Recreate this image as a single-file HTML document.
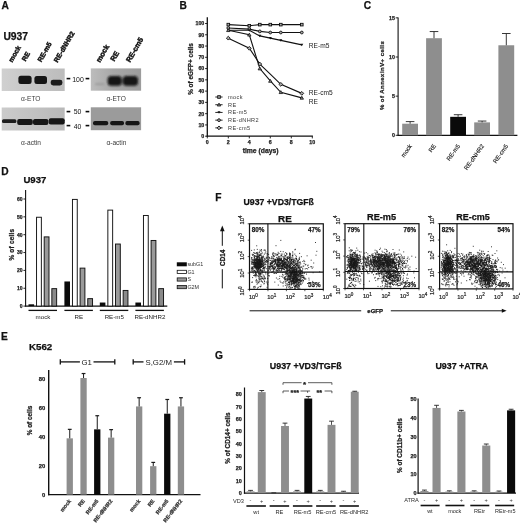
<!DOCTYPE html>
<html lang="en"><head><meta charset="utf-8"><title>Figure</title>
<style>
html,body{margin:0;padding:0;background:#fff;}
body{width:520px;height:528px;overflow:hidden;}
svg{display:block;font-family:"Liberation Sans",sans-serif;}
</style></head><body>
<svg width="520" height="528" viewBox="0 0 520 528">
<rect width="520" height="528" fill="#fff"/>
<g id="panelA">
<text x="1.60" y="9.30" font-size="10.2" font-weight="bold" fill="#111" stroke="#111" stroke-width="0.25">A</text>
<text x="3.40" y="40.00" font-size="10.3" font-weight="bold" fill="#111" stroke="#111" stroke-width="0.25">U937</text>
<defs><linearGradient id="gb1" x1="0" x2="1" y1="0" y2="0"><stop offset="0" stop-color="#d0d0d0"/><stop offset="1" stop-color="#bcbcbc"/></linearGradient><linearGradient id="gb3" x1="0" x2="1" y1="0" y2="0"><stop offset="0" stop-color="#bcbcbc"/><stop offset="0.45" stop-color="#a8a8a8"/><stop offset="1" stop-color="#9c9c9c"/></linearGradient><linearGradient id="gb2" x1="0" x2="1" y1="0" y2="0"><stop offset="0" stop-color="#cbcbcb"/><stop offset="1" stop-color="#b8b8b8"/></linearGradient><filter id="bl" x="-20%" y="-40%" width="140%" height="180%"><feGaussianBlur stdDeviation="0.6"/></filter><filter id="bl3" x="-20%" y="-40%" width="140%" height="180%"><feGaussianBlur stdDeviation="0.85"/></filter><filter id="bl2" x="-20%" y="-40%" width="140%" height="180%"><feGaussianBlur stdDeviation="0.5"/></filter></defs>
<rect x="1.70" y="68.50" width="63.00" height="22.50" fill="url(#gb1)"/>
<rect x="1.70" y="107.50" width="63.00" height="23.00" fill="url(#gb2)"/>
<rect x="90.80" y="68.40" width="50.30" height="22.30" fill="url(#gb3)"/>
<rect x="90.80" y="107.30" width="50.30" height="22.90" fill="#9b9b9b"/>
<g filter="url(#bl)">
<rect x="18.40" y="75.80" width="13.20" height="8.20" fill="#151515" rx="2.5"/>
<rect x="34.40" y="76.00" width="12.60" height="8.00" fill="#151515" rx="2.5"/>
<rect x="50.70" y="79.70" width="11.70" height="5.80" fill="#1c1c1c" rx="2.4"/>
</g>
<g filter="url(#bl3)">
<rect x="107.60" y="76.00" width="14.20" height="9.80" fill="#121212" rx="3.6"/>
<rect x="122.80" y="76.00" width="15.20" height="9.80" fill="#121212" rx="3.6"/>
<rect x="95.00" y="83.30" width="9.50" height="1.80" fill="#999" rx="0.9"/>
</g>
<g filter="url(#bl2)">
<rect x="2.00" y="119.30" width="14.40" height="3.80" fill="#1a1a1a" rx="1.5"/>
<rect x="17.20" y="118.90" width="15.60" height="6.00" fill="#141414" rx="2"/>
<rect x="33.00" y="119.10" width="15.40" height="6.00" fill="#141414" rx="2"/>
<rect x="48.70" y="118.20" width="16.00" height="6.20" fill="#141414" rx="2"/>
<rect x="93.00" y="121.00" width="15.20" height="4.20" fill="#151515" rx="1.8"/>
<rect x="110.20" y="121.00" width="13.80" height="4.20" fill="#151515" rx="1.8"/>
<rect x="125.40" y="121.00" width="14.20" height="4.20" fill="#151515" rx="1.8"/>
</g>
<text x="21.00" y="100.80" font-size="6.6" fill="#3a3a3a">α-ETO</text>
<text x="21.00" y="145.20" font-size="6.6" fill="#3a3a3a">α-actin</text>
<text x="106.40" y="101.00" font-size="6.6" fill="#3a3a3a">α-ETO</text>
<text x="106.40" y="145.20" font-size="6.6" fill="#3a3a3a">α-actin</text>
<text x="78.00" y="82.40" font-size="6.9" text-anchor="middle" fill="#111">100</text>
<text x="77.50" y="114.30" font-size="6.9" text-anchor="middle" fill="#111">50</text>
<text x="77.50" y="128.60" font-size="6.9" text-anchor="middle" fill="#111">40</text>
<line x1="66.60" y1="78.60" x2="70.30" y2="78.60" stroke="#0a0a0a" stroke-width="1.6"/>
<line x1="85.60" y1="78.60" x2="89.30" y2="78.60" stroke="#0a0a0a" stroke-width="1.6"/>
<line x1="66.60" y1="111.60" x2="70.30" y2="111.60" stroke="#0a0a0a" stroke-width="1.6"/>
<line x1="85.60" y1="111.60" x2="89.30" y2="111.60" stroke="#0a0a0a" stroke-width="1.6"/>
<line x1="66.60" y1="125.60" x2="70.30" y2="125.60" stroke="#0a0a0a" stroke-width="1.6"/>
<line x1="85.60" y1="125.60" x2="89.30" y2="125.60" stroke="#0a0a0a" stroke-width="1.6"/>
<text x="12.20" y="62.80" font-size="6.8" font-weight="bold" fill="#111" transform="rotate(-60 12.20 62.80)" stroke="#111" stroke-width="0.45">mock</text>
<text x="25.60" y="61.80" font-size="6.8" font-weight="bold" fill="#111" transform="rotate(-60 25.60 61.80)" stroke="#111" stroke-width="0.45">RE</text>
<text x="41.20" y="62.40" font-size="6.8" font-weight="bold" fill="#111" transform="rotate(-60 41.20 62.40)" stroke="#111" stroke-width="0.45">RE-m5</text>
<text x="57.60" y="62.90" font-size="6.8" font-weight="bold" fill="#111" transform="rotate(-60 57.60 62.90)" stroke="#111" stroke-width="0.45">RE-dNHR2</text>
<text x="99.90" y="63.00" font-size="7.3" font-weight="bold" fill="#111" transform="rotate(-60 99.90 63.00)" stroke="#111" stroke-width="0.45">mock</text>
<text x="114.30" y="61.80" font-size="7.3" font-weight="bold" fill="#111" transform="rotate(-60 114.30 61.80)" stroke="#111" stroke-width="0.45">RE</text>
<text x="130.00" y="62.80" font-size="7.3" font-weight="bold" fill="#111" transform="rotate(-60 130.00 62.80)" stroke="#111" stroke-width="0.45">RE-cm5</text>
</g>
<g id="panelB">
<text x="179.40" y="9.10" font-size="10.2" font-weight="bold" fill="#111" stroke="#111" stroke-width="0.25">B</text>
<line x1="207.30" y1="17.30" x2="207.30" y2="136.80" stroke="#111" stroke-width="1.3"/>
<line x1="206.70" y1="136.20" x2="312.90" y2="136.20" stroke="#111" stroke-width="1.3"/>
<line x1="205.10" y1="136.20" x2="207.30" y2="136.20" stroke="#111" stroke-width="0.9"/>
<text x="204.30" y="138.10" font-size="5.3" font-weight="bold" text-anchor="end" fill="#222" stroke="#222" stroke-width="0.25">0</text>
<line x1="205.10" y1="124.93" x2="207.30" y2="124.93" stroke="#111" stroke-width="0.9"/>
<text x="204.30" y="126.83" font-size="5.3" font-weight="bold" text-anchor="end" fill="#222" stroke="#222" stroke-width="0.25">10</text>
<line x1="205.10" y1="113.66" x2="207.30" y2="113.66" stroke="#111" stroke-width="0.9"/>
<text x="204.30" y="115.56" font-size="5.3" font-weight="bold" text-anchor="end" fill="#222" stroke="#222" stroke-width="0.25">20</text>
<line x1="205.10" y1="102.39" x2="207.30" y2="102.39" stroke="#111" stroke-width="0.9"/>
<text x="204.30" y="104.29" font-size="5.3" font-weight="bold" text-anchor="end" fill="#222" stroke="#222" stroke-width="0.25">30</text>
<line x1="205.10" y1="91.12" x2="207.30" y2="91.12" stroke="#111" stroke-width="0.9"/>
<text x="204.30" y="93.02" font-size="5.3" font-weight="bold" text-anchor="end" fill="#222" stroke="#222" stroke-width="0.25">40</text>
<line x1="205.10" y1="79.85" x2="207.30" y2="79.85" stroke="#111" stroke-width="0.9"/>
<text x="204.30" y="81.75" font-size="5.3" font-weight="bold" text-anchor="end" fill="#222" stroke="#222" stroke-width="0.25">50</text>
<line x1="205.10" y1="68.58" x2="207.30" y2="68.58" stroke="#111" stroke-width="0.9"/>
<text x="204.30" y="70.48" font-size="5.3" font-weight="bold" text-anchor="end" fill="#222" stroke="#222" stroke-width="0.25">60</text>
<line x1="205.10" y1="57.31" x2="207.30" y2="57.31" stroke="#111" stroke-width="0.9"/>
<text x="204.30" y="59.21" font-size="5.3" font-weight="bold" text-anchor="end" fill="#222" stroke="#222" stroke-width="0.25">70</text>
<line x1="205.10" y1="46.04" x2="207.30" y2="46.04" stroke="#111" stroke-width="0.9"/>
<text x="204.30" y="47.94" font-size="5.3" font-weight="bold" text-anchor="end" fill="#222" stroke="#222" stroke-width="0.25">80</text>
<line x1="205.10" y1="34.77" x2="207.30" y2="34.77" stroke="#111" stroke-width="0.9"/>
<text x="204.30" y="36.67" font-size="5.3" font-weight="bold" text-anchor="end" fill="#222" stroke="#222" stroke-width="0.25">90</text>
<line x1="205.10" y1="23.50" x2="207.30" y2="23.50" stroke="#111" stroke-width="0.9"/>
<text x="204.30" y="25.40" font-size="5.3" font-weight="bold" text-anchor="end" fill="#222" stroke="#222" stroke-width="0.25">100</text>
<line x1="207.30" y1="136.20" x2="207.30" y2="138.40" stroke="#111" stroke-width="0.9"/>
<text x="207.30" y="144.20" font-size="5.3" font-weight="bold" text-anchor="middle" fill="#222" stroke="#222" stroke-width="0.25">0</text>
<line x1="228.30" y1="136.20" x2="228.30" y2="138.40" stroke="#111" stroke-width="0.9"/>
<text x="228.30" y="144.20" font-size="5.3" font-weight="bold" text-anchor="middle" fill="#222" stroke="#222" stroke-width="0.25">2</text>
<line x1="249.30" y1="136.20" x2="249.30" y2="138.40" stroke="#111" stroke-width="0.9"/>
<text x="249.30" y="144.20" font-size="5.3" font-weight="bold" text-anchor="middle" fill="#222" stroke="#222" stroke-width="0.25">4</text>
<line x1="270.30" y1="136.20" x2="270.30" y2="138.40" stroke="#111" stroke-width="0.9"/>
<text x="270.30" y="144.20" font-size="5.3" font-weight="bold" text-anchor="middle" fill="#222" stroke="#222" stroke-width="0.25">6</text>
<line x1="291.30" y1="136.20" x2="291.30" y2="138.40" stroke="#111" stroke-width="0.9"/>
<text x="291.30" y="144.20" font-size="5.3" font-weight="bold" text-anchor="middle" fill="#222" stroke="#222" stroke-width="0.25">8</text>
<line x1="312.30" y1="136.20" x2="312.30" y2="138.40" stroke="#111" stroke-width="0.9"/>
<text x="312.30" y="144.20" font-size="5.3" font-weight="bold" text-anchor="middle" fill="#222" stroke="#222" stroke-width="0.25">10</text>
<text x="192.60" y="69.00" font-size="6.4" font-weight="bold" text-anchor="middle" fill="#222" transform="rotate(-90 192.60 69.00)" stroke="#222" stroke-width="0.25">% of eGFP+ cells</text>
<text x="260.60" y="153.40" font-size="6.8" font-weight="bold" text-anchor="middle" fill="#222" stroke="#222" stroke-width="0.25">time (days)</text>
<polyline points="228.30,24.63 249.30,25.75 259.80,24.63 270.30,24.63 280.80,24.63 301.80,24.63" fill="none" stroke="#111" stroke-width="1.1"/>
<polyline points="228.30,28.01 249.30,29.13 259.80,31.39 270.30,32.52 280.80,32.52 301.80,32.52" fill="none" stroke="#111" stroke-width="1.1"/>
<polyline points="228.30,30.26 249.30,30.26 259.80,35.90 270.30,38.15 280.80,40.40 301.80,44.91" fill="none" stroke="#111" stroke-width="1.1"/>
<polyline points="228.30,30.26 249.30,34.77 259.80,68.58 270.30,80.98 280.80,92.25 301.80,97.88" fill="none" stroke="#111" stroke-width="1.1"/>
<polyline points="228.30,38.15 249.30,48.29 259.80,64.07 270.30,74.21 280.80,84.36 301.80,93.37" fill="none" stroke="#111" stroke-width="1.1"/>
<rect x="227.00" y="23.33" width="2.60" height="2.60" fill="#aaa" stroke="#111" stroke-width="0.9"/>
<rect x="248.00" y="24.45" width="2.60" height="2.60" fill="#aaa" stroke="#111" stroke-width="0.9"/>
<rect x="258.50" y="23.33" width="2.60" height="2.60" fill="#aaa" stroke="#111" stroke-width="0.9"/>
<rect x="269.00" y="23.33" width="2.60" height="2.60" fill="#aaa" stroke="#111" stroke-width="0.9"/>
<rect x="279.50" y="23.33" width="2.60" height="2.60" fill="#aaa" stroke="#111" stroke-width="0.9"/>
<rect x="300.50" y="23.33" width="2.60" height="2.60" fill="#aaa" stroke="#111" stroke-width="0.9"/>
<circle cx="228.30" cy="28.01" r="1.4" fill="#aaa" stroke="#111" stroke-width="0.9"/>
<circle cx="249.30" cy="29.13" r="1.4" fill="#aaa" stroke="#111" stroke-width="0.9"/>
<circle cx="259.80" cy="31.39" r="1.4" fill="#aaa" stroke="#111" stroke-width="0.9"/>
<circle cx="270.30" cy="32.52" r="1.4" fill="#aaa" stroke="#111" stroke-width="0.9"/>
<circle cx="280.80" cy="32.52" r="1.4" fill="#aaa" stroke="#111" stroke-width="0.9"/>
<circle cx="301.80" cy="32.52" r="1.4" fill="#aaa" stroke="#111" stroke-width="0.9"/>
<path d="M226.80 29.16 h3.0 l-1.5 2.5 z" fill="#111"/>
<path d="M247.80 29.16 h3.0 l-1.5 2.5 z" fill="#111"/>
<path d="M258.30 34.80 h3.0 l-1.5 2.5 z" fill="#111"/>
<path d="M268.80 37.05 h3.0 l-1.5 2.5 z" fill="#111"/>
<path d="M279.30 39.30 h3.0 l-1.5 2.5 z" fill="#111"/>
<path d="M300.30 43.81 h3.0 l-1.5 2.5 z" fill="#111"/>
<path d="M226.60 31.56 h3.4 l-1.7 -2.9 z" fill="#888" stroke="#111" stroke-width="0.8"/>
<path d="M247.60 36.07 h3.4 l-1.7 -2.9 z" fill="#888" stroke="#111" stroke-width="0.8"/>
<path d="M258.10 69.88 h3.4 l-1.7 -2.9 z" fill="#888" stroke="#111" stroke-width="0.8"/>
<path d="M268.60 82.28 h3.4 l-1.7 -2.9 z" fill="#888" stroke="#111" stroke-width="0.8"/>
<path d="M279.10 93.55 h3.4 l-1.7 -2.9 z" fill="#888" stroke="#111" stroke-width="0.8"/>
<path d="M300.10 99.18 h3.4 l-1.7 -2.9 z" fill="#888" stroke="#111" stroke-width="0.8"/>
<path d="M226.40 38.15 l1.9 -1.9 l1.9 1.9 l-1.9 1.9 z" fill="#aaa" stroke="#111" stroke-width="0.9"/>
<path d="M247.40 48.29 l1.9 -1.9 l1.9 1.9 l-1.9 1.9 z" fill="#aaa" stroke="#111" stroke-width="0.9"/>
<path d="M257.90 64.07 l1.9 -1.9 l1.9 1.9 l-1.9 1.9 z" fill="#aaa" stroke="#111" stroke-width="0.9"/>
<path d="M278.90 84.36 l1.9 -1.9 l1.9 1.9 l-1.9 1.9 z" fill="#aaa" stroke="#111" stroke-width="0.9"/>
<path d="M299.90 93.37 l1.9 -1.9 l1.9 1.9 l-1.9 1.9 z" fill="#aaa" stroke="#111" stroke-width="0.9"/>
<text x="308.80" y="47.60" font-size="6.6" fill="#222">RE-m5</text>
<text x="308.80" y="95.00" font-size="6.6" fill="#222">RE-cm5</text>
<text x="308.80" y="103.50" font-size="6.6" fill="#222">RE</text>
<line x1="215.30" y1="97.00" x2="222.60" y2="97.00" stroke="#111" stroke-width="0.9"/>
<rect x="217.70" y="95.70" width="2.60" height="2.60" fill="#aaa" stroke="#111" stroke-width="0.9"/>
<text x="228.10" y="99.00" font-size="5.6" letter-spacing="0.35" fill="#3a3a3a">mock</text>
<line x1="215.30" y1="104.72" x2="222.60" y2="104.72" stroke="#111" stroke-width="0.9"/>
<path d="M217.30 106.02 h3.4 l-1.7 -2.9 z" fill="#888" stroke="#111" stroke-width="0.8"/>
<text x="228.10" y="106.72" font-size="5.6" letter-spacing="0.35" fill="#3a3a3a">RE</text>
<line x1="215.30" y1="112.44" x2="222.60" y2="112.44" stroke="#111" stroke-width="0.9"/>
<path d="M217.50 111.34 h3.0 l-1.5 2.5 z" fill="#111"/>
<text x="228.10" y="114.44" font-size="5.6" letter-spacing="0.35" fill="#3a3a3a">RE-m5</text>
<line x1="215.30" y1="120.16" x2="222.60" y2="120.16" stroke="#111" stroke-width="0.9"/>
<circle cx="219.00" cy="120.16" r="1.4" fill="#aaa" stroke="#111" stroke-width="0.9"/>
<text x="228.10" y="122.16" font-size="5.6" letter-spacing="0.35" fill="#3a3a3a">RE-dNHR2</text>
<line x1="215.30" y1="127.88" x2="222.60" y2="127.88" stroke="#111" stroke-width="0.9"/>
<path d="M217.10 127.88 l1.9 -1.9 l1.9 1.9 l-1.9 1.9 z" fill="#aaa" stroke="#111" stroke-width="0.9"/>
<text x="228.10" y="129.88" font-size="5.6" letter-spacing="0.35" fill="#3a3a3a">RE-cm5</text>
</g>
<g id="panelC">
<text x="363.80" y="9.10" font-size="10.2" font-weight="bold" fill="#111" stroke="#111" stroke-width="0.25">C</text>
<line x1="398.10" y1="17.40" x2="398.10" y2="135.80" stroke="#111" stroke-width="1.1"/>
<line x1="397.60" y1="135.30" x2="517.40" y2="135.30" stroke="#111" stroke-width="1.2"/>
<line x1="395.70" y1="135.30" x2="398.10" y2="135.30" stroke="#111" stroke-width="0.9"/>
<text x="394.90" y="137.20" font-size="5.3" font-weight="bold" text-anchor="end" fill="#222" stroke="#222" stroke-width="0.25">0</text>
<line x1="395.70" y1="96.15" x2="398.10" y2="96.15" stroke="#111" stroke-width="0.9"/>
<text x="394.90" y="98.05" font-size="5.3" font-weight="bold" text-anchor="end" fill="#222" stroke="#222" stroke-width="0.25">5</text>
<line x1="395.70" y1="57.00" x2="398.10" y2="57.00" stroke="#111" stroke-width="0.9"/>
<text x="394.90" y="58.90" font-size="5.3" font-weight="bold" text-anchor="end" fill="#222" stroke="#222" stroke-width="0.25">10</text>
<line x1="395.70" y1="17.85" x2="398.10" y2="17.85" stroke="#111" stroke-width="0.9"/>
<text x="394.90" y="19.75" font-size="5.3" font-weight="bold" text-anchor="end" fill="#222" stroke="#222" stroke-width="0.25">15</text>
<text x="384.20" y="75.40" font-size="6.0" font-weight="bold" text-anchor="middle" letter-spacing="0.45" fill="#222" transform="rotate(-90 384.20 75.40)" stroke="#222" stroke-width="0.25">% of AnnexinV+ cells</text>
<rect x="402.20" y="123.71" width="15.80" height="11.59" fill="#8e8e8e"/>
<line x1="410.10" y1="123.71" x2="410.10" y2="121.60" stroke="#222" stroke-width="0.9"/>
<line x1="405.80" y1="121.60" x2="414.40" y2="121.60" stroke="#222" stroke-width="0.9"/>
<text x="412.30" y="146.00" font-size="6.0" text-anchor="end" fill="#222" transform="rotate(-55 412.30 146.00)" stroke="#222" stroke-width="0.15">mock</text>
<rect x="426.10" y="38.21" width="15.80" height="97.09" fill="#8e8e8e"/>
<line x1="434.00" y1="38.21" x2="434.00" y2="31.55" stroke="#222" stroke-width="0.9"/>
<line x1="429.70" y1="31.55" x2="438.30" y2="31.55" stroke="#222" stroke-width="0.9"/>
<text x="436.20" y="146.00" font-size="6.0" text-anchor="end" fill="#222" transform="rotate(-55 436.20 146.00)" stroke="#222" stroke-width="0.15">RE</text>
<rect x="450.20" y="116.82" width="15.80" height="18.48" fill="#0a0a0a"/>
<line x1="458.10" y1="116.82" x2="458.10" y2="114.71" stroke="#222" stroke-width="0.9"/>
<line x1="453.80" y1="114.71" x2="462.40" y2="114.71" stroke="#222" stroke-width="0.9"/>
<text x="460.30" y="146.00" font-size="6.0" text-anchor="end" fill="#222" transform="rotate(-55 460.30 146.00)" stroke="#222" stroke-width="0.15">RE-m5</text>
<rect x="474.20" y="122.38" width="15.80" height="12.92" fill="#8e8e8e"/>
<line x1="482.10" y1="122.38" x2="482.10" y2="121.05" stroke="#222" stroke-width="0.9"/>
<line x1="477.80" y1="121.05" x2="486.40" y2="121.05" stroke="#222" stroke-width="0.9"/>
<text x="484.30" y="146.00" font-size="6.0" text-anchor="end" fill="#222" transform="rotate(-55 484.30 146.00)" stroke="#222" stroke-width="0.15">RE-dNHR2</text>
<rect x="498.40" y="45.26" width="15.80" height="90.05" fill="#8e8e8e"/>
<line x1="506.30" y1="45.26" x2="506.30" y2="33.51" stroke="#222" stroke-width="0.9"/>
<line x1="502.00" y1="33.51" x2="510.60" y2="33.51" stroke="#222" stroke-width="0.9"/>
<text x="508.50" y="146.00" font-size="6.0" text-anchor="end" fill="#222" transform="rotate(-55 508.50 146.00)" stroke="#222" stroke-width="0.15">RE-cm5</text>
</g>
<g id="panelD">
<text x="1.20" y="174.70" font-size="10.2" font-weight="bold" fill="#111" stroke="#111" stroke-width="0.25">D</text>
<text x="23.40" y="183.00" font-size="9.6" font-weight="bold" fill="#111" stroke="#111" stroke-width="0.25">U937</text>
<line x1="25.60" y1="189.90" x2="25.60" y2="306.60" stroke="#111" stroke-width="1.1"/>
<line x1="25.10" y1="306.10" x2="167.30" y2="306.10" stroke="#111" stroke-width="1.1"/>
<line x1="23.40" y1="306.10" x2="25.60" y2="306.10" stroke="#111" stroke-width="0.9"/>
<text x="22.60" y="307.90" font-size="5.0" font-weight="bold" text-anchor="end" fill="#222" stroke="#222" stroke-width="0.25">0</text>
<line x1="23.40" y1="288.25" x2="25.60" y2="288.25" stroke="#111" stroke-width="0.9"/>
<text x="22.60" y="290.05" font-size="5.0" font-weight="bold" text-anchor="end" fill="#222" stroke="#222" stroke-width="0.25">10</text>
<line x1="23.40" y1="270.40" x2="25.60" y2="270.40" stroke="#111" stroke-width="0.9"/>
<text x="22.60" y="272.20" font-size="5.0" font-weight="bold" text-anchor="end" fill="#222" stroke="#222" stroke-width="0.25">20</text>
<line x1="23.40" y1="252.55" x2="25.60" y2="252.55" stroke="#111" stroke-width="0.9"/>
<text x="22.60" y="254.35" font-size="5.0" font-weight="bold" text-anchor="end" fill="#222" stroke="#222" stroke-width="0.25">30</text>
<line x1="23.40" y1="234.70" x2="25.60" y2="234.70" stroke="#111" stroke-width="0.9"/>
<text x="22.60" y="236.50" font-size="5.0" font-weight="bold" text-anchor="end" fill="#222" stroke="#222" stroke-width="0.25">40</text>
<line x1="23.40" y1="216.85" x2="25.60" y2="216.85" stroke="#111" stroke-width="0.9"/>
<text x="22.60" y="218.65" font-size="5.0" font-weight="bold" text-anchor="end" fill="#222" stroke="#222" stroke-width="0.25">50</text>
<line x1="23.40" y1="199.00" x2="25.60" y2="199.00" stroke="#111" stroke-width="0.9"/>
<text x="22.60" y="200.80" font-size="5.0" font-weight="bold" text-anchor="end" fill="#222" stroke="#222" stroke-width="0.25">60</text>
<text x="13.60" y="244.60" font-size="6.4" font-weight="bold" text-anchor="middle" letter-spacing="0.25" fill="#222" transform="rotate(-90 13.60 244.60)" stroke="#222" stroke-width="0.25">% of cells</text>
<rect x="28.50" y="304.31" width="5.60" height="1.79" fill="#0a0a0a"/>
<rect x="36.55" y="217.25" width="4.80" height="88.85" fill="#ffffff" stroke="#111" stroke-width="0.95"/>
<rect x="44.20" y="236.89" width="4.80" height="69.22" fill="#9a9a9a" stroke="#111" stroke-width="0.95"/>
<rect x="51.85" y="288.65" width="4.80" height="17.45" fill="#8a8a8a" stroke="#111" stroke-width="0.95"/>
<line x1="28.50" y1="310.40" x2="57.00" y2="310.40" stroke="#111" stroke-width="1.3"/>
<text x="43.00" y="319.20" font-size="6.2" text-anchor="middle" fill="#222">mock</text>
<rect x="64.40" y="281.47" width="5.60" height="24.63" fill="#0a0a0a"/>
<rect x="72.45" y="199.40" width="4.80" height="106.70" fill="#ffffff" stroke="#111" stroke-width="0.95"/>
<rect x="80.10" y="268.12" width="4.80" height="37.98" fill="#9a9a9a" stroke="#111" stroke-width="0.95"/>
<rect x="87.75" y="298.65" width="4.80" height="7.45" fill="#8a8a8a" stroke="#111" stroke-width="0.95"/>
<line x1="64.40" y1="310.40" x2="92.90" y2="310.40" stroke="#111" stroke-width="1.3"/>
<text x="78.90" y="319.20" font-size="6.2" text-anchor="middle" fill="#222">RE</text>
<rect x="99.80" y="302.53" width="5.60" height="3.57" fill="#0a0a0a"/>
<rect x="107.85" y="210.11" width="4.80" height="95.99" fill="#ffffff" stroke="#111" stroke-width="0.95"/>
<rect x="115.50" y="244.03" width="4.80" height="62.07" fill="#9a9a9a" stroke="#111" stroke-width="0.95"/>
<rect x="123.15" y="290.44" width="4.80" height="15.66" fill="#8a8a8a" stroke="#111" stroke-width="0.95"/>
<line x1="99.80" y1="310.40" x2="128.30" y2="310.40" stroke="#111" stroke-width="1.3"/>
<text x="114.30" y="319.20" font-size="6.2" text-anchor="middle" fill="#222">RE-m5</text>
<rect x="135.40" y="302.53" width="5.60" height="3.57" fill="#0a0a0a"/>
<rect x="143.45" y="215.47" width="4.80" height="90.63" fill="#ffffff" stroke="#111" stroke-width="0.95"/>
<rect x="151.10" y="240.46" width="4.80" height="65.65" fill="#9a9a9a" stroke="#111" stroke-width="0.95"/>
<rect x="158.75" y="288.65" width="4.80" height="17.45" fill="#8a8a8a" stroke="#111" stroke-width="0.95"/>
<line x1="135.40" y1="310.40" x2="163.90" y2="310.40" stroke="#111" stroke-width="1.3"/>
<text x="149.90" y="319.20" font-size="6.2" text-anchor="middle" fill="#222">RE-dNHR2</text>
<rect x="176.80" y="262.30" width="10.00" height="4.00" fill="#0a0a0a"/>
<text x="187.40" y="266.20" font-size="5.4" fill="#333">subG1</text>
<rect x="177.20" y="270.30" width="9.20" height="3.20" fill="#fff" stroke="#111" stroke-width="0.8"/>
<text x="187.40" y="273.80" font-size="5.4" fill="#333">G1</text>
<rect x="177.20" y="277.90" width="9.20" height="3.20" fill="#9a9a9a" stroke="#111" stroke-width="0.8"/>
<text x="187.40" y="281.40" font-size="5.4" fill="#333">S</text>
<rect x="177.20" y="285.50" width="9.20" height="3.20" fill="#8a8a8a" stroke="#111" stroke-width="0.8"/>
<text x="187.40" y="289.00" font-size="5.4" fill="#333">G2M</text>
</g>
<g id="panelF">
<text x="215.20" y="200.80" font-size="10.2" font-weight="bold" fill="#111" stroke="#111" stroke-width="0.25">F</text>
<text x="243.60" y="204.50" font-size="8.7" font-weight="bold" fill="#111" stroke="#111" stroke-width="0.25">U937 +VD3/TGFß</text>
<line x1="222.30" y1="230.50" x2="222.30" y2="245.80" stroke="#111" stroke-width="1.0"/>
<line x1="222.30" y1="269.20" x2="222.30" y2="288.40" stroke="#111" stroke-width="1.0"/>
<path d="M222.3 225.6 l-2.3 5.6 h4.6 z" fill="#111"/>
<text x="224.60" y="257.80" font-size="6.4" font-weight="bold" text-anchor="middle" fill="#111" transform="rotate(-90 224.60 257.80)" stroke="#111" stroke-width="0.25">CD14</text>
<text x="284.90" y="222.10" font-size="9.9" font-weight="bold" text-anchor="middle" fill="#111" stroke="#111" stroke-width="0.25">RE</text>
<path d="M256.6 265.6h1M256.7 261.4h1M254.3 261.9h1M261.1 265.1h1M260.8 264.2h1M258.7 263.9h1M251.9 267.3h1M259.1 265.5h1M251.8 254.3h1M254.5 260.7h1M258.4 262.8h1M259.1 259.8h1M258.4 265.0h1M255.2 271.6h1M259.2 269.0h1M255.4 259.3h1M256.3 262.5h1M259.5 264.2h1M255.9 258.2h1M255.7 269.1h1M254.7 264.2h1M258.8 255.6h1M257.6 269.5h1M250.8 261.4h1M257.0 258.9h1M259.0 262.7h1M252.6 267.1h1M259.6 267.7h1M262.2 264.8h1M257.8 256.5h1M259.4 259.9h1M255.9 256.7h1M254.2 260.3h1M261.7 252.8h1M252.6 264.2h1M262.2 265.9h1M251.1 250.4h1M258.6 259.3h1M253.7 267.9h1M261.0 263.8h1M258.2 265.2h1M262.7 266.1h1M259.1 265.7h1M252.2 269.4h1M260.6 265.6h1M250.9 259.8h1M260.2 253.9h1M256.8 268.1h1M253.1 271.1h1M259.2 262.2h1M258.5 266.2h1M257.8 268.7h1M255.2 260.9h1M260.8 263.1h1M254.5 267.7h1M262.2 260.8h1M252.8 262.3h1M256.9 261.5h1M262.0 257.9h1M261.6 256.7h1M254.8 266.2h1M261.1 267.3h1M258.5 263.7h1M257.9 265.9h1M256.8 264.4h1M259.3 263.0h1M259.9 265.8h1M264.0 264.6h1M256.0 261.1h1M257.4 267.6h1M256.3 264.9h1M263.5 250.2h1M253.7 264.2h1M258.7 264.2h1M256.0 266.3h1M258.3 260.4h1M265.4 264.8h1M255.6 262.5h1M256.7 262.7h1M260.7 257.2h1M257.2 267.8h1M260.2 270.5h1M251.8 261.2h1M256.3 266.1h1M261.0 249.6h1M261.0 255.8h1M259.7 255.5h1M258.0 269.0h1M256.9 264.0h1M260.0 263.7h1M257.1 270.7h1M260.9 261.5h1M266.5 257.3h1M260.4 261.7h1M257.8 266.5h1M258.1 266.2h1M252.4 255.5h1M259.4 258.2h1M254.0 255.6h1M261.6 266.7h1M262.3 258.3h1M257.4 257.3h1M259.9 270.9h1M254.5 270.8h1M260.7 262.1h1M250.9 270.0h1M257.1 260.0h1M258.7 265.0h1M262.3 257.9h1M261.1 270.4h1M262.2 262.1h1M254.9 268.1h1M257.8 263.6h1M262.1 261.7h1M251.3 267.1h1M258.4 259.9h1M257.4 267.2h1M257.7 269.6h1M257.2 268.2h1M262.3 271.0h1M255.2 267.4h1M251.2 257.6h1M250.9 268.3h1M253.3 262.9h1M256.8 262.9h1M255.4 264.2h1M263.3 263.2h1M259.2 268.0h1M256.7 256.7h1M255.6 268.4h1M252.0 260.0h1M260.7 267.0h1M257.4 267.0h1M257.9 257.1h1M252.2 259.8h1M260.4 260.2h1M254.4 259.1h1M252.3 262.4h1M253.5 264.8h1M255.3 253.3h1M259.8 261.6h1M258.4 260.7h1M260.0 266.7h1M259.6 264.6h1M261.8 266.3h1M258.9 252.6h1M260.4 269.5h1M256.4 260.7h1M263.8 254.2h1M258.9 275.1h1M254.3 266.4h1M263.6 262.4h1M259.3 267.5h1M254.4 262.6h1M258.4 267.1h1M257.3 262.0h1M254.0 261.2h1M260.3 263.5h1M254.6 258.8h1M266.2 268.7h1M259.5 250.0h1M259.5 265.4h1M263.0 265.1h1M257.2 265.6h1M251.0 268.2h1M258.5 259.5h1M261.8 272.0h1M252.8 259.7h1M258.4 263.9h1M256.1 258.1h1M264.4 268.2h1M253.5 256.3h1M263.0 267.9h1M263.4 267.1h1M254.5 264.3h1M257.2 265.6h1M255.0 262.4h1M258.9 264.9h1M259.5 264.0h1M256.3 266.9h1M257.6 258.9h1M255.3 263.0h1M257.0 263.8h1M257.4 263.9h1M257.0 256.7h1M258.8 268.3h1M258.8 262.1h1M258.9 258.2h1M251.1 263.3h1M254.3 266.7h1M253.8 249.9h1M254.0 270.9h1M256.1 256.2h1M254.9 265.6h1M259.0 263.9h1M262.3 266.5h1M257.3 266.0h1M262.9 267.9h1M260.8 257.6h1M256.9 266.6h1M256.4 268.3h1M259.4 267.5h1M256.7 275.7h1M261.5 261.9h1M257.7 276.0h1M256.3 267.4h1M260.6 263.0h1M253.5 263.9h1M258.6 268.6h1M260.0 263.1h1M260.2 265.7h1M258.1 263.3h1M256.6 266.4h1M253.9 259.9h1M257.4 255.7h1M256.0 253.0h1M255.1 265.8h1M259.3 262.7h1M256.6 255.9h1M263.4 265.6h1M261.0 258.6h1M256.8 253.9h1M260.0 267.7h1M251.1 262.7h1M259.5 254.2h1M251.4 257.7h1M255.3 256.0h1M257.5 264.2h1M259.5 266.5h1M262.4 268.8h1M253.1 260.5h1M253.9 257.6h1M257.1 263.0h1M259.0 255.1h1M253.3 262.9h1M256.7 261.4h1M257.2 259.2h1M259.7 264.8h1M257.1 259.6h1M256.8 249.4h1M254.2 263.2h1M252.4 264.0h1M257.9 256.1h1M256.6 261.4h1M258.9 266.1h1M257.3 258.7h1M256.9 262.7h1M259.8 264.5h1M255.0 256.2h1M256.2 259.3h1M253.7 262.4h1M255.8 263.5h1M259.1 260.9h1M265.1 261.4h1M261.0 263.6h1M261.1 251.1h1M254.9 264.2h1M259.4 274.7h1M258.5 269.4h1M259.9 267.7h1M259.1 262.2h1M259.1 257.6h1M261.3 257.9h1M258.2 273.6h1M256.7 263.1h1M261.2 263.1h1M254.7 264.3h1M259.3 266.6h1M254.9 271.8h1M262.9 263.1h1M258.3 260.9h1M262.1 259.5h1M259.6 260.6h1M255.1 266.6h1M261.8 262.9h1M255.2 267.1h1M257.2 264.6h1M262.4 268.7h1M255.7 274.4h1M257.4 266.9h1M255.3 262.8h1M251.6 271.9h1M261.9 256.9h1M252.4 254.9h1M261.3 260.7h1M257.2 261.4h1M257.0 257.6h1M257.5 255.8h1M257.2 264.5h1M258.9 261.8h1M254.4 263.8h1M255.8 270.8h1M259.9 262.4h1M255.8 259.5h1M254.3 261.2h1M258.4 265.6h1M259.3 273.5h1M255.1 263.1h1M266.6 253.7h1M255.7 263.8h1M257.9 265.0h1M256.6 264.8h1M257.6 266.9h1M251.2 258.6h1M257.4 257.8h1M254.0 266.1h1M255.3 266.2h1M259.9 264.5h1M259.1 262.5h1M252.7 262.8h1M258.9 260.4h1M257.1 266.7h1M254.5 266.2h1M263.5 260.2h1M257.9 262.2h1M262.5 264.6h1M260.4 259.5h1M257.3 263.0h1M251.5 270.2h1M260.4 254.3h1M259.9 262.3h1M258.9 264.8h1M252.5 261.9h1M262.3 260.1h1M254.0 256.2h1M253.4 264.7h1M263.0 265.1h1M258.2 274.2h1M255.7 259.6h1M259.1 265.7h1M254.1 257.2h1M258.4 264.2h1M253.1 262.0h1M255.6 265.3h1M257.0 262.6h1M256.2 268.3h1M262.0 261.2h1M260.2 259.2h1M257.6 266.7h1M262.4 261.1h1M257.2 264.0h1M252.5 263.1h1M255.2 264.9h1M253.7 253.1h1M257.5 264.3h1M255.6 267.4h1M256.5 260.0h1M259.0 255.2h1M255.2 262.9h1M260.2 262.2h1M258.4 259.7h1M258.4 271.3h1M255.1 274.8h1M255.3 263.1h1M258.0 268.1h1M253.3 252.5h1M259.4 267.0h1M259.5 276.2h1M258.1 264.3h1M260.5 264.8h1M262.9 256.8h1M256.2 245.8h1M260.1 261.1h1M260.4 273.8h1M257.4 261.7h1M255.8 258.8h1M255.3 266.2h1M257.5 263.3h1M256.8 267.6h1M259.0 262.3h1M259.6 262.2h1M253.6 270.3h1M258.9 258.2h1M261.0 264.7h1M252.2 271.0h1M258.5 267.5h1M258.1 262.3h1M252.3 267.9h1M257.5 261.6h1M258.6 263.4h1M259.6 261.1h1M257.3 252.3h1M256.0 266.4h1M261.8 261.2h1M257.0 270.9h1M256.3 266.7h1M262.9 263.2h1M261.4 259.4h1M258.1 262.6h1M257.8 268.6h1M265.3 259.7h1M255.5 265.5h1M253.9 265.5h1M259.3 261.6h1M259.2 255.3h1M259.9 255.3h1M255.1 260.2h1M256.1 267.3h1M257.7 261.0h1M259.2 270.9h1M257.4 264.8h1M261.5 264.3h1M253.2 275.5h1M264.7 253.1h1M257.3 265.1h1M260.6 266.3h1M256.5 257.7h1M257.7 268.2h1M253.8 257.9h1M257.3 253.3h1M256.5 260.8h1M258.9 259.5h1M254.5 261.0h1M257.2 259.7h1M257.4 266.8h1M261.3 271.5h1M254.8 260.9h1M255.0 262.8h1M259.1 256.2h1M258.9 262.9h1M251.4 264.5h1M261.3 253.7h1M260.1 264.0h1M259.0 265.2h1M261.7 261.9h1M260.3 261.0h1M259.8 258.9h1M257.0 271.7h1M258.9 262.2h1M253.6 259.0h1M258.0 267.7h1M258.8 265.6h1M257.3 269.8h1M256.1 260.3h1M260.3 263.3h1M256.5 260.1h1M256.6 266.1h1M258.6 257.0h1M258.8 263.9h1M254.1 266.9h1M256.5 261.3h1M260.0 269.6h1M255.1 265.2h1M254.5 274.6h1M255.8 269.0h1M255.3 267.1h1M264.7 250.3h1M256.0 265.5h1M257.1 259.7h1M264.5 263.4h1M252.0 267.3h1M251.7 268.8h1M255.5 263.7h1M261.6 263.6h1M252.8 254.5h1M261.3 266.7h1M254.7 267.3h1M259.0 266.2h1M260.4 266.7h1M260.3 250.7h1M258.0 265.5h1M265.8 258.2h1M256.3 263.2h1M260.3 260.8h1M261.2 259.1h1M258.3 260.4h1M257.9 259.5h1M252.1 268.5h1M258.4 260.2h1M258.1 268.0h1M254.2 262.4h1M259.2 265.6h1M256.3 252.5h1M261.5 264.6h1M257.4 261.6h1M258.3 260.9h1M254.0 259.3h1M255.4 259.9h1M253.6 266.2h1M253.1 266.3h1M254.1 264.8h1M261.9 264.0h1M255.0 263.2h1M257.9 254.3h1M255.4 263.8h1M255.9 263.4h1M259.8 266.8h1M260.4 265.9h1M256.4 262.9h1M256.5 261.4h1M256.8 254.4h1M256.3 262.9h1M254.2 262.9h1M259.1 262.2h1M264.3 250.0h1M256.7 253.9h1M260.6 276.3h1M259.1 261.5h1M259.2 251.8h1M260.2 264.9h1M257.5 260.1h1M259.5 260.6h1M258.1 260.4h1M258.1 266.8h1M254.5 262.8h1M259.4 263.7h1M261.5 273.0h1M254.4 253.4h1M260.2 270.6h1M260.4 267.1h1M255.4 259.4h1M262.5 272.1h1M255.4 273.3h1M259.5 273.1h1M264.4 277.5h1M253.6 286.5h1M255.9 279.4h1M258.4 276.0h1M260.0 273.5h1M252.8 273.1h1M258.4 278.4h1M261.0 278.8h1M254.9 273.4h1M260.7 281.4h1M258.0 276.9h1M262.7 278.1h1M261.8 281.8h1M259.5 286.5h1M255.9 275.7h1M254.9 272.8h1M258.6 281.7h1M263.8 283.2h1M263.9 269.8h1M255.6 280.9h1M265.0 278.7h1M254.6 275.7h1M255.5 272.4h1M265.3 273.9h1M263.8 280.2h1M255.7 280.7h1M265.8 282.0h1M264.2 278.6h1M260.8 276.7h1M260.4 286.5h1M252.1 277.6h1M259.6 274.3h1M257.1 283.1h1M267.5 282.1h1M260.0 267.9h1M267.2 278.5h1M258.3 270.7h1M258.2 270.9h1M258.8 281.0h1M258.6 279.8h1M254.7 287.3h1M255.6 266.2h1M257.7 273.0h1M254.0 275.7h1M259.8 270.3h1M257.9 287.3h1M261.6 277.0h1M259.1 277.2h1M258.3 282.8h1M258.1 262.4h1M258.4 272.2h1M261.4 274.0h1M253.8 270.7h1M252.1 262.4h1M255.6 265.9h1M251.8 282.0h1M255.0 275.6h1M260.0 286.8h1M267.2 284.7h1M259.1 279.2h1M266.6 287.3h1M257.1 281.0h1M259.8 278.3h1M256.2 269.4h1M256.1 268.0h1M264.0 281.5h1M253.1 287.1h1M262.5 265.6h1M266.8 283.3h1M267.8 270.0h1M260.9 280.8h1M259.4 279.1h1M263.2 268.3h1M252.9 268.9h1M256.0 274.1h1M260.2 279.7h1M258.6 273.6h1M256.5 284.2h1M261.9 278.7h1M257.0 288.1h1M255.8 282.2h1M263.7 276.3h1M262.2 270.7h1M263.1 279.3h1M251.4 282.4h1M254.5 286.3h1M255.4 276.9h1M259.8 275.8h1M259.7 274.4h1M261.5 278.0h1M259.4 260.1h1M263.7 278.2h1M260.6 285.0h1M253.6 288.1h1M257.8 282.4h1M256.9 270.7h1M263.4 283.9h1M296.6 267.8h1M276.6 255.2h1M275.8 260.1h1M274.3 266.4h1M285.1 262.2h1M283.6 262.8h1M284.0 267.3h1M291.1 260.1h1M267.7 270.6h1M283.1 269.0h1M266.4 261.9h1M282.3 256.3h1M277.1 267.1h1M292.2 271.5h1M273.8 256.5h1M286.9 268.2h1M283.8 257.0h1M289.4 267.5h1M287.3 261.1h1M284.9 267.5h1M276.7 254.3h1M285.1 265.9h1M282.1 267.9h1M276.4 263.1h1M279.1 266.4h1M297.2 262.2h1M301.5 271.1h1M289.5 266.4h1M298.8 262.6h1M280.9 258.2h1M286.5 270.2h1M287.1 265.6h1M280.1 264.3h1M268.5 268.7h1M278.1 258.0h1M274.9 259.4h1M290.1 268.8h1M269.1 268.1h1M290.4 260.6h1M267.9 259.8h1M276.0 265.2h1M278.6 253.4h1M284.2 255.8h1M290.6 257.5h1M275.4 259.2h1M276.8 270.0h1M290.1 266.5h1M285.0 255.8h1M277.1 260.7h1M272.7 266.0h1M275.0 260.0h1M272.1 253.2h1M287.7 270.2h1M283.7 258.6h1M256.3 264.4h1M293.6 265.0h1M290.8 270.9h1M292.7 261.3h1M292.0 267.4h1M267.4 261.5h1M268.5 263.0h1M287.5 258.2h1M262.5 270.0h1M285.6 270.9h1M269.4 268.8h1M301.7 273.5h1M280.0 264.8h1M280.5 268.5h1M291.9 263.9h1M269.1 267.2h1M277.5 266.6h1M284.5 271.6h1M292.8 261.2h1M285.3 272.3h1M276.9 265.7h1M293.3 269.8h1M286.9 256.9h1M270.0 264.7h1M285.7 276.2h1M273.8 269.2h1M289.3 255.1h1M274.2 264.3h1M277.3 262.7h1M286.5 259.5h1M286.4 260.3h1M276.8 266.2h1M276.6 264.9h1M297.2 263.6h1M280.6 267.2h1M278.5 268.9h1M269.8 266.6h1M277.1 259.5h1M298.8 259.2h1M298.7 266.8h1M295.8 258.6h1M293.4 270.8h1M280.9 262.9h1M305.3 264.4h1M278.0 260.4h1M286.2 265.2h1M283.7 272.1h1M278.9 265.9h1M295.9 258.5h1M291.9 272.7h1M269.1 258.0h1M272.1 254.3h1M286.3 254.2h1M286.7 270.8h1M266.7 261.9h1M263.8 267.4h1M275.0 262.2h1M282.5 266.2h1M278.7 263.6h1M276.8 264.1h1M270.9 263.8h1M263.6 261.0h1M300.2 263.9h1M270.0 264.8h1M272.8 255.2h1M275.0 267.2h1M285.6 263.0h1M273.2 258.1h1M294.8 264.7h1M273.0 252.9h1M269.0 275.9h1M271.1 263.1h1M284.0 262.7h1M279.4 256.6h1M272.0 271.9h1M274.8 267.7h1M265.9 262.1h1M284.5 268.7h1M271.3 266.5h1M285.7 259.8h1M286.5 259.0h1M274.4 263.4h1M256.2 263.0h1M272.5 256.2h1M278.0 267.3h1M278.2 269.8h1M271.0 256.9h1M296.7 265.5h1M291.0 259.4h1M289.6 264.8h1M288.2 263.6h1M293.5 260.3h1M272.8 256.1h1M293.0 259.8h1M272.1 258.8h1M277.8 257.1h1M279.2 260.4h1M276.8 258.7h1M282.3 261.2h1M283.1 264.7h1M285.2 252.6h1M276.9 259.5h1M289.4 255.6h1M275.2 262.0h1M278.8 268.5h1M277.8 268.3h1M268.1 254.4h1M293.6 265.7h1M286.6 264.1h1M286.6 257.4h1M291.0 260.8h1M291.4 263.9h1M263.2 257.1h1M292.7 262.8h1M278.2 264.7h1M278.0 260.8h1M283.0 264.2h1M296.4 263.7h1M299.9 272.5h1M298.3 268.8h1M283.2 264.2h1M280.6 259.8h1M281.4 260.3h1M297.6 266.2h1M277.8 253.9h1M281.5 261.4h1M271.7 257.8h1M260.6 266.3h1M281.4 276.4h1M281.7 262.8h1M295.7 264.2h1M283.6 261.6h1M276.2 271.0h1M291.5 272.1h1M278.7 263.7h1M273.6 268.3h1M268.8 266.3h1M292.4 270.6h1M273.1 268.9h1M275.2 259.7h1M269.4 269.3h1M297.7 260.5h1M274.8 261.8h1M305.8 268.5h1M276.8 254.5h1M275.6 269.4h1M299.7 262.2h1M275.4 261.0h1M264.1 268.0h1M271.7 268.8h1M265.8 257.1h1M284.7 259.7h1M289.4 263.5h1M270.8 266.6h1M290.0 253.9h1M299.3 266.0h1M289.2 254.2h1M275.2 261.8h1M292.2 256.2h1M273.6 253.4h1M279.7 265.2h1M266.0 260.5h1M286.8 271.4h1M288.3 262.0h1M270.8 258.8h1M275.7 264.2h1M281.5 271.8h1M284.7 258.1h1M296.7 268.2h1M283.0 259.9h1M264.2 258.4h1M290.7 259.5h1M269.5 264.5h1M284.3 266.5h1M288.2 270.5h1M274.0 268.4h1M272.6 267.0h1M283.7 264.7h1M291.2 263.4h1M292.6 267.9h1M283.3 260.7h1M274.8 260.9h1M280.1 263.4h1M310.3 266.7h1M289.3 259.2h1M275.3 261.9h1M283.8 258.3h1M297.3 260.7h1M292.2 251.8h1M281.9 264.9h1M283.8 266.5h1M284.7 264.3h1M264.0 259.9h1M259.7 266.6h1M284.9 262.5h1M274.2 260.6h1M299.5 272.2h1M281.4 269.9h1M266.9 253.8h1M277.4 259.1h1M276.7 264.4h1M310.7 260.2h1M282.5 264.9h1M281.7 268.2h1M298.9 257.3h1M283.5 262.2h1M285.4 255.8h1M265.3 251.9h1M287.0 264.5h1M282.7 251.7h1M278.5 259.7h1M268.6 258.9h1M288.6 266.2h1M281.8 266.1h1M276.3 263.9h1M282.4 266.3h1M281.3 262.8h1M280.7 260.3h1M303.2 266.1h1M286.1 275.0h1M295.3 255.7h1M288.6 267.7h1M299.9 270.1h1M289.3 257.6h1M273.7 264.8h1M286.8 258.4h1M278.3 261.5h1M282.6 265.2h1M279.3 257.3h1M293.8 271.5h1M281.0 268.6h1M286.2 266.8h1M286.6 259.7h1M287.5 268.6h1M273.5 273.3h1M301.9 272.6h1M300.9 267.2h1M278.8 260.5h1M274.3 264.1h1M281.7 266.9h1M262.8 275.1h1M303.6 263.4h1M288.4 265.9h1M284.6 262.5h1M280.8 259.4h1M283.7 263.4h1M285.0 259.2h1M282.4 263.7h1M287.7 258.2h1M286.0 268.4h1M287.7 261.7h1M277.3 262.3h1M288.9 271.3h1M280.5 260.3h1M285.6 264.5h1M273.4 259.8h1M281.0 266.9h1M270.7 258.4h1M286.7 257.4h1M283.0 265.3h1M280.9 258.4h1M281.4 261.8h1M285.2 259.3h1M292.4 255.1h1M280.3 263.5h1M291.1 260.5h1M287.2 260.7h1M289.0 272.2h1M278.2 265.7h1M273.2 268.4h1M293.5 263.7h1M271.2 265.5h1M292.9 268.9h1M289.7 254.3h1M275.5 270.6h1M270.4 269.2h1M299.9 267.3h1M292.6 261.8h1M270.4 263.0h1M280.1 263.3h1M288.6 262.8h1M283.8 265.6h1M281.9 272.7h1M286.2 263.9h1M280.0 260.4h1M294.8 264.3h1M271.8 260.7h1M280.7 261.3h1M292.3 257.7h1M286.7 264.2h1M270.8 263.7h1M281.1 266.0h1M277.7 265.0h1M266.2 258.1h1M289.5 268.7h1M281.9 260.5h1M292.3 253.0h1M274.4 266.9h1M288.2 258.3h1M264.1 270.8h1M283.5 259.0h1M282.5 268.0h1M257.4 269.1h1M289.0 253.1h1M289.3 254.6h1M292.8 265.5h1M303.4 260.4h1M282.0 268.7h1M275.9 260.0h1M278.5 263.1h1M271.7 265.9h1M287.2 263.9h1M298.2 261.9h1M294.4 260.8h1M289.2 253.8h1M283.9 262.6h1M277.3 260.4h1M278.7 259.9h1M261.2 260.5h1M276.8 260.9h1M272.0 262.8h1M289.5 262.2h1M277.3 270.3h1M291.3 268.1h1M293.0 261.9h1M280.8 269.1h1M276.7 262.9h1M285.6 265.4h1M279.4 268.4h1M280.3 267.1h1M292.2 266.8h1M289.0 257.7h1M269.5 260.4h1M286.5 271.0h1M270.4 265.0h1M273.9 259.8h1M279.4 267.0h1M284.0 269.4h1M272.6 267.9h1M290.8 263.8h1M286.5 260.7h1M271.6 261.5h1M275.9 278.0h1M277.4 271.8h1M283.9 265.1h1M289.1 259.6h1M290.7 265.4h1M267.6 266.5h1M287.2 265.8h1M297.1 261.4h1M286.9 267.2h1M273.4 269.5h1M268.2 257.0h1M287.0 258.1h1M280.9 255.3h1M282.7 257.8h1M285.2 255.8h1M286.3 262.2h1M282.6 263.2h1M283.2 256.9h1M257.6 263.7h1M273.1 261.2h1M286.1 253.6h1M274.7 260.4h1M272.0 265.1h1M280.7 259.4h1M272.6 267.5h1M275.7 266.4h1M286.3 254.0h1M271.7 263.5h1M285.2 267.4h1M289.6 268.7h1M278.4 262.4h1M289.4 261.4h1M292.0 255.6h1M288.2 262.6h1M263.3 268.4h1M285.0 263.6h1M271.8 261.2h1M296.4 259.4h1M270.6 262.8h1M278.3 258.9h1M274.0 268.7h1M268.3 273.3h1M276.8 258.0h1M289.5 266.3h1M272.1 267.2h1M264.5 258.9h1M292.7 262.2h1M269.6 266.1h1M290.7 263.4h1M264.8 261.8h1M286.0 267.3h1M299.6 262.2h1M277.4 263.3h1M293.5 258.8h1M294.4 249.8h1M289.6 260.1h1M286.4 266.9h1M270.8 263.1h1M284.3 266.4h1M273.2 258.5h1M263.7 276.2h1M280.2 262.4h1M267.8 268.1h1M276.9 270.7h1M290.1 263.6h1M288.9 257.9h1M278.9 260.6h1M269.9 263.6h1M280.6 270.7h1M273.3 261.2h1M286.0 265.5h1M282.3 261.1h1M286.7 265.3h1M264.5 262.2h1M268.9 257.6h1M283.4 263.8h1M283.1 259.1h1M280.1 258.9h1M285.6 266.9h1M298.7 269.8h1M274.3 261.2h1M273.1 265.0h1M300.8 267.0h1M261.1 257.2h1M269.7 266.1h1M282.0 265.0h1M298.9 259.4h1M273.9 273.3h1M285.3 259.6h1M262.7 255.9h1M258.8 263.8h1M282.4 268.5h1M280.7 260.0h1M275.0 273.0h1M265.2 264.4h1M282.2 266.6h1M278.2 266.0h1M289.7 262.8h1M277.7 262.6h1M272.8 262.5h1M279.1 264.6h1M294.7 270.0h1M277.8 266.5h1M284.8 267.3h1M282.2 264.8h1M277.5 259.6h1M290.3 270.0h1M288.3 265.7h1M284.5 261.2h1M265.1 266.8h1M283.9 260.7h1M272.8 269.9h1M264.9 272.3h1M288.1 275.4h1M275.2 263.4h1M277.2 264.3h1M280.0 259.8h1M292.2 259.6h1M277.2 266.3h1M276.9 261.3h1M285.4 261.7h1M270.2 263.0h1M279.9 272.0h1M271.6 268.3h1M274.5 261.7h1M278.9 264.9h1M290.2 272.2h1M276.0 270.1h1M291.5 267.6h1M274.8 268.0h1M281.0 265.3h1M279.4 266.8h1M292.6 269.2h1M280.1 268.5h1M295.8 258.8h1M296.0 256.8h1M287.2 266.5h1M296.1 264.9h1M277.4 259.5h1M270.1 267.3h1M279.7 259.9h1M287.1 259.7h1M277.8 261.2h1M297.7 270.8h1M280.5 255.6h1M284.6 263.9h1M285.3 266.3h1M279.0 268.1h1M290.0 264.6h1M278.1 261.1h1M288.6 258.0h1M280.5 259.8h1M268.8 266.5h1M281.8 263.7h1M290.3 256.0h1M281.4 264.9h1M289.9 258.1h1M288.8 264.6h1M294.9 269.2h1M287.2 274.2h1M282.0 261.4h1M278.8 258.8h1M281.7 254.1h1M281.2 265.6h1M291.4 261.8h1M295.2 260.2h1M280.7 254.1h1M274.8 259.5h1M295.9 266.1h1M271.8 266.1h1M286.5 262.4h1M282.2 262.0h1M277.0 254.8h1M281.2 269.8h1M295.3 262.1h1M275.1 262.5h1M290.3 265.2h1M276.6 265.3h1M280.1 266.0h1M278.2 256.3h1M282.5 267.2h1M271.7 263.0h1M290.1 261.7h1M276.0 273.4h1M289.7 268.5h1M273.2 271.5h1M266.7 261.0h1M288.8 270.0h1M273.4 260.3h1M283.8 254.1h1M287.9 266.2h1M277.9 266.1h1M289.2 265.0h1M286.8 270.9h1M277.6 264.3h1M277.2 268.5h1M278.2 265.8h1M283.3 263.8h1M297.8 263.1h1M295.0 267.5h1M294.1 262.7h1M290.5 267.2h1M276.4 264.8h1M280.8 263.3h1M294.0 260.0h1M266.6 255.1h1M277.8 260.4h1M282.1 266.2h1M298.1 265.0h1M286.2 260.0h1M287.3 270.1h1M294.3 254.1h1M290.2 271.1h1M289.6 256.3h1M279.2 266.3h1M285.8 259.6h1M273.9 268.2h1M269.8 270.4h1M282.2 264.9h1M269.8 260.6h1M288.3 256.4h1M300.9 256.7h1M270.8 263.7h1M286.4 267.0h1M278.6 262.5h1M279.8 260.7h1M258.4 268.1h1M284.3 264.3h1M276.3 264.7h1M281.9 263.1h1M292.1 255.2h1M284.3 258.4h1M279.1 270.7h1M272.1 263.0h1M276.6 268.1h1M273.1 255.4h1M286.7 261.8h1M279.1 268.7h1M273.9 261.7h1M283.3 265.5h1M277.3 268.5h1M302.4 261.5h1M299.1 253.4h1M294.8 261.8h1M283.3 261.9h1M276.2 257.4h1M278.4 269.7h1M292.4 261.8h1M277.2 260.1h1M271.1 272.2h1M288.1 264.1h1M277.5 258.6h1M294.0 267.2h1M273.3 268.2h1M271.9 266.6h1M273.2 261.5h1M286.5 265.6h1M291.2 259.5h1M296.4 270.0h1M281.9 265.7h1M274.9 262.8h1M270.0 263.9h1M283.8 269.9h1M290.6 267.4h1M278.7 262.4h1M278.9 264.6h1M264.4 267.2h1M267.7 261.0h1M282.2 261.0h1M297.2 263.0h1M296.3 269.1h1M277.5 265.4h1M293.8 261.9h1M282.8 260.8h1M282.5 261.8h1M282.8 268.3h1M294.7 264.1h1M283.8 267.6h1M279.4 258.4h1M292.1 259.0h1M290.5 258.9h1M298.7 258.5h1M289.7 270.7h1M273.2 270.6h1M274.5 255.0h1M288.6 266.9h1M280.2 251.4h1M281.5 262.0h1M278.5 262.1h1M265.7 260.8h1M298.4 270.9h1M278.7 260.1h1M285.6 268.6h1M288.6 257.9h1M283.5 264.2h1M295.1 269.2h1M286.8 269.3h1M278.4 270.9h1M278.1 265.4h1M290.4 259.1h1M275.6 255.1h1M283.5 263.2h1M292.5 280.6h1M284.2 277.4h1M294.4 275.8h1M291.9 271.6h1M291.2 278.1h1M296.7 272.1h1M298.6 271.1h1M297.8 280.2h1M292.8 276.5h1M296.2 282.9h1M287.8 279.2h1M290.6 281.4h1M300.3 277.8h1M293.5 278.6h1M280.4 282.3h1M296.6 278.5h1M292.2 272.9h1M293.2 285.1h1M293.5 285.9h1M282.1 274.6h1M295.3 277.4h1M286.4 273.4h1M299.8 269.4h1M289.4 270.7h1M291.5 281.5h1M296.7 264.8h1M300.7 273.8h1M291.3 287.9h1M293.6 269.8h1M291.1 273.0h1M289.3 275.4h1M298.0 279.7h1M289.4 278.2h1M294.1 282.3h1M292.5 280.3h1M303.7 278.1h1M289.0 279.5h1M290.3 275.2h1M294.9 279.6h1M292.7 282.8h1M293.1 269.4h1M298.0 275.2h1M299.6 273.4h1M296.6 279.5h1M281.6 268.2h1M288.8 286.3h1M285.3 283.2h1M299.0 280.6h1M297.1 274.4h1M294.0 278.9h1M295.9 281.9h1M293.0 273.1h1M291.4 280.1h1M286.3 269.7h1M292.1 274.0h1M292.8 260.9h1M292.4 275.9h1M297.6 265.1h1M292.6 280.5h1M296.3 285.0h1M298.9 270.9h1M296.9 275.4h1M290.3 287.1h1M291.1 272.2h1M292.1 272.2h1M298.6 279.9h1M300.5 280.1h1M291.2 284.0h1M291.0 274.6h1M293.2 277.7h1M299.5 273.7h1M295.6 277.3h1M288.2 270.7h1M293.0 280.0h1M295.5 280.5h1M294.2 274.7h1M296.0 271.2h1M287.8 275.4h1M287.4 274.3h1M290.5 274.0h1M293.8 272.5h1M292.0 266.8h1M294.7 272.0h1M295.9 259.8h1M290.3 279.0h1M282.7 275.2h1M294.4 278.1h1M287.1 278.9h1M294.7 271.4h1M297.4 277.2h1M294.1 274.7h1M296.5 278.1h1M299.3 280.3h1M291.1 276.1h1M298.3 275.2h1M295.8 280.8h1M293.2 262.9h1M294.6 278.8h1M294.6 272.7h1M299.6 276.7h1M291.1 273.0h1M295.7 270.6h1M300.1 284.1h1M300.3 281.2h1M286.2 285.0h1M299.8 280.6h1M284.9 285.3h1M300.3 274.4h1M294.6 282.4h1M293.6 284.4h1M294.4 281.9h1M294.4 268.2h1M295.3 285.8h1M299.3 288.3h1M296.6 273.7h1M294.1 265.4h1M293.1 283.2h1M283.9 278.7h1M297.8 285.9h1M289.7 273.4h1M285.3 271.1h1M288.7 286.2h1M296.0 274.4h1M304.2 261.6h1M293.7 278.9h1M304.6 278.3h1M298.6 286.1h1M296.4 279.8h1M293.1 274.9h1M291.9 264.4h1M295.2 277.3h1M293.5 275.8h1M290.5 277.4h1M292.0 278.8h1M308.6 280.0h1M298.0 282.7h1M297.3 282.7h1M297.2 286.4h1M298.7 286.0h1M291.7 277.5h1M290.6 283.6h1M297.9 274.6h1M299.8 270.4h1M293.6 281.5h1M293.8 279.9h1M299.5 279.6h1M288.9 282.0h1M293.5 278.2h1M291.4 268.7h1M288.2 275.3h1M289.0 260.3h1M299.4 270.1h1M290.6 280.9h1M282.7 286.0h1M290.4 281.7h1M291.7 279.4h1M294.5 277.5h1M285.5 268.2h1M293.8 286.4h1M291.4 280.9h1M294.8 280.6h1M298.6 268.0h1M295.3 276.4h1M292.5 272.1h1M290.3 271.0h1M301.9 277.6h1M297.5 271.3h1M281.0 266.0h1M294.7 286.6h1M293.8 271.2h1M292.9 271.2h1M287.5 276.0h1M292.1 272.4h1M289.9 271.6h1M295.1 286.3h1M286.4 279.2h1M288.6 276.5h1M294.5 281.0h1M299.3 274.0h1M288.2 276.3h1M295.4 273.1h1M298.2 288.2h1M287.3 279.8h1M298.8 265.3h1M295.0 276.1h1M287.3 285.8h1M295.0 274.5h1M296.1 281.6h1M297.6 281.2h1M295.9 270.0h1M292.0 278.3h1M292.2 270.8h1M285.5 279.1h1M294.2 273.8h1M292.1 271.9h1M290.5 276.9h1M291.0 281.8h1M293.3 278.3h1M295.9 285.6h1M296.8 278.9h1M293.2 272.4h1M292.4 281.8h1M295.1 275.0h1M287.8 267.8h1M295.5 284.0h1M295.7 268.8h1M293.0 278.9h1M289.7 279.7h1M293.1 272.2h1M288.2 282.6h1M295.7 271.9h1M289.3 283.1h1M296.8 275.6h1M301.5 275.7h1M289.1 284.4h1M293.1 279.7h1M294.2 271.2h1M288.4 276.3h1M300.6 271.1h1M300.4 278.9h1M288.8 279.2h1M296.7 271.8h1M284.0 279.8h1M288.8 280.3h1M285.1 276.6h1M290.2 268.1h1M292.9 278.6h1M291.4 270.0h1M295.0 266.4h1M296.5 280.6h1M301.8 283.1h1M295.7 279.2h1M294.1 269.1h1M300.8 280.8h1M292.7 270.3h1M300.9 280.9h1M288.5 281.7h1M302.8 277.4h1M295.9 274.9h1M291.1 284.3h1M308.4 278.2h1M293.4 282.5h1M292.6 282.1h1M297.9 271.1h1M289.0 277.0h1M297.9 279.2h1M299.8 268.8h1M296.3 273.6h1M294.5 279.5h1M289.5 276.1h1M288.6 279.2h1M290.0 274.4h1M295.0 273.4h1M299.3 273.5h1M298.0 279.3h1M289.2 276.1h1M290.1 275.2h1M292.0 287.4h1M296.1 269.3h1M283.2 281.8h1M284.7 282.0h1M298.8 280.0h1M293.0 275.9h1M295.2 275.6h1M291.5 275.2h1M299.4 273.6h1M295.8 270.3h1M290.7 268.8h1M293.1 281.8h1M295.4 274.4h1M296.8 275.3h1M295.7 279.2h1M296.5 261.9h1M287.9 282.4h1M292.9 274.0h1M300.9 281.0h1M302.8 280.7h1M293.1 282.1h1M290.3 274.7h1M291.4 276.1h1M297.6 274.5h1M295.5 274.4h1M298.1 260.2h1M293.0 278.6h1M289.0 283.9h1M295.0 285.6h1M298.5 281.5h1M293.3 270.7h1M293.0 274.6h1M295.2 274.6h1M308.2 267.5h1M299.4 274.5h1M292.9 283.3h1M294.0 269.9h1M295.9 276.3h1M284.5 278.7h1M289.1 272.8h1M296.2 279.4h1M295.9 273.6h1M295.1 276.7h1M283.8 267.6h1M293.1 275.8h1M291.4 283.7h1M294.1 288.2h1M297.7 287.8h1M293.5 279.9h1M292.0 276.4h1M286.0 273.9h1M289.6 273.4h1M299.6 279.1h1M299.7 282.9h1M298.3 283.8h1M291.2 282.5h1M292.5 274.2h1M289.5 288.4h1M297.8 272.2h1M295.3 279.8h1M295.7 275.3h1M288.1 277.7h1M298.0 282.4h1M297.1 284.4h1M289.4 277.2h1M295.6 283.8h1M294.7 280.7h1M283.9 277.3h1M305.4 279.0h1M285.5 278.3h1M287.4 273.2h1M295.0 288.2h1M296.1 281.7h1M298.7 278.8h1M290.0 276.9h1M295.6 275.8h1M290.9 275.3h1M287.1 271.1h1M293.6 275.2h1M294.2 286.3h1M295.4 277.3h1M288.6 270.8h1M295.7 272.0h1M296.0 270.8h1M294.6 277.0h1M298.6 275.0h1M292.3 279.0h1M294.3 288.1h1M292.8 274.1h1M292.5 280.5h1M295.1 281.8h1M302.5 277.3h1M288.4 278.5h1M295.9 263.5h1M294.1 268.3h1M296.1 286.1h1M298.8 268.1h1M300.4 283.2h1M292.3 280.6h1M301.0 275.4h1M293.9 274.0h1M299.3 264.0h1M300.6 271.4h1M298.3 267.3h1M289.7 273.8h1M297.8 267.4h1M296.8 273.5h1M299.7 275.6h1M296.2 276.4h1M302.3 275.2h1M294.4 281.8h1M290.6 278.7h1M283.5 278.2h1M291.0 268.1h1M287.5 284.6h1M296.0 268.0h1M302.4 273.1h1M292.3 279.0h1M288.7 267.4h1M290.6 284.9h1M298.4 267.6h1M299.6 277.7h1M296.3 277.8h1M295.9 271.2h1M289.8 273.1h1M292.3 281.4h1M288.4 287.5h1M291.1 273.8h1M297.2 280.2h1M292.4 270.8h1M289.4 267.5h1M299.3 284.3h1M302.6 280.6h1M295.5 282.2h1M298.4 275.9h1M286.2 268.7h1M289.6 282.2h1M299.5 275.4h1M297.1 277.2h1M295.4 274.1h1M293.9 277.5h1M285.6 280.8h1M294.0 283.6h1M298.9 282.4h1M297.7 271.6h1M286.1 287.9h1M299.6 271.5h1M300.0 281.7h1M282.7 283.1h1M289.4 284.8h1M290.9 272.8h1M286.9 276.1h1M298.7 273.3h1M302.5 281.8h1M291.5 269.9h1M286.4 281.0h1M300.0 270.9h1M294.0 275.8h1M292.8 280.6h1M303.7 273.5h1M297.9 284.3h1M292.7 276.6h1M287.8 284.3h1M291.5 273.4h1M294.3 272.1h1M289.2 275.6h1M300.9 276.2h1M296.4 268.3h1M292.2 267.9h1M293.5 281.3h1M286.0 272.0h1M295.2 271.7h1M297.7 283.5h1M296.0 274.8h1M293.8 273.5h1M293.4 279.5h1M292.6 283.6h1M306.0 274.1h1M295.6 282.7h1M297.0 276.0h1M291.8 283.8h1M296.9 280.7h1M290.3 281.5h1M297.7 276.3h1M285.3 281.3h1M288.6 268.9h1M292.9 280.9h1M294.2 270.2h1M287.3 274.0h1M294.1 272.3h1M290.1 276.5h1M291.5 273.8h1M294.2 275.6h1M296.9 270.1h1M293.7 282.3h1M299.5 281.0h1M294.2 267.7h1M286.6 283.7h1M297.1 281.1h1M286.3 264.1h1M289.1 270.1h1M294.7 271.1h1M301.4 273.6h1M291.4 282.9h1M295.5 271.8h1M288.3 275.9h1M289.0 265.3h1M296.9 281.9h1M298.5 280.2h1M284.6 277.3h1M290.9 270.1h1M288.8 282.3h1M296.2 265.5h1M298.2 285.4h1M294.1 269.8h1M302.2 269.2h1M293.6 265.5h1M288.1 266.8h1M299.1 285.0h1M292.1 268.9h1M293.7 279.9h1M286.9 270.2h1M293.5 282.0h1M294.3 280.3h1M288.2 261.7h1M295.5 271.7h1M293.4 275.1h1M296.2 272.6h1M300.8 277.7h1M296.5 281.5h1M298.9 280.1h1M285.8 273.5h1M302.7 280.5h1M296.6 280.5h1M291.0 273.2h1M291.0 284.9h1M296.1 270.0h1M302.2 279.6h1M299.6 278.9h1M292.5 278.6h1M288.7 269.9h1M289.8 274.2h1M287.6 276.8h1M302.7 277.2h1M298.2 276.1h1M295.8 277.3h1M291.5 278.0h1M287.0 280.3h1M292.6 270.6h1M292.3 281.0h1M290.8 280.5h1M296.7 287.5h1M288.9 276.8h1M296.4 287.1h1M295.2 282.3h1M287.1 273.8h1M301.9 275.7h1M304.2 272.8h1M292.7 267.3h1M297.0 279.2h1M303.5 278.6h1M292.8 268.5h1M293.6 283.6h1M297.5 285.4h1M298.1 277.2h1M296.9 278.6h1M295.8 270.8h1M295.8 279.3h1M298.7 286.8h1M279.6 281.1h1M301.3 271.4h1M285.2 279.3h1M295.6 279.8h1M288.7 274.5h1M294.9 282.3h1M304.4 279.4h1M291.1 262.3h1M299.1 276.7h1M293.5 271.1h1M297.5 266.0h1M294.5 278.3h1M295.4 285.9h1M293.5 278.1h1M298.1 267.5h1M292.6 277.9h1M298.5 272.3h1M297.8 280.0h1M286.9 268.0h1M287.2 278.4h1M295.0 282.2h1M297.9 273.9h1M299.1 282.8h1M296.2 280.6h1M287.9 279.8h1M289.1 269.8h1M292.3 278.4h1M293.7 275.4h1M289.2 278.7h1M290.5 268.4h1M294.4 286.9h1M292.1 270.6h1M292.6 276.1h1M294.6 283.9h1M296.1 265.7h1M288.7 269.5h1M296.1 278.2h1M302.6 275.8h1M295.5 278.0h1M295.4 287.0h1M300.2 273.6h1M297.3 275.0h1M294.5 278.5h1M294.1 274.5h1M301.4 275.8h1M297.4 288.4h1M297.0 284.1h1M300.6 284.6h1M302.2 268.2h1M303.4 277.7h1M285.6 273.3h1M287.3 277.4h1M286.9 271.0h1M295.4 278.5h1M290.2 276.0h1M293.5 278.0h1M294.0 276.1h1M298.2 267.1h1M291.6 278.4h1M292.1 273.9h1M291.9 278.9h1M300.0 276.3h1M292.7 279.8h1M292.8 264.9h1M295.3 275.0h1M291.3 281.6h1M294.2 273.8h1M283.6 266.3h1M294.1 276.7h1M296.1 278.9h1M291.7 269.3h1M288.7 276.6h1M288.5 282.4h1M287.6 265.9h1M293.1 266.0h1M301.8 271.1h1M289.2 267.6h1M277.7 252.3h1M262.1 278.6h1M268.1 275.6h1M289.8 278.5h1M282.3 277.2h1M303.4 276.1h1M311.7 268.3h1M313.2 263.0h1M315.0 242.5h1M290.2 262.0h1M290.0 280.3h1M300.8 270.9h1M315.5 255.2h1M277.8 285.1h1M294.9 249.3h1M295.1 258.2h1M312.2 281.4h1M281.8 282.9h1M277.5 279.2h1M298.7 268.7h1M268.7 267.2h1M255.7 264.4h1M262.2 282.2h1M275.5 245.7h1M298.8 273.7h1M301.6 270.7h1M280.3 240.4h1M297.2 279.6h1M281.1 255.9h1M289.4 253.3h1M290.1 277.7h1M312.6 272.7h1M292.9 277.5h1M311.0 266.8h1M271.6 262.1h1M271.1 261.1h1M288.2 273.4h1M292.3 270.7h1M284.6 274.2h1M303.3 277.6h1M312.5 267.1h1M286.2 286.9h1M293.0 274.1h1M285.0 279.7h1M284.0 259.9h1M289.1 265.6h1M302.5 266.2h1M291.9 267.8h1M295.1 263.7h1M306.6 255.8h1M284.2 262.9h1M299.7 270.4h1M297.3 266.7h1M279.2 258.8h1M285.0 264.6h1M294.2 273.5h1M304.7 268.9h1M278.8 259.4h1M290.9 273.6h1M319.2 271.8h1M274.3 282.1h1M307.0 283.5h1M289.9 279.6h1M282.8 269.3h1M290.3 287.8h1M286.8 279.6h1M291.0 262.9h1M293.6 276.6h1M279.3 276.3h1M279.3 261.2h1M293.3 267.6h1M275.3 253.7h1M290.3 272.4h1M283.1 271.9h1M267.1 273.9h1M296.2 272.8h1M280.8 270.8h1M292.0 280.7h1M294.1 272.5h1M279.1 278.6h1M307.6 265.1h1M299.6 273.1h1M289.3 257.1h1M316.3 251.3h1M294.5 266.2h1M307.2 265.8h1M290.6 276.1h1M296.8 264.8h1M300.2 273.9h1M304.8 264.9h1M289.3 266.1h1M277.4 272.5h1M296.1 284.2h1M285.1 273.9h1M307.1 268.9h1M290.9 271.3h1" stroke="#1a1a1a" stroke-width="1" fill="none" opacity="0.85"/>
<rect x="249.50" y="223.80" width="73.80" height="65.60" fill="none" stroke="#111" stroke-width="1.2"/>
<line x1="267.90" y1="223.80" x2="267.90" y2="289.40" stroke="#111" stroke-width="1.1"/>
<line x1="249.50" y1="272.10" x2="323.30" y2="272.10" stroke="#111" stroke-width="1.1"/>
<text x="251.70" y="232.40" font-size="6.3" font-weight="bold" fill="#1a1a1a" stroke="#1a1a1a" stroke-width="0.25">80%</text>
<text x="320.50" y="232.40" font-size="6.3" font-weight="bold" text-anchor="end" fill="#1a1a1a" stroke="#1a1a1a" stroke-width="0.25">47%</text>
<text x="320.50" y="287.40" font-size="6.3" font-weight="bold" text-anchor="end" fill="#1a1a1a" stroke="#1a1a1a" stroke-width="0.25">53%</text>
<line x1="249.50" y1="289.40" x2="249.50" y2="291.20" stroke="#111" stroke-width="0.7"/>
<line x1="247.70" y1="289.40" x2="249.50" y2="289.40" stroke="#111" stroke-width="0.7"/>
<text x="248.90" y="299.00" font-size="5.8" fill="#222" stroke="#222" stroke-width="0.2">10<tspan dy="-2.4" font-size="4.6">0</tspan></text>
<text x="244.30" y="295.40" font-size="5.8" fill="#222" stroke="#222" stroke-width="0.2" transform="rotate(-90 244.30 295.40)">10<tspan dy="-2.4" font-size="4.6">0</tspan></text>
<line x1="267.95" y1="289.40" x2="267.95" y2="291.20" stroke="#111" stroke-width="0.7"/>
<line x1="247.70" y1="273.00" x2="249.50" y2="273.00" stroke="#111" stroke-width="0.7"/>
<text x="267.35" y="299.00" font-size="5.8" fill="#222" stroke="#222" stroke-width="0.2">10<tspan dy="-2.4" font-size="4.6">1</tspan></text>
<text x="244.30" y="277.66" font-size="5.8" fill="#222" stroke="#222" stroke-width="0.2" transform="rotate(-90 244.30 277.66)">10<tspan dy="-2.4" font-size="4.6">1</tspan></text>
<line x1="286.40" y1="289.40" x2="286.40" y2="291.20" stroke="#111" stroke-width="0.7"/>
<line x1="247.70" y1="256.60" x2="249.50" y2="256.60" stroke="#111" stroke-width="0.7"/>
<text x="285.80" y="299.00" font-size="5.8" fill="#222" stroke="#222" stroke-width="0.2">10<tspan dy="-2.4" font-size="4.6">2</tspan></text>
<text x="244.30" y="259.91" font-size="5.8" fill="#222" stroke="#222" stroke-width="0.2" transform="rotate(-90 244.30 259.91)">10<tspan dy="-2.4" font-size="4.6">2</tspan></text>
<line x1="304.85" y1="289.40" x2="304.85" y2="291.20" stroke="#111" stroke-width="0.7"/>
<line x1="247.70" y1="240.20" x2="249.50" y2="240.20" stroke="#111" stroke-width="0.7"/>
<text x="304.25" y="299.00" font-size="5.8" fill="#222" stroke="#222" stroke-width="0.2">10<tspan dy="-2.4" font-size="4.6">3</tspan></text>
<text x="244.30" y="242.17" font-size="5.8" fill="#222" stroke="#222" stroke-width="0.2" transform="rotate(-90 244.30 242.17)">10<tspan dy="-2.4" font-size="4.6">3</tspan></text>
<line x1="323.30" y1="289.40" x2="323.30" y2="291.20" stroke="#111" stroke-width="0.7"/>
<line x1="247.70" y1="223.80" x2="249.50" y2="223.80" stroke="#111" stroke-width="0.7"/>
<text x="322.70" y="299.00" font-size="5.8" fill="#222" stroke="#222" stroke-width="0.2">10<tspan dy="-2.4" font-size="4.6">4</tspan></text>
<text x="244.30" y="224.42" font-size="5.8" fill="#222" stroke="#222" stroke-width="0.2" transform="rotate(-90 244.30 224.42)">10<tspan dy="-2.4" font-size="4.6">4</tspan></text>
<text x="381.60" y="219.60" font-size="9.2" font-weight="bold" text-anchor="middle" fill="#111" stroke="#111" stroke-width="0.25">RE-m5</text>
<path d="M350.5 257.6h1M356.5 263.4h1M352.6 256.3h1M353.2 268.3h1M349.0 258.1h1M356.4 269.6h1M357.9 259.7h1M354.8 258.8h1M354.5 260.7h1M353.4 269.2h1M353.9 261.3h1M353.0 263.8h1M351.1 263.5h1M354.8 270.3h1M346.0 256.6h1M348.7 266.9h1M360.8 263.5h1M353.2 268.2h1M351.1 260.1h1M353.9 259.6h1M356.4 262.5h1M354.0 275.1h1M351.3 267.1h1M350.1 268.7h1M356.0 263.2h1M356.0 270.5h1M357.3 262.5h1M352.6 268.0h1M348.0 259.5h1M354.4 265.3h1M358.9 271.2h1M353.9 264.7h1M348.5 261.6h1M353.7 261.4h1M353.0 265.5h1M349.7 259.7h1M347.0 268.2h1M349.4 254.1h1M355.3 261.4h1M356.0 260.7h1M359.7 266.0h1M353.3 263.1h1M352.1 266.5h1M359.3 260.4h1M349.2 265.5h1M356.3 255.1h1M350.5 257.6h1M354.6 265.0h1M350.4 256.9h1M355.0 252.3h1M354.9 261.7h1M359.1 267.4h1M350.9 261.1h1M351.9 258.9h1M353.1 267.3h1M347.9 261.4h1M357.7 266.2h1M350.2 258.5h1M350.0 254.6h1M356.5 262.8h1M350.5 255.4h1M351.6 260.0h1M358.4 260.2h1M353.2 267.8h1M355.0 261.6h1M354.7 260.4h1M352.5 257.8h1M349.9 255.2h1M354.4 265.0h1M353.4 266.3h1M354.5 263.1h1M349.9 265.4h1M356.7 265.6h1M356.8 260.2h1M349.6 268.6h1M350.9 263.7h1M352.2 262.6h1M351.9 259.9h1M347.0 271.9h1M353.5 253.1h1M349.9 257.0h1M350.4 250.0h1M354.7 270.5h1M352.0 266.1h1M354.7 256.4h1M356.7 254.2h1M350.9 260.7h1M356.9 263.1h1M352.4 258.6h1M353.1 262.7h1M355.2 269.3h1M355.2 262.6h1M352.3 270.3h1M353.4 262.4h1M358.6 270.2h1M354.6 262.0h1M350.8 267.7h1M351.3 267.2h1M350.3 263.0h1M354.1 263.2h1M353.6 264.4h1M349.2 257.1h1M352.3 271.3h1M352.4 258.0h1M350.7 262.7h1M356.6 259.7h1M354.6 263.4h1M351.7 257.9h1M352.3 259.0h1M354.5 253.9h1M356.4 266.2h1M354.7 269.8h1M354.7 254.2h1M353.0 264.7h1M350.6 257.0h1M354.2 265.0h1M351.4 261.3h1M351.2 259.7h1M352.6 267.7h1M347.6 260.8h1M358.0 264.0h1M353.3 266.6h1M349.6 256.6h1M347.5 255.4h1M353.6 266.6h1M351.5 259.2h1M354.1 265.5h1M353.6 253.2h1M351.0 250.2h1M353.6 258.4h1M350.7 269.8h1M357.0 264.8h1M353.7 263.3h1M350.9 262.3h1M358.9 258.2h1M350.7 263.3h1M355.7 266.6h1M349.7 261.9h1M351.9 256.5h1M353.0 260.2h1M355.8 264.6h1M350.3 262.9h1M351.7 259.4h1M351.2 267.7h1M351.5 254.2h1M350.3 266.4h1M359.7 257.4h1M351.7 260.9h1M348.3 264.5h1M352.6 263.9h1M360.0 261.2h1M355.3 266.6h1M350.8 259.6h1M357.8 266.0h1M353.3 257.2h1M355.6 265.1h1M359.9 269.7h1M355.4 263.8h1M353.0 259.8h1M353.8 263.7h1M354.9 267.8h1M353.8 259.9h1M355.4 270.0h1M350.1 264.5h1M354.6 265.1h1M354.4 262.1h1M352.5 270.7h1M358.4 255.7h1M350.6 260.0h1M347.7 264.2h1M352.6 259.9h1M355.7 274.3h1M357.5 268.2h1M351.5 265.7h1M352.7 268.1h1M354.7 262.3h1M354.6 259.0h1M355.3 269.8h1M351.6 265.2h1M347.5 267.1h1M355.6 257.5h1M358.4 263.1h1M347.3 255.9h1M355.6 261.2h1M356.3 255.0h1M352.5 267.2h1M350.6 265.8h1M351.6 264.2h1M353.8 273.3h1M348.8 266.3h1M357.0 257.0h1M353.1 273.7h1M356.2 248.1h1M352.0 254.2h1M353.8 259.0h1M351.0 258.4h1M353.7 260.2h1M349.9 261.4h1M354.1 258.3h1M356.4 254.4h1M354.1 260.6h1M357.8 259.4h1M350.7 256.0h1M359.2 265.5h1M349.3 260.9h1M349.7 269.9h1M354.1 252.6h1M353.5 266.9h1M352.8 264.8h1M352.4 263.5h1M353.5 259.1h1M353.9 263.3h1M352.7 259.2h1M349.5 263.7h1M355.4 250.8h1M351.1 269.1h1M355.7 259.0h1M357.1 257.7h1M350.3 271.9h1M351.4 261.4h1M347.5 257.6h1M349.0 261.8h1M346.9 267.7h1M351.7 259.6h1M350.8 266.1h1M357.7 260.5h1M358.0 270.3h1M357.1 264.0h1M348.0 265.8h1M351.5 263.4h1M346.8 261.1h1M353.5 257.9h1M353.7 270.6h1M353.5 259.2h1M360.5 252.0h1M349.8 264.5h1M350.9 251.3h1M353.6 266.5h1M350.2 269.6h1M354.4 268.3h1M347.9 262.5h1M357.9 272.3h1M357.0 262.5h1M353.4 259.4h1M356.3 259.1h1M353.2 252.4h1M348.0 271.2h1M353.0 263.5h1M359.5 255.2h1M351.1 261.5h1M348.8 255.9h1M348.8 265.6h1M352.6 266.5h1M349.3 265.4h1M351.4 262.9h1M355.8 262.7h1M351.7 254.4h1M353.0 266.3h1M350.8 262.2h1M347.1 256.0h1M354.1 268.8h1M351.8 254.3h1M351.6 254.8h1M351.9 271.9h1M353.8 261.8h1M356.2 260.6h1M353.9 263.5h1M354.2 255.3h1M355.1 266.8h1M349.9 269.8h1M352.9 265.8h1M354.6 266.9h1M350.7 259.6h1M354.0 265.5h1M354.7 264.2h1M351.2 267.9h1M354.3 267.7h1M350.6 263.1h1M351.3 261.0h1M353.4 264.2h1M350.2 250.0h1M350.3 265.2h1M350.1 264.6h1M351.6 257.9h1M356.6 270.7h1M352.5 262.3h1M355.9 256.0h1M350.0 268.1h1M355.7 260.1h1M350.3 264.2h1M348.2 260.0h1M352.0 250.3h1M354.7 266.3h1M356.3 255.4h1M348.6 258.5h1M348.5 272.7h1M349.6 261.0h1M353.5 264.8h1M357.5 257.1h1M355.7 263.2h1M349.0 263.2h1M348.2 270.5h1M350.4 267.5h1M357.1 259.4h1M349.9 263.1h1M349.4 267.0h1M353.4 258.7h1M350.6 266.1h1M348.1 270.9h1M350.2 261.5h1M349.8 270.6h1M355.5 269.0h1M354.9 262.9h1M358.4 265.8h1M354.2 265.4h1M355.2 263.9h1M352.3 254.6h1M359.6 256.0h1M359.2 268.6h1M350.8 263.8h1M352.7 252.6h1M351.7 264.0h1M356.7 256.5h1M353.9 262.9h1M353.3 263.2h1M351.6 255.7h1M354.3 264.4h1M354.7 268.7h1M348.7 250.8h1M346.9 273.2h1M349.8 264.5h1M352.8 266.1h1M363.4 259.9h1M352.2 259.5h1M353.6 265.1h1M349.6 269.1h1M356.6 264.7h1M352.4 261.3h1M347.4 265.8h1M349.6 260.0h1M356.1 257.9h1M351.1 266.8h1M358.9 259.0h1M356.4 259.2h1M354.1 264.9h1M349.0 267.6h1M358.7 262.8h1M353.7 256.6h1M358.7 262.8h1M348.6 266.3h1M348.0 259.1h1M360.1 259.3h1M350.6 259.6h1M350.9 265.3h1M357.6 257.5h1M354.3 253.5h1M357.8 262.1h1M350.5 270.2h1M352.5 269.3h1M356.3 270.8h1M350.2 262.8h1M354.0 261.5h1M357.8 258.9h1M356.1 269.3h1M346.4 257.7h1M349.8 259.8h1M354.1 261.6h1M353.1 260.2h1M352.5 264.9h1M355.3 258.6h1M352.4 258.7h1M352.2 255.3h1M355.9 265.9h1M352.4 259.1h1M351.3 259.2h1M347.7 270.7h1M363.7 256.4h1M348.9 265.4h1M354.8 254.6h1M346.5 265.2h1M346.2 269.6h1M351.2 262.9h1M352.8 259.7h1M352.3 261.0h1M356.9 262.0h1M352.7 259.9h1M350.7 258.8h1M352.8 271.7h1M356.5 263.7h1M358.3 267.6h1M353.5 261.7h1M349.2 263.7h1M351.8 254.6h1M348.6 272.2h1M353.5 265.0h1M353.5 260.2h1M354.3 267.9h1M351.8 265.1h1M356.2 260.1h1M353.4 258.8h1M354.8 260.7h1M356.6 258.7h1M358.4 260.9h1M350.0 258.0h1M355.0 258.2h1M358.8 268.9h1M354.5 255.4h1M352.7 258.9h1M346.8 264.6h1M360.1 259.8h1M355.5 268.9h1M349.6 260.8h1M353.7 264.9h1M349.0 263.6h1M352.4 267.3h1M347.5 259.7h1M351.1 260.9h1M355.2 259.4h1M361.8 259.0h1M355.6 267.6h1M356.0 261.5h1M350.1 261.2h1M355.0 263.1h1M354.7 265.4h1M349.9 257.8h1M357.6 260.1h1M347.6 271.8h1M350.0 257.8h1M356.0 256.8h1M349.9 267.7h1M350.1 275.0h1M353.1 275.9h1M353.2 262.8h1M350.7 261.4h1M351.1 262.4h1M355.3 256.1h1M349.8 252.0h1M357.8 262.1h1M352.8 262.2h1M356.1 264.1h1M355.6 261.7h1M352.4 262.2h1M346.7 267.9h1M347.6 257.5h1M355.0 262.8h1M355.5 271.0h1M358.9 269.4h1M352.1 272.7h1M349.9 262.1h1M356.1 261.4h1M352.4 260.7h1M357.3 250.2h1M357.0 267.8h1M352.6 265.3h1M349.6 268.0h1M362.9 257.9h1M357.4 262.2h1M351.7 260.1h1M352.2 256.2h1M348.3 270.8h1M352.7 265.3h1M353.8 264.9h1M347.8 257.8h1M354.9 267.5h1M349.0 259.6h1M349.3 265.8h1M353.9 262.7h1M350.7 264.2h1M352.9 258.8h1M353.9 259.2h1M355.9 265.6h1M350.5 265.4h1M353.0 259.0h1M349.8 254.2h1M349.1 264.2h1M356.8 259.4h1M353.3 264.2h1M355.4 264.7h1M356.8 266.3h1M350.3 264.5h1M352.9 265.4h1M351.8 266.7h1M357.2 258.3h1M351.0 263.8h1M354.4 263.2h1M355.5 256.6h1M355.4 268.3h1M356.5 264.6h1M352.0 264.5h1M352.6 254.6h1M350.8 262.3h1M351.1 257.8h1M352.0 260.6h1M353.0 262.3h1M353.4 267.5h1M353.3 264.5h1M348.8 247.8h1M351.5 265.9h1M351.7 259.4h1M348.7 267.0h1M351.1 263.7h1M356.5 265.2h1M360.2 261.8h1M356.0 266.0h1M350.6 262.7h1M350.9 257.4h1M353.8 258.6h1M361.1 273.2h1M351.1 278.6h1M351.2 278.3h1M350.8 268.8h1M360.3 280.9h1M354.2 275.0h1M352.8 279.9h1M347.2 272.8h1M349.5 286.2h1M348.7 285.6h1M353.1 278.2h1M359.6 283.7h1M357.7 271.1h1M353.0 274.9h1M348.6 284.6h1M354.8 278.0h1M357.4 277.9h1M360.1 271.8h1M357.5 271.5h1M359.8 276.2h1M359.0 275.3h1M355.3 285.4h1M349.4 278.6h1M349.7 283.5h1M350.8 275.6h1M352.6 285.6h1M348.8 277.8h1M352.0 274.4h1M350.0 277.0h1M354.4 267.9h1M354.6 270.3h1M349.1 277.6h1M352.4 284.4h1M351.4 266.4h1M346.3 279.2h1M354.6 284.9h1M351.1 282.3h1M348.7 286.4h1M353.2 273.6h1M349.7 269.9h1M348.9 270.5h1M353.3 280.3h1M352.8 279.3h1M358.8 276.1h1M347.9 263.1h1M354.6 273.6h1M352.4 280.7h1M355.6 267.8h1M349.2 278.5h1M352.9 285.5h1M351.2 264.6h1M358.8 267.4h1M349.1 280.5h1M354.6 281.5h1M355.9 273.3h1M359.1 267.0h1M350.9 279.9h1M354.1 271.8h1M349.3 280.4h1M350.6 275.2h1M357.9 278.8h1M353.0 278.7h1M348.2 285.9h1M350.1 286.5h1M351.4 275.0h1M360.2 279.2h1M350.6 274.5h1M356.3 275.4h1M348.5 273.6h1M353.0 279.6h1M350.6 286.3h1M349.2 273.4h1M355.7 281.1h1M351.7 284.3h1M353.7 286.6h1M352.6 279.3h1M355.9 266.6h1M357.6 280.1h1M354.4 287.0h1M355.0 265.7h1M349.3 276.1h1M354.1 275.1h1M357.7 281.9h1M353.6 278.4h1M355.1 279.6h1M350.2 283.1h1M349.8 277.7h1M351.9 270.5h1M356.2 277.5h1M348.3 277.5h1M347.3 287.3h1M351.0 282.6h1M373.3 258.2h1M382.1 264.6h1M392.2 261.2h1M394.0 267.3h1M374.3 261.6h1M373.9 271.0h1M377.5 266.9h1M392.1 261.2h1M378.1 264.2h1M375.3 256.2h1M373.4 264.2h1M384.9 271.3h1M364.8 265.0h1M371.5 268.3h1M389.9 263.1h1M397.7 260.6h1M377.7 257.3h1M376.5 263.1h1M389.7 268.9h1M380.3 258.9h1M379.7 260.4h1M378.3 260.5h1M374.3 262.2h1M377.9 261.7h1M369.2 263.2h1M388.7 265.7h1M377.5 256.8h1M370.1 256.7h1M376.6 261.0h1M365.4 265.8h1M367.7 259.1h1M375.8 266.6h1M401.3 260.7h1M380.3 260.6h1M381.0 261.7h1M407.5 257.1h1M381.9 258.6h1M386.5 259.9h1M388.7 257.1h1M403.9 263.5h1M365.5 266.0h1M378.3 256.8h1M387.4 259.9h1M390.3 259.8h1M391.9 263.2h1M386.5 263.3h1M379.4 260.7h1M387.5 266.0h1M379.0 273.6h1M399.7 256.8h1M393.7 262.2h1M385.3 258.6h1M399.3 258.4h1M382.2 258.9h1M402.1 268.7h1M370.0 260.3h1M386.6 260.4h1M379.5 257.2h1M385.5 257.1h1M391.2 274.3h1M379.8 270.6h1M386.7 259.2h1M379.6 257.8h1M384.1 266.0h1M392.2 261.1h1M371.2 262.1h1M399.5 263.9h1M382.4 252.3h1M378.7 265.2h1M373.7 269.1h1M377.4 258.2h1M377.3 262.1h1M392.9 259.7h1M365.4 262.1h1M388.2 270.1h1M371.9 269.8h1M389.7 264.7h1M375.4 258.2h1M373.6 267.1h1M385.2 267.8h1M400.9 262.6h1M382.5 271.9h1M370.2 260.3h1M379.4 260.7h1M384.4 258.4h1M394.4 255.8h1M375.0 254.2h1M369.2 265.4h1M389.2 261.6h1M391.3 265.5h1M377.3 262.3h1M386.6 272.4h1M378.7 264.3h1M388.4 268.5h1M387.2 267.8h1M372.5 261.2h1M364.0 262.3h1M405.9 263.7h1M383.9 263.8h1M384.4 256.0h1M376.2 261.7h1M384.7 258.3h1M382.0 258.9h1M370.0 259.3h1M375.1 266.6h1M396.2 265.4h1M380.9 259.8h1M367.6 260.0h1M398.4 268.2h1M385.2 261.3h1M383.0 264.6h1M382.9 264.6h1M375.4 262.8h1M379.6 267.8h1M370.8 268.9h1M382.2 260.1h1M383.2 263.1h1M380.7 264.6h1M377.3 254.3h1M389.8 262.4h1M399.4 264.4h1M363.3 268.6h1M376.2 265.2h1M404.8 267.9h1M372.3 262.1h1M367.2 265.8h1M388.5 257.5h1M387.5 267.1h1M390.9 259.3h1M376.2 257.1h1M370.3 264.1h1M383.4 268.9h1M385.7 261.0h1M369.0 270.1h1M384.6 262.4h1M373.1 257.4h1M389.2 257.8h1M388.7 265.6h1M379.3 254.6h1M387.0 269.4h1M374.9 256.4h1M393.7 263.2h1M376.9 268.5h1M380.3 264.7h1M379.1 258.9h1M385.2 258.4h1M365.6 259.9h1M395.1 267.9h1M404.3 267.4h1M398.8 263.8h1M378.7 264.8h1M373.7 266.1h1M378.6 263.8h1M374.6 261.9h1M392.6 261.5h1M376.4 263.9h1M391.6 261.6h1M371.5 255.0h1M369.9 267.7h1M382.1 264.9h1M393.5 263.9h1M387.7 260.1h1M367.2 265.6h1M382.1 265.3h1M372.6 261.9h1M402.8 258.5h1M384.0 268.9h1M380.7 263.2h1M362.1 266.3h1M378.7 268.8h1M382.1 260.8h1M387.3 261.4h1M378.0 270.0h1M392.6 263.1h1M390.9 266.5h1M388.7 262.8h1M383.7 264.5h1M388.5 264.3h1M377.6 262.2h1M387.5 257.8h1M382.9 266.2h1M384.7 261.2h1M382.8 260.2h1M392.6 260.8h1M366.7 256.8h1M385.9 263.6h1M378.4 256.3h1M381.5 258.5h1M376.6 262.6h1M375.5 264.1h1M375.8 260.3h1M380.8 269.6h1M398.4 267.1h1M375.8 262.6h1M391.9 266.4h1M367.1 262.3h1M375.8 266.2h1M389.2 260.0h1M404.0 261.2h1M406.9 261.8h1M382.2 271.7h1M377.8 260.3h1M397.4 262.4h1M387.7 256.6h1M400.5 267.3h1M386.5 266.0h1M378.1 260.3h1M367.6 264.3h1M395.1 266.7h1M392.0 266.0h1M374.0 256.3h1M389.3 263.4h1M392.6 261.3h1M374.4 264.7h1M377.6 254.8h1M377.0 258.4h1M372.1 260.0h1M392.3 273.8h1M399.9 260.6h1M394.2 262.2h1M386.9 259.4h1M382.3 254.6h1M400.5 258.9h1M388.7 259.8h1M385.6 257.0h1M379.3 266.9h1M388.8 253.3h1M391.3 256.3h1M385.8 265.1h1M376.7 261.1h1M380.6 264.5h1M391.9 269.1h1M386.2 272.1h1M373.7 271.0h1M380.4 266.2h1M381.8 263.0h1M374.0 264.4h1M402.8 263.3h1M382.8 262.6h1M390.0 261.6h1M383.0 263.6h1M395.8 267.1h1M372.7 259.6h1M383.2 266.6h1M392.5 261.6h1M403.8 261.8h1M396.8 269.3h1M398.6 263.5h1M388.6 255.3h1M365.6 259.7h1M390.0 267.6h1M382.0 267.5h1M388.7 269.8h1M367.4 258.6h1M373.6 257.6h1M399.1 258.2h1M374.9 260.7h1M391.7 260.4h1M390.2 265.2h1M376.7 251.4h1M374.0 256.7h1M399.0 259.2h1M372.5 264.4h1M383.5 258.1h1M393.7 266.9h1M385.7 259.0h1M374.5 252.8h1M386.8 264.4h1M374.0 262.7h1M415.1 257.2h1M366.3 265.5h1M378.8 260.2h1M389.1 262.0h1M392.7 265.0h1M394.4 263.1h1M361.9 269.0h1M366.3 267.5h1M385.5 256.0h1M383.7 266.8h1M373.0 262.8h1M375.8 257.8h1M376.9 268.6h1M389.7 262.4h1M382.2 263.2h1M385.8 263.4h1M366.2 266.9h1M374.6 250.2h1M389.9 256.8h1M381.6 262.1h1M377.2 265.1h1M380.3 261.2h1M373.6 261.2h1M372.8 262.8h1M396.0 267.4h1M387.2 256.1h1M393.1 267.0h1M403.2 251.9h1M383.2 261.0h1M393.7 257.4h1M379.3 273.6h1M392.8 253.1h1M383.2 269.1h1M376.9 265.4h1M384.0 255.6h1M376.8 267.9h1M394.6 259.7h1M394.1 259.2h1M385.4 262.4h1M370.7 264.1h1M379.2 249.5h1M374.9 258.5h1M374.8 257.9h1M376.2 250.9h1M391.8 262.9h1M385.5 261.3h1M383.6 261.3h1M372.3 255.3h1M383.7 267.4h1M385.3 270.2h1M369.6 261.3h1M376.9 268.4h1M399.7 260.0h1M390.2 261.4h1M373.2 262.0h1M372.8 269.9h1M388.8 268.2h1M386.5 250.9h1M390.9 263.0h1M359.6 263.0h1M392.9 270.7h1M372.9 266.3h1M386.3 261.7h1M380.2 265.1h1M388.7 265.7h1M379.0 256.2h1M396.0 268.7h1M377.4 262.4h1M390.9 254.1h1M387.9 274.1h1M385.7 259.1h1M403.1 262.6h1M385.1 260.5h1M384.8 253.9h1M370.4 255.5h1M391.9 262.1h1M394.3 252.8h1M377.1 269.5h1M375.2 253.6h1M375.7 260.9h1M382.9 268.8h1M396.1 269.9h1M388.7 260.1h1M378.1 255.4h1M395.5 268.5h1M383.9 258.2h1M389.6 264.9h1M384.5 256.9h1M385.4 259.8h1M390.3 265.4h1M387.3 260.5h1M398.0 266.2h1M395.5 266.5h1M389.5 264.4h1M372.5 253.8h1M373.8 265.5h1M392.0 263.4h1M383.9 271.3h1M379.1 254.0h1M367.8 261.0h1M389.9 266.0h1M380.8 266.4h1M382.5 259.0h1M379.3 266.1h1M392.4 257.1h1M373.3 263.1h1M403.9 256.9h1M370.7 264.5h1M388.0 259.6h1M382.7 264.8h1M365.9 262.4h1M388.9 266.9h1M394.4 262.2h1M368.9 268.9h1M390.6 259.5h1M393.2 267.5h1M381.6 251.2h1M378.4 258.9h1M374.8 262.1h1M372.4 264.4h1M401.5 256.8h1M393.2 260.0h1M388.3 261.9h1M395.6 259.1h1M390.2 258.8h1M385.2 262.4h1M393.7 254.9h1M369.8 269.2h1M386.8 270.6h1M372.9 263.5h1M388.9 271.0h1M382.5 260.4h1M390.0 262.0h1M375.7 266.2h1M364.4 257.6h1M396.3 260.1h1M379.8 264.3h1M394.0 265.0h1M373.6 259.8h1M393.3 261.9h1M376.8 266.7h1M394.2 272.9h1M372.5 259.1h1M376.2 264.2h1M378.3 267.8h1M356.7 267.1h1M376.7 261.2h1M388.6 263.5h1M373.1 269.7h1M388.6 260.1h1M385.0 257.2h1M371.0 261.1h1M386.6 263.0h1M375.4 255.9h1M366.6 270.2h1M386.6 258.7h1M394.6 265.1h1M379.0 259.6h1M394.1 264.1h1M399.0 264.2h1M377.3 259.6h1M376.1 263.7h1M385.5 265.4h1M387.4 257.5h1M381.0 258.0h1M387.7 256.2h1M377.3 258.4h1M377.0 261.3h1M397.7 261.3h1M369.0 261.1h1M390.3 265.2h1M385.3 272.1h1M393.8 262.9h1M394.8 256.1h1M381.4 258.3h1M384.7 270.3h1M378.2 270.1h1M373.1 269.3h1M366.5 258.4h1M392.7 262.1h1M384.4 262.4h1M384.8 261.6h1M373.5 261.1h1M384.1 258.2h1M387.5 271.0h1M367.0 259.9h1M380.3 262.6h1M383.9 259.0h1M382.7 262.5h1M382.2 269.9h1M384.3 255.4h1M367.8 265.3h1M379.7 259.5h1M369.8 261.0h1M382.1 259.2h1M379.6 266.8h1M390.6 265.1h1M381.3 256.0h1M390.5 269.7h1M395.4 268.1h1M385.7 264.3h1M382.9 268.5h1M380.4 272.8h1M390.6 261.0h1M383.0 254.8h1M375.9 261.1h1M406.8 258.6h1M391.9 262.9h1M380.1 265.5h1M363.6 267.0h1M401.8 263.9h1M382.4 263.3h1M389.4 260.2h1M384.2 264.9h1M379.6 264.4h1M386.2 265.9h1M373.4 259.9h1M378.9 268.2h1M385.4 254.6h1M370.6 271.8h1M386.3 256.3h1M374.2 263.2h1M396.9 270.3h1M379.5 261.1h1M401.6 257.8h1M398.2 264.1h1M383.9 268.7h1M387.7 258.5h1M368.2 262.6h1M388.0 269.1h1M357.6 268.9h1M389.0 269.8h1M390.7 263.5h1M387.2 264.4h1M376.9 262.0h1M384.2 260.3h1M368.8 255.6h1M387.9 265.0h1M384.1 256.9h1M391.3 260.6h1M362.9 270.0h1M368.5 273.3h1M388.2 260.4h1M360.2 259.1h1M397.4 269.0h1M385.5 254.3h1M379.3 261.1h1M387.5 261.9h1M386.4 254.7h1M376.8 269.4h1M368.9 266.9h1M405.4 265.6h1M369.5 268.5h1M365.0 264.1h1M379.0 268.5h1M394.4 263.4h1M400.4 267.2h1M378.4 257.8h1M406.9 260.6h1M387.0 261.9h1M378.4 254.8h1M381.6 261.9h1M392.5 260.0h1M367.8 257.3h1M382.6 263.7h1M390.0 260.7h1M388.2 263.2h1M399.4 262.2h1M384.4 265.2h1M394.8 258.1h1M378.4 261.2h1M362.3 268.8h1M393.4 262.6h1M415.7 268.6h1M402.6 270.1h1M391.8 255.7h1M397.9 264.5h1M371.4 262.8h1M390.3 267.2h1M384.7 260.0h1M390.4 258.8h1M382.3 266.2h1M369.0 264.3h1M364.0 258.0h1M371.0 262.1h1M389.9 262.3h1M391.9 263.0h1M381.0 264.9h1M380.7 263.2h1M393.1 259.8h1M394.2 257.2h1M380.9 254.1h1M377.8 270.2h1M386.5 268.6h1M368.7 257.6h1M387.5 266.5h1M391.1 254.4h1M388.0 262.2h1M384.2 264.8h1M380.3 254.3h1M372.6 255.5h1M370.2 261.9h1M395.7 259.1h1M375.6 257.0h1M366.2 262.8h1M378.3 261.3h1M373.7 264.8h1M371.3 265.1h1M376.6 266.3h1M374.4 264.6h1M387.3 262.1h1M398.9 263.3h1M374.4 265.8h1M375.0 259.9h1M383.1 263.4h1M399.6 254.1h1M380.5 268.0h1M381.4 264.1h1M397.9 256.6h1M383.4 266.3h1M377.3 254.0h1M373.3 263.4h1M384.8 271.4h1M395.9 255.0h1M393.1 266.9h1M398.8 261.8h1M377.6 263.2h1M398.1 265.5h1M399.5 266.3h1M377.3 257.6h1M401.0 255.2h1M379.6 261.0h1M374.1 259.7h1M383.1 274.0h1M382.4 260.0h1M384.2 267.0h1M375.1 260.5h1M366.0 265.9h1M389.6 269.8h1M371.3 273.0h1M391.5 261.2h1M379.2 261.0h1M371.2 266.2h1M377.1 259.0h1M388.0 263.0h1M377.3 261.4h1M378.2 269.0h1M392.8 259.0h1M382.6 269.1h1M380.2 271.1h1M387.3 265.7h1M362.8 266.6h1M386.3 265.3h1M387.7 265.1h1M378.0 266.9h1M383.6 257.4h1M373.1 263.3h1M386.3 251.8h1M362.9 267.6h1M382.9 276.3h1M368.1 261.3h1M377.2 265.2h1M396.7 270.3h1M373.2 268.5h1M371.1 264.0h1M384.7 265.5h1M375.2 269.0h1M382.3 262.4h1M380.4 257.3h1M390.0 264.1h1M387.4 271.5h1M374.5 261.1h1M383.1 266.6h1M381.3 267.0h1M387.5 254.0h1M376.3 252.7h1M380.2 260.5h1M388.8 263.3h1M382.4 268.6h1M388.8 256.5h1M376.3 264.1h1M399.6 261.5h1M381.3 263.8h1M390.6 262.1h1M385.9 260.5h1M377.6 258.6h1M389.4 259.8h1M388.4 264.5h1M392.5 249.5h1M373.6 256.6h1M381.4 266.4h1M407.7 270.0h1M396.3 264.4h1M379.2 265.1h1M361.7 267.0h1M383.1 265.5h1M372.9 257.2h1M376.7 262.3h1M386.4 260.8h1M386.4 265.8h1M371.7 262.0h1M367.8 259.8h1M391.8 259.0h1M401.2 265.0h1M391.7 263.0h1M391.5 267.8h1M384.0 259.9h1M377.6 271.9h1M381.2 260.3h1M376.1 254.3h1M378.1 264.1h1M378.3 258.8h1M387.0 264.7h1M378.7 264.0h1M373.5 266.7h1M373.4 260.9h1M384.3 260.5h1M371.8 272.7h1M397.8 254.0h1M384.2 256.3h1M386.0 256.2h1M388.7 265.1h1M399.7 268.4h1M378.5 267.1h1M378.5 262.0h1M378.1 253.9h1M388.9 252.6h1M380.7 265.1h1M384.1 254.8h1M376.7 265.8h1M393.7 270.3h1M365.3 264.7h1M378.3 266.2h1M366.5 261.8h1M389.9 259.4h1M379.5 257.7h1M393.9 256.0h1M374.1 260.9h1M379.9 272.8h1M385.7 258.4h1M388.7 264.2h1M385.8 262.2h1M387.5 256.8h1M371.3 260.4h1M372.2 265.9h1M402.0 268.5h1M387.4 264.1h1M376.3 256.2h1M388.4 255.3h1M386.0 261.8h1M390.3 262.7h1M384.0 259.7h1M366.2 260.8h1M389.8 267.6h1M396.5 257.7h1M373.8 265.9h1M378.6 275.0h1M386.1 255.1h1M377.6 270.1h1M365.2 263.2h1M369.5 270.3h1M378.6 257.5h1M366.3 259.0h1M358.0 260.2h1M404.3 263.0h1M380.4 256.8h1M386.3 260.2h1M374.7 269.2h1M387.3 258.2h1M397.5 262.2h1M387.9 263.2h1M394.5 265.5h1M379.6 266.0h1M379.2 263.2h1M399.0 257.3h1M372.9 260.5h1M378.1 268.8h1M367.4 273.7h1M398.5 260.3h1M384.8 260.7h1M389.6 265.7h1M390.4 266.2h1M401.9 261.7h1M389.8 261.6h1M383.4 263.6h1M382.5 264.2h1M374.7 261.8h1M377.1 256.8h1M376.1 260.1h1M381.5 254.9h1M380.5 257.0h1M375.0 263.4h1M393.8 263.9h1M378.2 260.4h1M396.1 254.6h1M394.1 255.2h1M376.8 262.7h1M380.8 270.6h1M387.8 262.3h1M392.3 262.7h1M375.1 268.0h1M397.7 268.7h1M371.5 271.8h1M378.9 266.2h1M394.7 274.1h1M367.2 257.5h1M394.5 264.9h1M379.9 248.2h1M387.3 261.6h1M357.4 275.6h1M358.5 259.8h1M383.0 263.6h1M390.4 261.2h1M374.2 260.7h1M362.4 257.0h1M402.3 259.1h1M382.2 271.8h1M393.3 263.1h1M390.2 261.2h1M374.1 267.4h1M384.3 270.3h1M380.4 260.7h1M386.4 261.6h1M379.9 258.1h1M385.5 264.1h1M400.9 262.4h1M365.8 264.8h1M405.4 260.3h1M375.1 261.7h1M355.0 260.9h1M381.2 255.1h1M388.7 258.2h1M364.9 259.0h1M389.2 271.9h1M395.3 263.5h1M378.0 261.2h1M392.5 260.0h1M387.1 267.2h1M374.1 259.6h1M387.4 262.5h1M381.8 259.9h1M382.4 271.6h1M396.3 254.6h1M383.5 263.0h1M383.4 255.7h1M381.7 263.2h1M376.3 264.0h1M359.1 255.1h1M384.0 264.4h1M381.4 260.3h1M384.8 267.8h1M391.8 262.1h1M378.4 267.7h1M388.3 266.8h1M380.3 258.3h1M384.8 259.4h1M394.3 266.7h1M361.6 265.8h1M396.1 267.6h1M378.4 258.3h1M392.5 267.5h1M383.6 256.9h1M368.0 263.8h1M374.9 259.2h1M387.4 267.6h1M362.7 259.2h1M395.8 262.3h1M379.6 265.6h1M371.8 256.5h1M383.2 270.2h1M393.0 262.5h1M392.9 260.5h1M371.4 254.3h1M385.7 266.9h1M386.7 262.3h1M379.1 267.8h1M382.5 255.4h1M396.5 259.3h1M386.8 262.5h1M393.4 263.7h1M395.0 263.5h1M378.5 260.0h1M389.4 258.4h1M392.1 261.3h1M373.9 258.2h1M381.6 271.2h1M390.6 262.6h1M374.1 271.8h1M380.3 262.5h1M378.8 269.0h1M384.7 260.3h1M384.8 257.6h1M372.7 261.7h1M354.7 268.3h1M402.5 257.1h1M381.6 254.8h1M384.7 263.5h1M390.3 256.0h1M377.1 259.3h1M380.6 273.7h1M381.0 262.3h1M378.0 266.4h1M408.2 268.2h1M398.1 257.2h1M393.4 262.6h1M395.3 267.7h1M389.4 254.3h1M384.3 260.0h1M387.4 262.7h1M393.3 254.6h1M375.7 262.1h1M386.2 260.5h1M382.7 262.8h1M393.3 261.9h1M385.4 253.6h1M357.3 255.3h1M386.5 251.2h1M387.0 262.0h1M383.0 258.9h1M378.9 266.6h1M386.5 262.4h1M378.2 263.5h1M394.7 262.4h1M379.4 256.7h1M384.0 258.0h1M368.9 266.8h1M376.9 252.5h1M375.9 271.5h1M382.0 256.0h1M372.2 266.0h1M387.0 263.5h1M381.1 264.9h1M398.1 264.9h1M381.4 255.6h1M387.4 270.2h1M389.4 256.3h1M384.8 268.9h1M376.8 264.9h1M394.9 270.5h1M367.3 253.9h1M386.7 266.0h1M379.5 262.4h1M379.0 268.4h1M361.2 263.8h1M370.4 259.2h1M367.9 258.0h1M382.8 262.6h1M400.6 261.4h1M386.4 264.2h1M385.5 269.7h1M384.4 263.2h1M381.9 262.5h1M382.5 267.4h1M383.2 262.8h1M382.5 266.2h1M378.3 267.1h1M377.4 265.9h1M401.9 263.6h1M382.1 256.7h1M390.3 262.6h1M392.0 259.3h1M388.1 271.4h1M387.0 260.9h1M370.2 262.5h1M389.5 265.4h1M372.0 257.4h1M373.4 257.5h1M380.3 263.8h1M402.0 263.5h1M397.3 254.4h1M398.2 266.4h1M387.3 266.6h1M389.1 271.9h1M390.9 253.9h1M365.8 270.4h1M382.2 269.0h1M379.6 259.3h1M379.6 264.1h1M384.8 259.4h1M388.3 265.5h1M373.9 257.0h1M363.6 261.0h1M383.1 259.1h1M377.1 261.8h1M383.3 265.3h1M391.2 264.7h1M394.0 257.7h1M389.0 264.3h1M372.7 259.2h1M387.4 262.9h1M370.6 259.8h1M398.1 266.7h1M383.8 269.2h1M374.0 261.7h1M392.5 260.8h1M372.0 265.4h1M398.8 250.0h1M384.5 256.3h1M380.1 255.5h1M408.7 259.1h1M383.4 259.0h1M373.2 260.3h1M385.1 271.2h1M385.8 270.2h1M372.5 262.9h1M378.7 254.8h1M385.4 258.8h1M377.3 257.4h1M393.1 260.5h1M381.6 263.4h1M370.9 263.6h1M381.3 264.7h1M379.2 262.7h1M388.1 267.3h1M376.2 267.3h1M373.3 261.6h1M384.3 263.2h1M358.3 257.7h1M381.2 267.1h1M376.0 270.0h1M365.2 262.9h1M388.3 262.6h1M385.6 267.1h1M375.0 265.4h1M393.5 261.3h1M360.1 256.6h1M374.6 257.3h1M387.3 258.5h1M407.5 265.3h1M370.1 261.1h1M398.1 265.9h1M372.9 267.6h1M378.3 273.4h1M377.5 265.4h1M388.6 260.3h1M381.5 268.2h1M387.9 262.2h1M387.4 271.1h1M392.2 264.9h1M386.3 254.8h1M384.3 260.1h1M390.2 259.5h1M387.4 257.3h1M391.8 258.9h1M382.7 265.4h1M379.8 262.5h1M393.5 271.2h1M365.2 258.0h1M389.7 267.1h1M378.3 263.0h1M381.1 273.7h1M381.0 256.6h1M367.7 256.2h1M395.9 260.6h1M402.3 265.7h1M386.8 265.7h1M390.8 267.0h1M373.4 259.7h1M377.6 263.0h1M380.5 256.4h1M376.1 271.3h1M404.0 258.3h1M386.8 262.3h1M374.6 266.0h1M382.3 270.7h1M387.5 261.0h1M356.8 262.0h1M391.4 259.0h1M391.7 265.9h1M365.6 261.5h1M386.2 266.2h1M384.5 262.4h1M379.6 261.1h1M383.0 257.3h1M389.3 260.9h1M388.2 260.0h1M387.1 263.1h1M391.8 264.8h1M392.2 261.7h1M382.5 261.2h1M370.6 261.9h1M393.8 266.3h1M374.6 264.0h1M390.4 255.8h1M386.4 264.1h1M390.4 263.8h1M365.8 252.6h1M402.6 260.6h1M395.6 268.7h1M383.9 256.9h1M396.5 262.3h1M388.1 264.9h1M392.4 267.5h1M369.0 255.6h1M384.4 262.5h1M390.7 261.8h1M381.2 272.5h1M396.6 268.2h1M393.2 258.6h1M382.2 262.2h1M372.2 258.2h1M384.6 256.5h1M388.4 264.8h1M380.7 260.8h1M389.0 264.9h1M386.6 256.5h1M367.0 272.6h1M376.6 260.7h1M365.0 258.6h1M375.8 266.4h1M356.9 255.6h1M378.9 260.1h1M375.3 260.3h1M367.4 263.8h1M394.8 263.3h1M377.7 268.7h1M387.8 257.4h1M377.3 259.5h1M382.6 268.5h1M376.0 261.8h1M384.1 256.6h1M378.3 265.5h1M394.2 253.3h1M390.0 261.1h1M395.7 265.6h1M402.5 264.0h1M379.1 258.4h1M368.9 265.2h1M388.1 266.5h1M386.5 255.1h1M388.4 276.3h1M392.0 281.3h1M400.1 278.9h1M377.7 272.5h1M377.3 273.7h1M383.3 278.7h1M389.6 283.0h1M397.9 275.3h1M397.1 277.6h1M393.9 284.1h1M383.6 277.2h1M400.9 273.8h1M392.4 278.2h1M388.3 271.1h1M386.6 272.7h1M397.9 278.7h1M395.5 271.7h1M394.2 278.2h1M397.7 274.0h1M396.2 284.2h1M402.6 272.9h1M383.8 270.3h1M397.2 280.4h1M393.2 273.3h1M399.1 285.4h1M390.8 276.9h1M398.6 280.0h1M399.6 275.5h1M393.2 275.8h1M387.3 276.0h1M389.2 280.0h1M389.1 277.8h1M385.8 271.5h1M400.2 272.7h1M402.7 282.1h1M376.3 274.4h1M388.3 277.6h1M389.9 274.5h1M399.1 276.9h1M397.2 274.1h1M386.6 284.0h1M389.2 272.1h1M389.9 282.7h1M390.0 274.0h1M395.1 282.3h1M389.7 275.9h1M389.8 286.0h1M390.1 279.5h1M377.9 278.4h1M391.3 276.0h1M388.4 270.8h1M381.4 278.3h1M386.9 277.1h1M389.9 275.0h1M386.3 286.6h1M383.9 275.0h1M389.1 271.9h1M384.9 281.7h1M397.0 278.1h1M411.8 281.6h1M398.9 273.5h1M398.0 285.7h1M388.6 286.3h1M385.8 272.0h1M390.7 273.6h1M395.1 272.1h1M391.6 267.9h1M390.8 282.6h1M389.3 279.0h1M398.0 272.1h1M382.9 277.9h1M392.8 276.2h1M384.8 283.4h1M383.6 276.2h1M390.7 281.0h1M388.1 273.5h1M403.9 273.4h1M396.1 276.8h1M388.0 277.3h1M389.4 279.0h1M374.7 277.4h1M391.5 272.8h1M402.9 280.6h1M392.5 276.0h1M399.9 275.3h1M385.8 280.9h1M384.8 273.6h1M400.3 269.7h1M390.6 278.1h1M392.7 270.4h1M389.6 275.9h1M403.4 282.4h1M386.2 281.8h1M395.2 277.0h1M389.5 276.2h1M381.1 274.4h1M397.0 284.6h1M402.9 275.7h1M395.0 265.8h1M389.3 271.3h1M396.3 269.4h1M384.3 272.1h1M393.6 281.6h1M385.1 286.3h1M392.1 273.4h1M393.3 277.4h1M396.4 279.2h1M405.1 283.2h1M386.9 281.3h1M395.9 272.6h1M386.2 273.6h1M375.2 280.6h1M389.6 283.5h1M387.4 277.9h1M395.7 282.2h1M393.1 272.4h1M405.2 281.7h1M399.8 285.4h1M400.0 279.5h1M394.1 280.6h1M381.4 281.5h1M384.8 279.6h1M384.6 281.0h1M392.3 280.0h1M385.2 276.1h1M390.7 276.1h1M388.2 273.2h1M395.9 275.6h1M385.8 279.3h1M385.8 276.7h1M387.8 273.0h1M389.6 273.5h1M383.0 279.2h1M389.1 270.4h1M388.5 278.4h1M393.8 279.3h1M392.7 280.4h1M387.9 273.6h1M395.0 275.5h1M391.1 280.7h1M397.1 283.5h1M386.6 275.7h1M394.6 270.5h1M383.0 280.5h1M387.1 273.0h1M396.2 280.1h1M396.9 275.9h1M389.2 275.9h1M393.0 267.6h1M386.6 281.0h1M386.1 277.2h1M391.9 280.0h1M388.0 272.0h1M407.0 274.0h1M402.0 269.0h1M391.8 276.6h1M403.2 287.4h1M397.3 272.6h1M385.9 273.8h1M387.8 278.8h1M386.0 276.3h1M400.5 284.5h1M379.2 272.9h1M388.7 283.8h1M388.9 286.8h1M393.4 284.5h1M385.6 276.0h1M397.6 280.3h1M379.1 276.2h1M392.2 280.6h1M387.0 286.0h1M392.0 284.5h1M393.6 277.9h1M389.0 271.8h1M396.6 281.2h1M397.0 275.7h1M384.6 275.7h1M389.1 277.4h1M397.3 273.1h1M388.0 280.9h1M394.4 273.4h1M384.4 273.7h1M391.5 278.7h1M390.6 274.5h1M389.9 277.1h1M394.9 277.9h1M385.9 271.8h1M400.5 277.1h1M390.0 277.4h1M398.3 276.0h1M392.2 276.4h1M394.8 272.6h1M392.4 282.5h1M398.6 280.5h1M393.0 285.1h1M395.6 284.3h1M383.4 272.2h1M396.2 276.2h1M388.3 272.9h1M400.5 271.7h1M391.8 270.8h1M406.6 275.1h1M384.6 285.4h1M385.6 268.9h1M393.3 272.3h1M381.8 283.0h1M386.4 272.4h1M392.2 276.6h1M398.2 278.0h1M401.2 283.0h1M402.4 282.9h1M391.5 280.1h1M391.2 270.0h1M383.6 281.1h1M376.0 273.5h1M382.9 277.2h1M384.5 278.7h1M389.8 275.2h1M385.7 266.8h1M391.6 271.3h1M389.2 279.3h1M397.8 280.9h1M400.5 270.6h1M395.4 285.1h1M393.6 272.1h1M393.6 275.0h1M387.0 282.7h1M390.0 272.1h1M386.8 287.0h1M385.7 280.8h1M392.2 283.2h1M389.3 272.9h1M387.0 272.5h1M407.6 278.5h1M389.1 283.6h1M395.3 276.6h1M395.1 278.8h1M398.3 285.5h1M389.1 277.3h1M389.9 283.4h1M393.5 281.3h1M396.8 274.4h1M391.9 284.2h1M397.0 281.4h1M389.3 275.8h1M385.7 276.2h1M390.7 270.6h1M398.5 273.8h1M392.7 280.4h1M387.6 268.8h1M397.2 279.5h1M389.5 283.0h1M396.8 272.9h1M390.6 269.0h1M389.4 284.3h1M385.8 281.5h1M381.5 276.1h1M397.1 285.8h1M394.0 281.2h1M402.0 265.7h1M380.3 286.7h1M406.8 280.4h1M391.5 278.8h1M391.3 274.5h1M391.0 276.9h1M395.4 280.8h1M397.3 280.4h1M385.0 284.2h1M374.2 278.1h1M393.2 275.0h1M403.0 272.2h1M383.7 275.1h1M393.8 281.4h1M391.8 280.7h1M386.7 274.6h1M391.9 271.0h1M392.3 275.6h1M395.4 272.6h1M387.8 274.8h1M388.8 272.7h1M389.5 271.0h1M394.5 280.8h1M391.0 276.6h1M385.5 272.9h1M389.7 273.1h1M383.7 278.3h1M391.0 275.6h1M386.0 277.3h1M386.7 275.4h1M392.3 281.0h1M395.9 274.6h1M398.7 271.9h1M390.0 283.8h1M406.1 278.1h1M388.8 275.7h1M383.5 276.8h1M388.4 273.9h1M398.7 273.8h1M401.8 281.6h1M395.1 274.7h1M387.9 267.9h1M392.8 276.2h1M393.5 274.3h1M394.2 270.3h1M377.3 279.8h1M397.9 262.3h1M399.2 275.8h1M390.1 270.1h1M384.8 280.9h1M386.5 277.3h1M390.1 287.1h1M396.7 271.1h1M388.1 272.0h1M382.4 274.2h1M398.0 277.7h1M395.3 276.9h1M388.4 277.9h1M390.6 286.8h1M402.4 279.3h1M394.9 267.9h1M386.1 281.4h1M398.8 275.6h1M389.7 275.3h1M396.1 277.6h1M400.5 283.2h1M389.2 274.6h1M389.6 273.3h1M388.5 277.2h1M396.7 269.9h1M382.3 273.8h1M389.2 279.7h1M386.1 284.8h1M387.8 276.5h1M391.4 283.2h1M393.0 277.6h1M387.7 278.3h1M393.6 275.8h1M390.9 268.6h1M387.8 283.2h1M400.0 277.2h1M377.5 286.4h1M388.5 282.4h1M387.2 284.2h1M398.3 272.4h1M389.7 271.6h1M392.8 275.6h1M381.7 272.4h1M392.6 270.1h1M397.9 279.7h1M390.0 284.3h1M385.3 280.8h1M382.6 275.9h1M395.1 274.9h1M390.4 280.7h1M400.6 283.8h1M393.9 276.2h1M382.0 285.8h1M402.8 267.1h1M396.5 277.3h1M395.5 279.0h1M389.9 277.5h1M390.8 283.2h1M389.4 274.9h1M395.2 280.6h1M393.8 278.9h1M400.3 282.9h1M392.4 276.5h1M395.2 268.4h1M387.8 274.1h1M392.1 275.6h1M406.5 281.1h1M385.1 266.9h1M402.9 278.1h1M398.5 281.8h1M379.9 263.6h1M374.8 271.0h1M399.6 259.8h1M377.4 257.0h1M414.0 277.8h1M388.3 258.2h1M370.3 263.7h1M385.6 257.7h1M381.9 281.9h1M385.3 271.0h1M354.9 267.4h1M383.0 263.3h1M365.2 269.3h1M370.4 264.7h1M362.1 269.1h1M398.3 261.8h1M389.8 255.2h1M393.5 275.3h1M379.5 278.6h1M372.5 270.5h1M409.4 269.8h1M368.9 281.2h1M392.9 267.3h1M358.9 251.7h1M363.2 284.5h1M389.4 261.7h1M401.7 284.3h1M373.0 274.7h1M361.4 273.6h1M411.3 256.2h1M386.0 263.8h1M383.8 270.9h1M389.2 278.7h1M392.5 280.2h1M399.8 280.7h1M375.4 274.0h1M379.8 261.8h1M413.3 272.9h1M385.8 249.5h1M381.8 277.5h1M382.2 264.7h1M406.4 267.0h1M380.3 269.0h1M381.7 280.3h1M393.3 269.3h1M379.9 267.8h1M409.5 267.0h1M394.5 254.6h1M389.8 276.7h1M403.4 273.1h1M393.5 273.2h1M388.0 262.0h1M393.7 268.9h1M394.3 277.6h1M387.3 265.7h1M389.5 257.8h1M389.1 261.4h1M391.6 271.2h1M382.0 258.3h1M385.9 263.4h1M383.1 276.8h1M398.8 257.4h1M398.6 283.3h1M401.3 272.7h1M383.9 287.0h1M380.6 255.1h1M386.4 272.8h1M370.3 258.1h1M413.6 271.1h1M396.4 264.3h1M363.4 268.3h1M404.4 263.5h1M359.5 268.3h1M381.1 270.2h1M370.2 267.0h1M377.3 278.6h1M387.3 278.5h1M384.4 249.2h1M357.1 275.2h1M397.7 278.5h1M384.1 252.6h1M378.1 273.9h1M404.9 266.7h1M377.1 262.4h1M399.8 278.5h1M359.0 281.8h1M371.9 255.6h1M362.3 262.9h1M367.3 263.4h1M387.4 274.1h1M378.3 254.5h1M379.2 263.4h1M359.4 271.4h1M364.1 253.1h1" stroke="#1a1a1a" stroke-width="1" fill="none" opacity="0.85"/>
<rect x="345.00" y="223.70" width="74.00" height="64.80" fill="none" stroke="#111" stroke-width="1.2"/>
<line x1="363.80" y1="223.70" x2="363.80" y2="288.50" stroke="#111" stroke-width="1.1"/>
<line x1="345.00" y1="271.50" x2="419.00" y2="271.50" stroke="#111" stroke-width="1.1"/>
<text x="347.20" y="232.30" font-size="6.3" font-weight="bold" fill="#1a1a1a" stroke="#1a1a1a" stroke-width="0.25">79%</text>
<text x="416.20" y="232.30" font-size="6.3" font-weight="bold" text-anchor="end" fill="#1a1a1a" stroke="#1a1a1a" stroke-width="0.25">76%</text>
<text x="416.20" y="286.50" font-size="6.3" font-weight="bold" text-anchor="end" fill="#1a1a1a" stroke="#1a1a1a" stroke-width="0.25">23%</text>
<line x1="345.00" y1="288.50" x2="345.00" y2="290.30" stroke="#111" stroke-width="0.7"/>
<line x1="343.20" y1="288.50" x2="345.00" y2="288.50" stroke="#111" stroke-width="0.7"/>
<text x="344.40" y="298.10" font-size="5.8" fill="#222" stroke="#222" stroke-width="0.2">10<tspan dy="-2.4" font-size="4.6">0</tspan></text>
<text x="339.80" y="294.50" font-size="5.8" fill="#222" stroke="#222" stroke-width="0.2" transform="rotate(-90 339.80 294.50)">10<tspan dy="-2.4" font-size="4.6">0</tspan></text>
<line x1="363.50" y1="288.50" x2="363.50" y2="290.30" stroke="#111" stroke-width="0.7"/>
<line x1="343.20" y1="272.30" x2="345.00" y2="272.30" stroke="#111" stroke-width="0.7"/>
<text x="362.90" y="298.10" font-size="5.8" fill="#222" stroke="#222" stroke-width="0.2">10<tspan dy="-2.4" font-size="4.6">1</tspan></text>
<text x="339.80" y="276.97" font-size="5.8" fill="#222" stroke="#222" stroke-width="0.2" transform="rotate(-90 339.80 276.97)">10<tspan dy="-2.4" font-size="4.6">1</tspan></text>
<line x1="382.00" y1="288.50" x2="382.00" y2="290.30" stroke="#111" stroke-width="0.7"/>
<line x1="343.20" y1="256.10" x2="345.00" y2="256.10" stroke="#111" stroke-width="0.7"/>
<text x="381.40" y="298.10" font-size="5.8" fill="#222" stroke="#222" stroke-width="0.2">10<tspan dy="-2.4" font-size="4.6">2</tspan></text>
<text x="339.80" y="259.44" font-size="5.8" fill="#222" stroke="#222" stroke-width="0.2" transform="rotate(-90 339.80 259.44)">10<tspan dy="-2.4" font-size="4.6">2</tspan></text>
<line x1="400.50" y1="288.50" x2="400.50" y2="290.30" stroke="#111" stroke-width="0.7"/>
<line x1="343.20" y1="239.90" x2="345.00" y2="239.90" stroke="#111" stroke-width="0.7"/>
<text x="399.90" y="298.10" font-size="5.8" fill="#222" stroke="#222" stroke-width="0.2">10<tspan dy="-2.4" font-size="4.6">3</tspan></text>
<text x="339.80" y="241.91" font-size="5.8" fill="#222" stroke="#222" stroke-width="0.2" transform="rotate(-90 339.80 241.91)">10<tspan dy="-2.4" font-size="4.6">3</tspan></text>
<line x1="419.00" y1="288.50" x2="419.00" y2="290.30" stroke="#111" stroke-width="0.7"/>
<line x1="343.20" y1="223.70" x2="345.00" y2="223.70" stroke="#111" stroke-width="0.7"/>
<text x="418.40" y="298.10" font-size="5.8" fill="#222" stroke="#222" stroke-width="0.2">10<tspan dy="-2.4" font-size="4.6">4</tspan></text>
<text x="339.80" y="224.39" font-size="5.8" fill="#222" stroke="#222" stroke-width="0.2" transform="rotate(-90 339.80 224.39)">10<tspan dy="-2.4" font-size="4.6">4</tspan></text>
<text x="473.10" y="219.60" font-size="9.0" font-weight="bold" text-anchor="middle" fill="#111" stroke="#111" stroke-width="0.25">RE-cm5</text>
<path d="M452.4 269.0h1M452.1 264.6h1M446.1 263.5h1M443.0 267.9h1M448.3 262.4h1M441.4 263.4h1M452.7 271.6h1M450.3 262.1h1M447.9 266.9h1M448.1 269.5h1M445.3 251.8h1M442.9 267.5h1M450.9 264.0h1M449.2 264.4h1M448.0 261.5h1M446.1 270.3h1M446.6 263.8h1M451.3 269.2h1M446.2 265.3h1M444.1 264.7h1M448.5 264.0h1M448.0 265.9h1M447.7 261.4h1M444.3 262.7h1M452.7 262.8h1M445.3 261.5h1M443.6 266.6h1M444.2 268.8h1M450.4 267.0h1M450.8 263.6h1M441.7 263.7h1M449.5 255.8h1M443.5 269.8h1M448.9 271.1h1M449.6 264.4h1M448.8 268.5h1M447.3 262.9h1M448.5 262.3h1M455.3 260.0h1M442.5 257.2h1M450.9 261.9h1M448.0 262.9h1M448.3 256.3h1M447.7 261.0h1M451.0 267.3h1M443.3 258.9h1M449.3 270.3h1M449.9 263.2h1M451.1 251.6h1M445.7 258.9h1M444.1 267.0h1M448.3 265.5h1M447.0 267.3h1M450.0 261.0h1M450.5 259.1h1M453.2 257.1h1M446.5 258.3h1M447.6 271.0h1M445.0 273.4h1M452.1 266.0h1M445.5 268.8h1M450.6 263.8h1M455.6 260.4h1M443.1 262.9h1M449.3 273.0h1M441.7 264.8h1M451.6 260.4h1M445.9 257.6h1M450.0 268.4h1M449.4 265.3h1M450.7 263.4h1M449.8 268.3h1M451.7 266.7h1M447.7 267.7h1M442.3 254.7h1M452.8 264.7h1M444.0 260.9h1M447.0 264.4h1M444.9 269.3h1M441.8 278.9h1M443.9 272.8h1M449.6 255.1h1M443.4 264.3h1M448.3 261.8h1M447.5 264.9h1M443.7 264.3h1M455.0 260.6h1M444.1 267.5h1M451.9 269.5h1M445.4 263.6h1M448.1 262.9h1M448.8 269.8h1M449.3 263.9h1M446.8 273.5h1M443.4 274.6h1M449.9 264.5h1M445.0 273.8h1M451.5 268.8h1M454.4 254.5h1M447.8 262.4h1M445.0 264.4h1M449.2 266.8h1M447.0 257.0h1M449.3 267.2h1M454.5 269.0h1M447.5 257.9h1M456.5 260.4h1M448.1 268.0h1M449.1 271.1h1M444.0 260.3h1M448.0 257.4h1M445.4 271.4h1M448.4 263.5h1M445.5 264.3h1M447.3 258.3h1M450.1 257.2h1M451.7 262.2h1M448.4 259.4h1M453.5 271.4h1M454.5 268.8h1M452.0 260.8h1M451.8 261.7h1M447.3 256.7h1M447.6 266.2h1M447.2 258.1h1M450.5 268.9h1M447.2 268.2h1M450.8 258.7h1M447.3 254.0h1M444.0 266.3h1M444.5 266.1h1M448.7 253.0h1M445.8 272.1h1M447.5 264.7h1M445.1 255.4h1M442.1 279.4h1M446.8 259.3h1M447.8 253.6h1M452.2 273.2h1M444.9 265.7h1M444.4 268.6h1M444.6 263.2h1M451.9 266.8h1M446.3 255.8h1M442.1 270.5h1M449.2 264.3h1M451.7 264.8h1M445.0 263.4h1M447.1 263.9h1M455.9 267.1h1M448.4 262.7h1M445.1 258.7h1M441.1 261.5h1M442.3 254.0h1M444.3 253.1h1M452.1 270.7h1M444.2 275.0h1M449.7 250.4h1M447.5 258.6h1M441.5 262.6h1M451.4 266.4h1M442.5 260.4h1M444.9 270.2h1M447.1 258.7h1M444.3 253.4h1M444.6 268.8h1M440.9 265.0h1M447.1 268.4h1M443.5 268.9h1M452.7 276.3h1M441.9 263.8h1M446.7 264.7h1M444.1 268.6h1M455.4 272.1h1M444.2 260.9h1M449.9 264.7h1M444.8 270.7h1M449.2 269.5h1M446.8 270.9h1M445.8 258.0h1M447.4 256.5h1M451.7 268.0h1M441.7 264.9h1M450.3 262.1h1M448.8 260.8h1M447.2 263.5h1M449.1 258.8h1M443.6 265.8h1M445.7 266.8h1M445.7 256.9h1M449.9 265.4h1M449.9 262.2h1M446.2 270.8h1M441.6 273.4h1M449.2 263.7h1M447.7 267.3h1M444.8 265.5h1M444.2 254.0h1M448.1 264.5h1M449.6 267.0h1M449.8 268.3h1M443.8 270.6h1M456.6 260.9h1M443.1 267.7h1M450.5 269.5h1M452.7 256.5h1M448.7 266.5h1M451.7 259.2h1M447.5 262.0h1M446.9 263.2h1M446.9 254.4h1M447.3 264.4h1M446.1 244.8h1M445.0 260.5h1M444.4 272.7h1M450.6 263.0h1M449.5 281.8h1M444.1 266.6h1M445.4 272.0h1M451.2 263.3h1M449.5 259.7h1M442.0 268.6h1M453.0 262.4h1M445.6 254.3h1M454.8 257.5h1M444.1 262.9h1M451.6 264.3h1M447.3 264.1h1M450.3 263.8h1M448.0 263.6h1M443.6 271.3h1M445.0 256.9h1M445.9 264.2h1M450.2 256.0h1M443.1 265.0h1M448.7 258.1h1M443.5 265.0h1M446.9 255.2h1M444.4 272.1h1M443.8 269.7h1M442.2 272.1h1M452.9 260.6h1M445.1 267.4h1M443.2 267.0h1M451.6 265.4h1M448.5 263.1h1M450.8 259.6h1M452.8 263.9h1M446.3 255.1h1M445.9 265.3h1M451.7 255.2h1M447.0 260.3h1M443.3 264.0h1M444.8 268.7h1M440.9 253.4h1M449.2 262.2h1M447.8 258.8h1M443.8 260.0h1M447.2 259.4h1M446.0 259.3h1M448.2 257.8h1M447.3 264.5h1M450.7 260.0h1M443.5 255.9h1M450.0 260.6h1M450.8 263.6h1M446.5 253.9h1M445.1 268.3h1M445.3 267.7h1M441.8 269.5h1M456.9 270.0h1M448.5 257.3h1M445.6 260.4h1M448.0 253.1h1M444.5 268.3h1M447.9 268.0h1M450.3 257.8h1M442.8 266.5h1M447.5 264.4h1M444.6 269.5h1M449.1 270.2h1M446.2 267.8h1M447.2 258.9h1M447.1 255.0h1M446.8 265.0h1M449.8 258.3h1M442.9 260.0h1M456.3 264.8h1M444.8 260.3h1M453.4 257.7h1M447.0 263.6h1M444.9 260.1h1M441.7 259.4h1M451.8 271.7h1M446.4 267.8h1M449.0 264.6h1M446.9 270.6h1M449.3 262.8h1M446.6 269.1h1M445.4 260.1h1M446.5 261.3h1M451.7 265.9h1M447.1 261.1h1M452.2 266.4h1M454.5 268.9h1M446.7 261.0h1M446.4 265.0h1M450.1 266.6h1M452.8 255.8h1M447.5 256.3h1M443.9 260.7h1M445.2 258.7h1M442.2 270.2h1M446.3 269.2h1M443.6 251.4h1M445.4 268.8h1M445.5 266.1h1M443.7 271.5h1M448.9 269.7h1M446.5 270.9h1M447.6 261.4h1M445.2 264.3h1M444.3 257.5h1M447.8 267.8h1M446.4 268.6h1M452.8 257.1h1M448.3 258.8h1M445.2 265.0h1M450.3 266.9h1M449.6 273.8h1M446.2 269.9h1M452.3 266.7h1M441.3 263.1h1M446.4 255.2h1M447.2 268.1h1M446.5 263.0h1M452.4 260.7h1M444.2 264.2h1M451.2 267.2h1M447.6 261.3h1M451.6 268.8h1M441.5 265.8h1M449.5 260.6h1M443.0 262.4h1M441.4 267.1h1M445.7 254.4h1M447.3 270.4h1M443.1 262.1h1M453.6 265.0h1M445.5 265.0h1M450.1 258.6h1M447.1 255.2h1M442.0 255.7h1M450.3 265.7h1M449.9 270.6h1M447.6 265.3h1M448.8 266.5h1M443.8 262.5h1M446.9 264.2h1M444.8 263.3h1M448.4 265.0h1M449.4 268.4h1M449.3 269.2h1M450.3 271.5h1M449.5 260.6h1M455.3 270.1h1M451.7 267.9h1M447.6 257.8h1M448.9 262.1h1M446.0 252.4h1M452.7 257.7h1M443.6 266.5h1M449.3 259.7h1M447.4 265.4h1M447.9 266.8h1M450.0 262.0h1M441.9 275.7h1M446.1 258.6h1M450.0 267.2h1M445.3 276.7h1M447.3 265.7h1M448.5 262.7h1M448.5 256.9h1M446.0 274.0h1M450.4 261.8h1M445.4 255.9h1M447.0 263.0h1M445.2 255.5h1M447.9 266.3h1M451.3 266.8h1M452.6 270.5h1M447.0 258.3h1M448.9 269.2h1M442.1 257.3h1M449.7 261.0h1M452.4 265.2h1M445.5 256.8h1M449.4 254.7h1M443.0 256.9h1M453.2 273.2h1M446.6 261.9h1M449.8 270.7h1M444.6 275.9h1M446.7 270.1h1M445.0 274.7h1M446.7 257.1h1M454.1 260.3h1M447.4 257.2h1M449.7 265.0h1M446.4 261.8h1M445.4 260.1h1M442.6 270.5h1M450.4 256.5h1M443.4 266.2h1M455.1 262.9h1M446.3 262.6h1M448.2 263.0h1M451.1 269.3h1M449.3 272.5h1M446.6 261.0h1M457.6 253.5h1M442.1 251.2h1M448.6 258.2h1M451.0 252.6h1M446.9 261.9h1M443.7 270.1h1M446.0 266.4h1M445.6 264.8h1M445.9 264.4h1M447.1 260.3h1M448.9 263.0h1M444.1 258.3h1M448.9 271.2h1M442.9 261.7h1M448.9 269.6h1M449.8 257.6h1M447.5 268.9h1M448.2 262.8h1M443.4 264.9h1M447.2 264.2h1M452.5 270.4h1M444.7 265.2h1M446.3 264.5h1M453.0 269.0h1M447.5 260.4h1M446.8 266.0h1M445.7 270.0h1M447.5 257.6h1M454.4 248.3h1M446.5 263.3h1M450.8 270.0h1M452.4 272.4h1M448.5 264.6h1M450.9 263.9h1M443.1 261.5h1M449.7 267.3h1M443.6 270.5h1M448.5 255.9h1M449.0 269.4h1M449.2 262.3h1M444.7 270.1h1M448.2 264.0h1M446.0 258.4h1M441.0 262.1h1M451.2 268.1h1M445.1 272.3h1M446.6 258.5h1M450.7 271.5h1M446.1 257.4h1M447.2 250.8h1M447.6 272.3h1M448.3 260.0h1M449.8 261.3h1M451.7 262.1h1M454.4 262.1h1M448.1 258.9h1M443.0 265.9h1M448.6 258.7h1M449.3 261.8h1M445.5 263.6h1M448.7 267.9h1M451.6 266.1h1M444.9 260.3h1M448.7 257.5h1M446.8 261.9h1M447.1 265.0h1M451.0 272.9h1M450.4 269.5h1M443.8 269.6h1M451.8 256.7h1M456.0 260.9h1M447.6 259.7h1M445.4 269.8h1M448.3 262.0h1M451.3 258.9h1M444.5 261.0h1M444.8 267.7h1M446.6 258.3h1M445.8 253.2h1M448.0 264.5h1M449.5 262.7h1M448.8 258.9h1M447.5 264.8h1M443.3 267.2h1M447.9 264.3h1M445.8 274.8h1M447.4 259.8h1M444.5 267.2h1M446.7 259.7h1M444.9 269.0h1M447.7 269.7h1M447.3 257.6h1M450.4 265.7h1M445.2 262.3h1M444.1 268.5h1M446.0 266.6h1M448.3 262.6h1M448.7 262.7h1M443.4 261.7h1M443.4 268.1h1M449.6 260.8h1M449.5 265.3h1M450.7 259.0h1M447.5 258.6h1M445.1 271.4h1M449.1 268.2h1M444.7 253.0h1M441.5 266.0h1M451.2 268.9h1M444.9 271.3h1M446.8 267.3h1M446.7 272.6h1M445.6 252.4h1M446.3 265.0h1M448.3 260.1h1M446.6 257.9h1M446.6 264.5h1M448.2 272.9h1M448.9 257.8h1M447.6 264.0h1M444.0 267.9h1M453.9 267.6h1M450.0 269.8h1M447.0 269.2h1M444.7 265.0h1M449.8 271.0h1M446.4 262.4h1M449.0 263.6h1M447.9 268.3h1M444.8 268.7h1M448.7 262.6h1M443.2 260.6h1M447.2 269.1h1M440.7 267.8h1M448.1 257.9h1M450.3 266.1h1M448.9 258.7h1M443.6 268.9h1M452.2 266.0h1M446.7 261.6h1M441.6 269.3h1M447.1 270.6h1M445.0 269.6h1M445.0 267.1h1M452.0 260.2h1M450.5 264.0h1M444.2 265.1h1M449.6 260.2h1M446.5 261.0h1M444.8 262.9h1M450.2 261.3h1M451.6 262.0h1M445.1 269.7h1M452.1 260.5h1M449.4 257.8h1M446.0 262.0h1M449.8 257.3h1M445.7 260.3h1M447.7 257.4h1M442.9 279.1h1M448.1 255.9h1M450.2 257.0h1M441.1 272.9h1M454.1 272.6h1M443.6 281.1h1M457.6 281.9h1M451.4 270.4h1M453.0 278.9h1M448.5 286.9h1M444.8 285.0h1M452.2 274.0h1M449.0 278.7h1M451.1 271.7h1M447.5 278.6h1M448.6 278.1h1M449.6 276.8h1M446.3 284.6h1M445.6 276.0h1M444.6 270.6h1M450.5 277.7h1M447.9 280.9h1M447.7 282.4h1M456.5 280.2h1M451.6 267.3h1M454.4 279.3h1M452.3 270.6h1M444.7 273.8h1M450.9 270.8h1M445.4 284.1h1M445.6 278.7h1M444.5 267.1h1M448.1 277.2h1M442.2 284.2h1M452.1 283.7h1M446.2 270.7h1M448.1 279.1h1M447.7 274.2h1M444.1 273.3h1M448.1 274.9h1M455.9 276.2h1M450.5 275.0h1M447.7 271.8h1M446.4 268.4h1M443.8 280.8h1M447.9 274.4h1M451.7 274.4h1M450.4 275.6h1M452.8 284.1h1M448.8 285.0h1M448.0 268.1h1M449.4 279.5h1M446.9 276.7h1M447.3 270.0h1M456.1 273.1h1M443.8 267.9h1M444.8 277.7h1M455.0 281.8h1M445.3 270.1h1M443.6 277.5h1M452.3 274.9h1M449.2 264.2h1M453.3 277.4h1M451.4 284.3h1M444.1 278.4h1M449.3 273.2h1M451.6 277.2h1M447.8 284.6h1M445.2 278.9h1M453.3 264.2h1M450.9 276.3h1M453.3 279.1h1M448.2 269.8h1M461.4 273.3h1M447.1 273.4h1M447.2 279.4h1M442.6 284.7h1M447.3 281.8h1M447.2 275.5h1M445.5 280.0h1M450.3 271.7h1M447.1 284.8h1M452.3 277.3h1M442.2 275.7h1M445.3 285.9h1M441.0 283.8h1M441.7 274.3h1M442.3 273.5h1M446.5 280.3h1M445.9 282.4h1M456.2 279.0h1M443.4 276.8h1M448.0 275.7h1M453.5 285.3h1M457.3 281.3h1M451.4 272.8h1M445.8 283.8h1M449.1 270.8h1M445.9 258.4h1M448.5 270.2h1M448.2 270.4h1M444.4 274.7h1M460.7 270.4h1M443.3 274.6h1M483.8 267.4h1M480.4 261.9h1M475.1 259.7h1M472.3 259.5h1M460.5 258.6h1M491.8 265.4h1M467.0 262.9h1M469.7 269.5h1M473.7 260.4h1M480.2 265.0h1M467.6 259.7h1M475.2 255.5h1M465.5 268.4h1M481.9 268.9h1M469.8 260.6h1M471.4 261.1h1M485.8 262.4h1M486.5 260.0h1M477.4 271.4h1M467.0 260.3h1M468.4 255.6h1M471.2 260.3h1M494.3 261.1h1M454.1 268.1h1M482.7 263.3h1M476.6 267.0h1M468.7 263.7h1M475.2 271.6h1M487.0 264.3h1M461.5 267.8h1M473.4 269.2h1M474.4 264.4h1M480.0 259.9h1M467.8 274.7h1M465.9 268.0h1M480.2 267.5h1M486.6 256.9h1M482.7 253.4h1M474.4 265.1h1M483.4 268.8h1M465.3 262.1h1M472.4 260.1h1M466.3 260.2h1M484.5 270.1h1M480.8 271.7h1M474.7 258.2h1M467.8 264.5h1M483.4 269.4h1M465.6 268.2h1M469.0 266.4h1M482.4 270.7h1M469.0 264.7h1M477.8 261.4h1M474.7 266.4h1M458.7 260.3h1M495.2 265.7h1M468.7 254.5h1M465.0 266.0h1M480.2 265.7h1M479.4 260.5h1M488.6 258.0h1M478.6 262.2h1M458.1 267.9h1M471.3 267.0h1M485.6 264.3h1M467.8 262.4h1M473.2 270.6h1M481.8 271.3h1M480.9 259.7h1M482.4 268.2h1M472.7 265.8h1M470.9 257.3h1M473.0 267.2h1M470.5 252.5h1M466.5 268.8h1M475.9 269.0h1M466.9 261.4h1M464.6 259.7h1M478.6 264.2h1M469.4 265.0h1M461.8 261.6h1M460.0 256.1h1M461.3 258.1h1M488.4 270.2h1M485.5 260.6h1M479.6 257.9h1M468.9 264.7h1M459.1 264.5h1M479.5 253.3h1M451.3 262.1h1M472.7 264.2h1M463.4 266.3h1M475.0 259.9h1M489.0 264.8h1M480.7 272.6h1M469.3 262.4h1M457.8 262.4h1M477.9 275.8h1M479.1 264.5h1M462.2 259.3h1M456.8 256.7h1M474.9 265.0h1M465.4 262.4h1M466.4 266.5h1M479.8 260.7h1M469.6 257.5h1M469.5 274.3h1M473.7 267.7h1M479.2 270.8h1M470.8 259.0h1M483.4 268.0h1M467.7 268.9h1M473.7 263.3h1M490.8 266.1h1M476.7 261.9h1M475.7 268.7h1M478.1 259.8h1M478.0 262.9h1M476.7 262.5h1M453.6 255.5h1M470.3 252.6h1M459.9 273.5h1M480.3 261.2h1M476.9 252.4h1M476.1 268.4h1M475.6 257.0h1M482.8 260.9h1M468.6 264.5h1M471.0 273.6h1M472.6 274.1h1M478.0 257.4h1M473.8 263.8h1M487.2 269.8h1M497.5 260.2h1M469.8 275.0h1M465.5 265.3h1M488.8 258.5h1M470.6 259.8h1M478.7 265.5h1M473.5 266.8h1M466.5 261.6h1M478.2 273.5h1M473.5 263.8h1M486.0 263.9h1M485.9 264.7h1M484.6 264.4h1M465.3 259.3h1M477.8 272.8h1M491.2 261.9h1M497.1 258.0h1M466.0 268.1h1M459.7 268.0h1M477.4 266.6h1M462.6 265.4h1M482.6 263.2h1M483.4 263.6h1M477.0 261.9h1M461.2 262.7h1M478.5 259.7h1M455.7 255.8h1M486.1 262.4h1M466.7 269.7h1M472.2 256.0h1M469.8 259.1h1M472.1 259.0h1M474.5 265.8h1M468.5 262.5h1M472.4 267.6h1M467.2 267.2h1M485.5 262.5h1M464.8 262.0h1M457.3 260.8h1M462.7 262.7h1M470.4 266.1h1M474.9 265.6h1M473.4 264.9h1M463.3 266.8h1M486.0 269.0h1M461.3 265.6h1M458.7 267.3h1M471.9 261.2h1M466.9 262.3h1M473.8 258.7h1M474.4 264.8h1M478.8 263.3h1M473.8 275.1h1M483.3 265.1h1M460.9 266.6h1M479.2 250.2h1M472.3 265.4h1M474.2 264.0h1M472.4 270.4h1M477.4 262.1h1M471.7 273.9h1M465.8 260.9h1M476.9 264.2h1M476.7 270.3h1M484.5 265.6h1M474.3 263.2h1M471.7 268.5h1M462.0 258.3h1M469.6 258.7h1M467.0 269.5h1M452.8 266.4h1M461.6 262.3h1M468.5 258.5h1M460.0 263.9h1M446.2 252.9h1M470.2 269.0h1M491.2 262.0h1M466.4 262.1h1M478.3 268.2h1M465.0 265.9h1M473.6 269.2h1M470.1 262.5h1M465.9 256.9h1M476.4 267.1h1M484.4 264.8h1M469.6 258.9h1M463.0 259.9h1M477.0 264.0h1M452.4 263.0h1M471.2 258.3h1M473.7 266.2h1M464.2 256.7h1M470.9 264.8h1M471.5 271.2h1M475.3 258.5h1M481.2 260.3h1M480.4 264.0h1M485.5 258.5h1M480.7 265.6h1M465.4 267.0h1M495.2 265.3h1M466.7 262.7h1M486.1 264.8h1M487.8 260.2h1M486.2 255.6h1M472.3 262.0h1M469.3 269.6h1M468.3 265.3h1M491.3 267.6h1M470.0 259.8h1M455.1 265.4h1M482.3 269.0h1M476.2 274.3h1M481.2 251.9h1M465.6 267.5h1M470.2 267.7h1M498.1 259.7h1M494.7 263.1h1M460.1 264.0h1M482.4 260.6h1M488.8 259.1h1M472.1 268.1h1M471.9 260.7h1M473.8 266.8h1M490.3 270.3h1M491.6 263.4h1M458.3 263.3h1M470.0 258.5h1M469.1 263.2h1M474.4 268.1h1M465.3 269.2h1M474.4 267.2h1M485.7 257.3h1M489.0 259.9h1M477.7 268.9h1M482.7 255.7h1M475.5 269.2h1M472.8 263.1h1M474.6 271.7h1M468.8 258.8h1M463.5 260.9h1M471.7 265.2h1M473.2 254.9h1M459.1 266.9h1M480.8 256.7h1M482.8 251.3h1M496.0 266.5h1M458.3 266.1h1M473.6 261.2h1M470.5 262.4h1M473.0 259.0h1M468.6 266.3h1M479.0 256.8h1M469.3 271.3h1M480.8 271.8h1M461.2 258.3h1M453.4 253.8h1M470.4 258.2h1M463.6 260.0h1M472.2 267.7h1M479.3 254.7h1M488.1 261.8h1M464.5 263.3h1M470.2 256.5h1M488.8 260.6h1M468.3 266.2h1M489.9 265.9h1M465.4 265.7h1M484.5 265.4h1M480.1 261.1h1M473.3 255.1h1M467.2 257.8h1M474.1 271.0h1M452.6 256.9h1M465.2 263.1h1M485.0 259.6h1M466.5 269.6h1M477.5 266.1h1M481.9 259.8h1M476.1 260.2h1M467.1 264.2h1M478.1 257.1h1M466.7 266.6h1M475.6 266.8h1M471.0 259.5h1M481.4 266.5h1M446.9 267.8h1M466.7 266.9h1M488.9 262.1h1M464.7 264.8h1M474.8 266.3h1M460.6 264.7h1M482.5 267.0h1M480.0 269.5h1M466.1 269.6h1M476.0 258.5h1M471.2 264.9h1M477.1 270.3h1M475.8 260.9h1M494.8 261.8h1M466.1 268.2h1M470.0 259.6h1M463.9 269.5h1M463.9 264.0h1M469.6 262.5h1M466.2 264.3h1M479.8 268.8h1M470.6 257.7h1M459.9 263.5h1M450.3 270.2h1M474.3 264.1h1M460.7 260.3h1M466.9 266.9h1M470.1 266.6h1M478.9 253.9h1M471.8 269.8h1M469.1 264.2h1M472.8 257.4h1M494.8 262.9h1M480.1 261.3h1M487.4 269.3h1M485.3 268.3h1M480.7 270.5h1M477.8 264.2h1M481.7 259.1h1M449.8 267.6h1M475.5 260.0h1M471.4 258.8h1M466.0 264.5h1M475.2 267.7h1M473.1 266.7h1M480.5 260.0h1M457.9 260.1h1M471.6 260.9h1M495.1 260.1h1M478.5 259.7h1M480.6 257.2h1M483.1 264.4h1M470.2 257.6h1M489.9 260.7h1M487.7 251.5h1M462.6 272.6h1M491.0 263.6h1M483.5 266.6h1M470.6 264.2h1M463.1 256.8h1M475.2 267.2h1M475.5 257.4h1M482.1 264.0h1M481.2 262.1h1M471.5 268.8h1M487.1 257.5h1M463.4 268.4h1M477.4 263.8h1M464.7 268.6h1M475.8 264.6h1M477.7 260.9h1M477.8 264.2h1M480.9 265.5h1M461.8 260.0h1M471.4 269.4h1M467.8 269.2h1M484.3 267.9h1M495.5 263.5h1M477.1 269.7h1M477.9 268.5h1M472.8 270.6h1M477.4 254.0h1M484.3 262.6h1M465.6 262.1h1M471.3 269.3h1M477.2 263.2h1M473.9 259.1h1M467.9 261.2h1M471.8 257.8h1M470.2 268.6h1M478.3 263.6h1M477.3 262.4h1M462.7 268.0h1M495.4 266.1h1M480.5 275.8h1M462.5 266.2h1M470.7 262.2h1M458.2 263.2h1M477.8 255.6h1M471.9 261.1h1M464.5 266.7h1M489.7 265.7h1M483.8 267.4h1M473.4 266.5h1M486.6 261.5h1M472.6 256.7h1M456.3 259.5h1M482.5 265.4h1M476.5 270.1h1M457.2 270.4h1M474.8 267.4h1M487.2 259.5h1M465.7 265.6h1M473.5 260.7h1M472.8 260.0h1M475.3 261.7h1M490.2 258.4h1M479.5 264.0h1M489.1 258.8h1M469.6 272.2h1M467.7 261.7h1M470.3 258.7h1M485.6 271.1h1M472.6 259.8h1M461.1 266.9h1M468.9 266.3h1M451.0 261.5h1M480.0 265.6h1M446.7 265.0h1M475.2 263.5h1M470.7 261.4h1M475.4 266.1h1M443.8 263.5h1M482.9 262.5h1M485.7 258.9h1M492.2 268.3h1M470.1 277.2h1M487.7 271.4h1M462.6 263.0h1M478.5 268.8h1M474.7 257.1h1M485.7 262.7h1M478.2 262.0h1M472.9 256.8h1M480.4 260.5h1M457.1 265.6h1M473.7 268.3h1M481.8 257.6h1M472.3 263.6h1M474.9 258.3h1M474.7 268.4h1M485.8 270.8h1M481.2 251.1h1M471.4 260.9h1M446.3 271.2h1M482.7 263.5h1M477.4 266.0h1M471.9 270.4h1M491.4 267.6h1M468.7 264.8h1M483.3 267.1h1M467.5 268.3h1M480.9 266.4h1M470.0 263.4h1M455.8 263.4h1M469.8 262.1h1M471.3 262.0h1M474.8 264.0h1M468.2 262.9h1M473.1 266.0h1M478.2 261.8h1M466.1 255.4h1M462.1 265.6h1M465.2 271.5h1M472.5 261.6h1M472.5 260.9h1M468.0 263.9h1M460.2 264.2h1M473.1 259.1h1M483.8 265.3h1M484.3 260.3h1M462.2 257.7h1M459.0 254.2h1M488.9 261.2h1M475.8 260.9h1M472.6 271.3h1M457.5 258.7h1M475.3 259.1h1M480.6 269.9h1M482.5 267.3h1M472.5 268.5h1M466.4 257.7h1M471.5 262.3h1M485.7 258.7h1M484.9 259.7h1M462.0 255.2h1M473.7 256.4h1M476.0 263.8h1M470.2 254.0h1M469.1 265.7h1M457.0 267.0h1M474.2 260.9h1M475.9 266.8h1M473.8 259.7h1M481.5 260.2h1M477.4 268.4h1M486.5 271.4h1M483.8 264.3h1M472.1 264.5h1M479.0 278.3h1M480.3 259.5h1M488.5 255.7h1M483.6 257.2h1M463.6 261.1h1M471.3 256.9h1M479.9 263.0h1M486.8 258.5h1M456.7 266.9h1M471.9 268.4h1M451.7 257.4h1M474.9 273.2h1M462.3 254.1h1M469.7 270.5h1M489.1 256.8h1M468.2 254.4h1M466.0 258.8h1M478.1 269.2h1M496.7 261.8h1M481.8 264.6h1M475.2 273.1h1M480.7 271.3h1M476.9 267.8h1M478.8 263.1h1M467.4 261.5h1M474.1 261.6h1M470.8 260.0h1M482.2 262.3h1M472.9 262.4h1M486.5 260.9h1M487.5 259.3h1M488.6 266.5h1M469.3 265.8h1M484.8 258.8h1M471.9 265.1h1M472.0 262.1h1M474.2 265.1h1M481.4 270.8h1M470.9 278.0h1M470.9 272.3h1M472.8 256.3h1M469.9 261.8h1M484.2 253.5h1M468.0 262.9h1M480.3 265.5h1M482.2 262.7h1M471.8 269.5h1M490.4 265.4h1M475.5 259.3h1M494.0 265.5h1M479.9 255.6h1M479.8 275.5h1M472.5 262.5h1M488.6 262.6h1M482.0 273.1h1M462.9 259.4h1M480.5 264.1h1M474.4 262.7h1M475.2 265.3h1M469.5 262.1h1M476.2 258.1h1M478.2 252.7h1M480.1 262.9h1M462.9 270.2h1M462.9 273.7h1M467.1 269.5h1M473.4 271.5h1M471.9 268.6h1M471.0 254.2h1M477.7 265.9h1M477.8 271.8h1M467.1 256.4h1M476.5 260.1h1M473.1 263.5h1M466.3 268.9h1M472.9 272.4h1M476.4 268.8h1M471.3 260.3h1M469.0 259.2h1M478.3 264.2h1M463.8 255.9h1M465.9 254.5h1M465.7 256.0h1M480.7 257.8h1M468.5 262.9h1M474.3 265.6h1M481.3 266.7h1M470.8 269.7h1M477.6 260.0h1M488.2 257.7h1M478.5 269.7h1M475.1 265.2h1M475.2 266.8h1M476.2 263.6h1M480.7 254.1h1M476.4 262.0h1M492.5 265.0h1M467.8 266.8h1M470.4 257.6h1M471.4 266.0h1M485.3 268.7h1M476.2 262.7h1M475.9 269.5h1M472.9 269.3h1M466.6 263.5h1M481.3 267.0h1M475.9 261.0h1M457.2 261.3h1M466.1 261.5h1M488.9 259.7h1M482.0 263.4h1M463.7 264.1h1M481.1 257.6h1M463.1 261.6h1M480.9 260.5h1M478.0 265.8h1M474.2 265.7h1M486.0 262.6h1M477.1 258.2h1M467.3 263.0h1M481.7 260.2h1M461.0 268.1h1M496.3 250.8h1M464.1 264.1h1M478.6 258.8h1M477.2 268.9h1M471.5 267.1h1M475.2 258.9h1M468.3 260.5h1M486.5 269.2h1M476.3 255.8h1M469.5 261.5h1M456.0 263.4h1M476.7 257.0h1M470.1 261.3h1M491.3 266.8h1M481.2 263.9h1M462.1 268.1h1M467.7 254.0h1M480.8 261.8h1M474.0 266.1h1M471.9 265.5h1M486.1 261.9h1M470.7 263.6h1M480.1 261.5h1M474.8 260.1h1M473.3 266.2h1M466.4 262.6h1M460.4 260.1h1M474.8 266.1h1M464.4 263.0h1M465.4 265.1h1M476.5 265.7h1M472.1 256.5h1M468.8 256.9h1M467.7 263.2h1M484.1 260.3h1M466.9 264.5h1M454.9 273.3h1M459.7 268.5h1M483.1 268.3h1M473.1 267.1h1M470.8 268.2h1M468.0 259.5h1M477.5 261.3h1M480.3 259.3h1M476.5 258.7h1M473.1 274.1h1M464.1 257.4h1M459.2 262.4h1M489.0 261.3h1M482.6 262.6h1M468.2 273.4h1M484.0 254.4h1M465.0 265.5h1M480.0 262.4h1M476.9 266.2h1M470.8 268.4h1M466.2 267.2h1M482.5 264.5h1M470.8 263.4h1M453.5 264.8h1M460.9 253.6h1M481.1 259.0h1M477.3 263.7h1M457.8 259.1h1M471.5 265.8h1M474.7 257.3h1M469.1 264.0h1M462.3 261.3h1M469.0 253.0h1M489.9 267.8h1M469.7 268.2h1M464.4 271.0h1M470.6 264.2h1M468.7 264.0h1M477.1 263.7h1M466.4 267.2h1M479.2 263.5h1M483.7 259.9h1M485.8 262.7h1M488.0 261.3h1M471.7 264.5h1M484.1 270.6h1M469.8 259.9h1M481.0 269.6h1M480.5 261.9h1M485.7 263.4h1M475.6 266.6h1M468.8 252.4h1M476.0 267.0h1M478.0 266.2h1M475.5 268.6h1M475.1 270.9h1M474.5 267.4h1M469.0 265.0h1M477.9 264.2h1M488.2 263.7h1M484.3 265.2h1M484.1 259.1h1M470.7 268.3h1M466.5 265.4h1M479.2 264.5h1M478.0 266.2h1M471.8 265.5h1M469.3 261.3h1M459.4 263.0h1M458.4 263.6h1M475.9 258.1h1M474.7 264.9h1M470.8 259.0h1M473.0 265.5h1M482.5 273.0h1M455.9 265.2h1M478.0 260.4h1M477.0 273.8h1M475.1 270.2h1M483.8 261.3h1M452.7 269.2h1M488.2 254.8h1M472.2 260.1h1M475.9 263.8h1M484.5 260.6h1M491.7 255.1h1M476.0 276.7h1M473.1 266.6h1M469.7 279.8h1M482.2 261.8h1M456.4 264.6h1M480.8 253.4h1M469.5 266.3h1M451.9 262.6h1M459.4 256.9h1M477.7 269.1h1M484.7 260.3h1M478.7 254.8h1M460.4 266.2h1M470.3 258.5h1M456.8 262.3h1M494.5 253.5h1M464.4 269.1h1M456.4 260.4h1M474.6 269.1h1M473.3 272.5h1M473.7 263.0h1M478.1 265.2h1M460.2 258.8h1M471.8 265.2h1M462.7 260.0h1M467.2 265.2h1M470.0 266.5h1M477.6 259.0h1M485.0 269.0h1M487.0 282.2h1M481.5 265.6h1M489.1 275.1h1M486.4 280.0h1M488.4 283.0h1M484.2 262.8h1M484.0 275.0h1M484.4 279.5h1M485.2 285.4h1M483.3 277.0h1M481.7 270.6h1M484.6 281.9h1M486.6 275.9h1M479.1 263.6h1M485.4 275.5h1M495.4 279.4h1M488.7 283.2h1M482.0 269.1h1M484.6 286.6h1M491.5 273.2h1M480.2 283.0h1M492.0 269.9h1M494.6 272.0h1M490.3 275.7h1M484.8 273.1h1M490.0 281.0h1M490.6 275.2h1M495.2 275.8h1M480.7 286.7h1M487.2 277.4h1M490.8 279.3h1M476.9 281.2h1M481.5 277.5h1M485.6 278.7h1M474.2 281.5h1M498.4 274.3h1M491.1 281.0h1M488.0 273.8h1M489.7 278.8h1M493.9 282.4h1M482.9 258.1h1M494.2 280.2h1M487.4 273.1h1M499.3 285.7h1M487.0 274.6h1M489.4 285.8h1M489.2 283.1h1M487.8 279.3h1M480.0 277.8h1M486.8 276.5h1M485.3 279.0h1M483.5 275.7h1M481.9 269.2h1M483.8 274.3h1M481.0 261.2h1M494.9 283.6h1M484.6 280.6h1M480.8 266.5h1M488.2 280.7h1M483.0 277.0h1M470.7 276.2h1M491.9 278.1h1M487.4 280.7h1M475.8 268.7h1M480.0 278.6h1M483.3 264.8h1M491.1 275.8h1M478.0 268.7h1M492.0 286.1h1M488.5 279.3h1M490.1 281.2h1M479.9 281.8h1M491.6 274.4h1M481.8 273.8h1M483.5 280.4h1M490.5 277.2h1M484.9 265.5h1M484.3 270.5h1M483.6 279.2h1M482.0 273.5h1M480.6 275.3h1M485.0 283.5h1M476.4 282.9h1M489.8 273.6h1M483.0 278.3h1M489.2 276.0h1M485.7 277.1h1M480.9 278.8h1M489.5 277.3h1M480.6 277.0h1M485.9 279.0h1M484.3 282.4h1M492.1 282.3h1M487.7 284.9h1M486.3 275.9h1M479.1 277.1h1M492.8 270.9h1M490.5 268.8h1M486.7 269.5h1M488.0 276.1h1M490.6 273.7h1M477.5 273.9h1M489.5 283.6h1M487.9 277.2h1M490.0 275.8h1M484.1 278.5h1M492.1 273.8h1M489.0 272.9h1M482.7 278.1h1M479.6 271.6h1M480.3 273.2h1M489.6 277.5h1M479.6 261.8h1M488.7 273.0h1M491.9 274.5h1M479.7 272.9h1M478.6 268.0h1M490.1 273.6h1M490.0 273.4h1M485.3 273.5h1M483.6 272.8h1M494.2 276.7h1M476.4 287.8h1M492.9 284.2h1M485.9 276.0h1M484.0 277.8h1M488.9 277.0h1M482.2 270.9h1M495.1 287.7h1M480.0 273.0h1M486.2 280.7h1M485.9 278.5h1M488.3 284.3h1M479.7 284.0h1M488.7 280.4h1M478.7 275.6h1M485.1 281.1h1M490.0 281.4h1M479.8 285.0h1M486.8 282.9h1M486.4 272.6h1M500.0 281.2h1M490.4 274.1h1M485.3 284.1h1M492.7 270.2h1M478.5 284.4h1M489.6 275.4h1M484.9 273.5h1M495.7 276.0h1M479.3 282.7h1M486.0 279.3h1M484.5 276.8h1M476.7 280.4h1M482.9 274.6h1M488.1 285.1h1M475.3 276.2h1M489.3 283.4h1M481.7 279.0h1M488.5 282.9h1M483.2 275.9h1M483.8 284.2h1M492.1 274.3h1M485.7 278.4h1M481.8 276.3h1M490.9 281.9h1M482.9 273.0h1M485.8 267.9h1M488.0 277.8h1M479.5 275.6h1M483.0 275.4h1M481.9 285.6h1M481.4 281.8h1M487.5 286.1h1M486.1 277.1h1M486.8 265.3h1M498.9 275.7h1M484.8 270.0h1M485.7 287.1h1M482.5 279.8h1M491.8 282.9h1M484.3 266.2h1M488.5 280.6h1M484.7 274.4h1M495.5 267.2h1M483.7 273.3h1M478.3 272.8h1M482.3 284.8h1M477.4 268.5h1M487.8 267.5h1M476.0 273.2h1M480.1 271.0h1M485.6 279.9h1M483.1 275.4h1M490.1 276.1h1M490.2 273.4h1M488.9 285.0h1M484.7 275.0h1M485.6 279.9h1M480.1 277.3h1M483.4 285.9h1M477.4 281.1h1M484.8 272.5h1M487.1 275.6h1M486.6 278.6h1M492.6 274.6h1M495.1 260.4h1M495.9 284.6h1M494.5 278.3h1M487.9 270.8h1M493.3 269.9h1M482.3 277.1h1M487.6 279.2h1M480.4 275.0h1M488.9 284.4h1M490.4 279.6h1M485.1 273.7h1M483.7 276.5h1M489.1 274.0h1M497.1 270.9h1M490.6 275.8h1M485.7 274.7h1M494.4 275.3h1M489.3 277.8h1M490.3 280.7h1M495.0 272.6h1M482.1 287.5h1M493.0 277.5h1M484.9 278.7h1M493.2 272.4h1M493.9 276.7h1M484.5 274.7h1M475.5 279.1h1M479.6 273.7h1M481.8 278.5h1M490.1 277.3h1M487.4 279.6h1M494.7 280.6h1M494.5 276.7h1M488.2 273.1h1M489.5 271.8h1M488.8 273.2h1M484.6 284.6h1M487.2 282.0h1M485.2 265.7h1M494.0 276.0h1M483.0 282.9h1M480.5 272.5h1M492.3 272.8h1M492.3 275.2h1M485.3 277.5h1M483.8 283.7h1M492.1 277.5h1M489.6 280.4h1M495.1 267.4h1M491.7 282.7h1M484.8 277.2h1M484.6 284.7h1M480.5 280.8h1M493.1 280.6h1M483.9 274.3h1M475.4 270.8h1M492.1 271.3h1M477.9 275.6h1M478.7 279.9h1M481.9 282.9h1M485.8 268.4h1M482.4 273.1h1M482.0 284.7h1M481.2 279.3h1M483.4 280.7h1M479.0 267.5h1M489.1 285.9h1M479.2 275.2h1M483.8 271.4h1M491.4 277.4h1M479.2 275.8h1M493.3 272.8h1M483.7 272.0h1M487.3 273.7h1M491.0 272.0h1M478.9 279.9h1M470.0 271.3h1M487.9 278.6h1M483.4 274.4h1M482.2 276.0h1M484.0 280.5h1M486.5 280.5h1M494.9 275.4h1M484.9 279.4h1M497.3 274.9h1M495.2 284.4h1M472.2 271.0h1M481.3 279.5h1M493.3 277.4h1M481.8 287.2h1M483.8 262.3h1M482.1 274.2h1M486.2 281.7h1M490.0 280.3h1M492.6 277.3h1M483.5 276.8h1M485.3 272.8h1M486.4 273.0h1M489.8 273.1h1M489.0 279.1h1M487.3 280.3h1M482.8 281.6h1M486.5 274.5h1M495.5 283.9h1M485.0 280.6h1M490.0 286.8h1M491.7 276.1h1M485.1 270.0h1M487.8 282.4h1M484.4 281.2h1M487.1 274.3h1M480.1 283.9h1M499.6 280.5h1M480.8 270.8h1M487.7 281.1h1M494.3 262.3h1M496.0 278.1h1M487.1 279.5h1M484.6 275.3h1M491.9 266.5h1M485.8 280.5h1M477.9 276.1h1M494.4 279.4h1M490.1 281.4h1M487.6 279.3h1M482.2 275.8h1M496.0 269.5h1M485.6 269.3h1M483.7 272.3h1M480.1 278.6h1M481.5 280.4h1M495.8 261.3h1M485.6 264.2h1M485.8 279.4h1M487.5 284.5h1M487.3 266.5h1M494.3 271.3h1M486.0 279.1h1M481.9 277.6h1M494.2 266.7h1M477.8 274.3h1M485.6 269.2h1M474.5 282.7h1M488.5 268.9h1M489.4 276.7h1M487.3 268.8h1M485.3 280.1h1M477.3 270.6h1M489.9 276.6h1M480.8 274.6h1M485.2 279.8h1M493.4 263.5h1M480.4 277.1h1M491.6 279.6h1M472.1 266.9h1M493.5 280.7h1M499.8 282.0h1M488.9 286.5h1M484.2 273.7h1M481.2 278.6h1M488.8 282.9h1M494.0 281.0h1M492.9 275.5h1M481.5 281.6h1M491.8 285.4h1M485.6 274.2h1M484.6 279.3h1M486.2 275.9h1M487.8 275.3h1M488.2 273.4h1M478.4 275.1h1M496.3 272.0h1M491.2 285.4h1M483.7 278.7h1M474.6 280.6h1M494.5 278.2h1M476.1 273.5h1M482.6 277.8h1M488.0 274.5h1M484.9 272.0h1M489.5 278.3h1M488.3 273.9h1M489.1 275.2h1M488.0 276.1h1M483.0 270.2h1M476.8 268.6h1M477.9 272.0h1M485.4 269.8h1M471.9 269.8h1M492.9 269.8h1M485.9 273.1h1M490.5 268.0h1M488.1 278.4h1M489.4 279.7h1M487.3 265.9h1M484.8 271.1h1M489.3 275.6h1M487.3 283.9h1M485.9 287.6h1M490.8 267.8h1M483.4 284.7h1M483.9 284.5h1M483.6 276.3h1M491.9 267.2h1M486.9 274.2h1M487.4 287.8h1M489.1 268.6h1M491.5 274.2h1M487.4 284.3h1M484.9 283.0h1M487.4 271.4h1M484.9 268.5h1M492.7 278.1h1M491.5 270.0h1M490.9 269.5h1M488.0 276.9h1M483.4 279.0h1M486.7 271.6h1M482.6 268.8h1M493.6 278.0h1M484.6 281.4h1M482.0 269.7h1M488.4 287.0h1M488.1 278.0h1M495.6 267.3h1M502.4 270.1h1M486.1 268.6h1M480.2 275.5h1M499.2 271.1h1M483.3 278.7h1M481.2 275.4h1M490.8 263.3h1M484.9 275.2h1M483.8 276.3h1M477.1 274.2h1M483.8 270.5h1M490.7 271.6h1M493.9 280.1h1M482.2 280.8h1M483.5 280.6h1M491.3 284.3h1M481.0 276.2h1M486.5 269.3h1M488.7 281.4h1M479.3 273.5h1M480.7 269.0h1M480.9 285.7h1M483.0 274.5h1M491.6 283.5h1M493.8 263.9h1M490.4 265.9h1M483.2 274.4h1M485.6 284.4h1M485.6 276.6h1M489.2 279.8h1M489.1 266.1h1M489.1 279.0h1M489.6 276.7h1M488.6 268.8h1M492.4 269.3h1M493.8 283.4h1M486.2 275.1h1M490.5 275.1h1M480.3 278.8h1M480.1 274.1h1M495.8 282.1h1M484.2 276.6h1M483.1 276.9h1M479.0 281.3h1M486.6 273.1h1M484.2 274.0h1M483.5 273.9h1M493.3 281.3h1M488.7 279.3h1M480.6 261.8h1M494.4 281.5h1M487.6 278.8h1M487.5 277.1h1M485.1 262.9h1M489.5 277.3h1M491.6 278.9h1M485.0 280.8h1M487.5 274.2h1M484.5 274.3h1M484.9 274.2h1M485.9 284.1h1M476.2 256.6h1M484.0 276.0h1M482.6 268.4h1M482.1 273.8h1M487.3 274.9h1M480.3 274.7h1M494.4 271.4h1M486.8 283.4h1M482.3 273.4h1M501.6 284.8h1M483.8 278.0h1M487.0 277.9h1M488.9 275.1h1M475.0 270.9h1M487.3 268.4h1M484.8 286.5h1M487.7 272.9h1M487.2 283.6h1M477.6 269.1h1M483.1 274.2h1M486.0 273.3h1M487.1 277.6h1M480.4 273.1h1M480.1 278.8h1M487.9 281.1h1M481.9 273.6h1M475.0 277.1h1M478.1 279.2h1M492.1 279.8h1M489.8 278.4h1M488.4 282.9h1M485.1 282.3h1M491.0 279.7h1M487.9 269.0h1M492.2 271.4h1M483.1 271.6h1M489.4 270.9h1M488.9 280.6h1M487.0 274.9h1M489.6 285.3h1M484.1 270.4h1M483.4 271.5h1M485.3 276.0h1M474.5 286.2h1M482.3 274.3h1M476.3 264.6h1M481.2 278.4h1M490.9 265.6h1M487.7 286.5h1M485.0 282.8h1M488.1 271.2h1M491.7 273.2h1M488.3 274.5h1M485.4 278.0h1M493.4 266.4h1M480.7 277.6h1M491.6 275.8h1M485.5 280.3h1M494.7 271.3h1M478.2 275.2h1M490.5 268.7h1M492.3 282.9h1M490.6 271.7h1M479.8 281.1h1M487.9 281.3h1M479.5 258.4h1M492.3 283.3h1M485.1 277.0h1M488.8 281.7h1M485.5 273.8h1M481.4 283.5h1M487.0 255.5h1M488.3 273.4h1M479.9 273.8h1M479.9 274.2h1M483.7 280.2h1M481.2 265.5h1M483.4 268.3h1M490.3 275.7h1M477.8 271.5h1M486.4 276.7h1M476.9 276.2h1M488.0 283.2h1M492.2 276.2h1M479.7 274.6h1M489.9 271.2h1M493.0 271.0h1M480.7 282.2h1M486.0 279.0h1M484.9 277.2h1M489.9 276.2h1M488.9 282.2h1M483.8 278.1h1M487.6 273.4h1M482.5 275.7h1M484.9 274.4h1M476.4 277.5h1M489.9 277.4h1M495.4 282.4h1M484.6 272.7h1M489.1 274.6h1M478.1 277.8h1M485.0 275.6h1M489.7 278.2h1M497.0 272.3h1M486.0 278.9h1M484.2 273.8h1M495.6 267.9h1M488.3 266.0h1M488.3 264.9h1M480.4 284.1h1M494.5 277.8h1M472.4 283.4h1M487.8 270.0h1M484.7 268.7h1M486.0 276.4h1M487.1 282.0h1M483.2 263.1h1M480.4 269.1h1M484.6 274.2h1M486.3 285.6h1M486.6 270.2h1M484.9 271.5h1M485.2 280.6h1M480.6 281.4h1M495.8 286.5h1M494.9 277.6h1M486.2 278.4h1M484.6 271.1h1M489.7 268.2h1M479.4 280.5h1M484.6 271.7h1M489.1 285.9h1M485.0 276.1h1M489.4 282.9h1M491.9 281.2h1M483.1 280.3h1M486.5 266.4h1M492.9 280.6h1M493.6 276.6h1M490.3 276.6h1M487.3 282.7h1M486.8 280.8h1M486.3 284.7h1M489.9 266.6h1M495.1 279.7h1M483.9 273.1h1M496.8 277.6h1M489.1 280.7h1M497.4 272.1h1M492.4 266.8h1M484.8 277.4h1M486.8 280.6h1M488.6 279.3h1M485.8 278.9h1M486.8 284.7h1M487.0 276.1h1M485.6 268.9h1M497.2 279.6h1M487.2 274.1h1M493.1 274.9h1M484.1 273.6h1M494.5 278.9h1M485.7 273.0h1M493.1 278.8h1M484.8 282.6h1M491.0 270.8h1M492.4 283.8h1M485.3 268.7h1M492.2 274.9h1M485.5 275.2h1M485.1 282.2h1M480.9 280.3h1M492.5 283.6h1M490.2 278.7h1M485.5 276.3h1M482.0 287.4h1M485.9 270.7h1M490.8 286.4h1M484.2 267.0h1M463.5 276.2h1M476.5 263.7h1M489.0 257.7h1M491.0 246.8h1M470.9 256.4h1M476.5 277.6h1M460.8 283.0h1M470.0 265.4h1M494.8 263.1h1M501.6 268.1h1M478.7 260.8h1M497.1 269.4h1M473.0 261.0h1M470.7 269.1h1M469.5 277.6h1M479.6 264.1h1M486.9 283.6h1M449.4 273.4h1M496.1 271.3h1M492.3 255.4h1M469.1 279.6h1M478.8 270.6h1M489.4 273.5h1M486.8 265.3h1M475.8 282.5h1M472.9 256.3h1M475.0 278.5h1M506.6 271.4h1M471.1 275.8h1M484.6 281.2h1M487.8 277.2h1M487.7 274.0h1M466.8 268.5h1M503.8 282.7h1M494.4 273.8h1M478.6 273.3h1M475.4 280.3h1M475.7 262.8h1M456.6 284.8h1M469.2 261.9h1M486.2 287.1h1M490.1 266.9h1M488.6 262.2h1M476.6 270.3h1M480.5 277.4h1M488.2 287.9h1M492.5 267.3h1M484.1 262.0h1M471.4 266.8h1M495.2 263.5h1M457.5 260.4h1M462.8 268.3h1M475.9 259.0h1M468.8 266.1h1M486.1 275.8h1M499.7 267.6h1M489.6 270.7h1M464.5 264.0h1M504.5 277.8h1M504.7 268.2h1M494.1 267.2h1M464.3 259.0h1M486.9 254.8h1M485.8 261.8h1M485.7 257.1h1M492.9 267.9h1M458.2 256.4h1M481.4 254.6h1M485.3 274.6h1M471.0 283.2h1M501.6 273.0h1M487.2 274.5h1M476.7 282.4h1M472.8 246.3h1M480.9 274.2h1M492.5 259.6h1M500.8 262.3h1M489.7 276.9h1M483.2 280.7h1M487.7 266.1h1M457.0 283.4h1M503.0 264.6h1M466.2 280.7h1M481.4 260.9h1M473.6 270.7h1M494.9 284.8h1M471.6 284.5h1M458.7 276.8h1M478.6 274.2h1M474.3 263.3h1M484.7 280.7h1M448.5 270.5h1M474.8 259.9h1M461.1 274.9h1M488.7 276.1h1M451.8 255.6h1" stroke="#1a1a1a" stroke-width="1" fill="none" opacity="0.85"/>
<rect x="439.60" y="223.70" width="73.40" height="65.20" fill="none" stroke="#111" stroke-width="1.2"/>
<line x1="457.00" y1="223.70" x2="457.00" y2="288.90" stroke="#111" stroke-width="1.1"/>
<line x1="439.60" y1="271.90" x2="513.00" y2="271.90" stroke="#111" stroke-width="1.1"/>
<text x="441.80" y="232.30" font-size="6.3" font-weight="bold" fill="#1a1a1a" stroke="#1a1a1a" stroke-width="0.25">82%</text>
<text x="510.20" y="232.30" font-size="6.3" font-weight="bold" text-anchor="end" fill="#1a1a1a" stroke="#1a1a1a" stroke-width="0.25">54%</text>
<text x="510.20" y="286.90" font-size="6.3" font-weight="bold" text-anchor="end" fill="#1a1a1a" stroke="#1a1a1a" stroke-width="0.25">46%</text>
<line x1="439.60" y1="288.90" x2="439.60" y2="290.70" stroke="#111" stroke-width="0.7"/>
<line x1="437.80" y1="288.90" x2="439.60" y2="288.90" stroke="#111" stroke-width="0.7"/>
<text x="439.00" y="298.50" font-size="5.8" fill="#222" stroke="#222" stroke-width="0.2">10<tspan dy="-2.4" font-size="4.6">0</tspan></text>
<text x="434.40" y="294.90" font-size="5.8" fill="#222" stroke="#222" stroke-width="0.2" transform="rotate(-90 434.40 294.90)">10<tspan dy="-2.4" font-size="4.6">0</tspan></text>
<line x1="457.95" y1="288.90" x2="457.95" y2="290.70" stroke="#111" stroke-width="0.7"/>
<line x1="437.80" y1="272.60" x2="439.60" y2="272.60" stroke="#111" stroke-width="0.7"/>
<text x="457.35" y="298.50" font-size="5.8" fill="#222" stroke="#222" stroke-width="0.2">10<tspan dy="-2.4" font-size="4.6">1</tspan></text>
<text x="434.40" y="277.26" font-size="5.8" fill="#222" stroke="#222" stroke-width="0.2" transform="rotate(-90 434.40 277.26)">10<tspan dy="-2.4" font-size="4.6">1</tspan></text>
<line x1="476.30" y1="288.90" x2="476.30" y2="290.70" stroke="#111" stroke-width="0.7"/>
<line x1="437.80" y1="256.30" x2="439.60" y2="256.30" stroke="#111" stroke-width="0.7"/>
<text x="475.70" y="298.50" font-size="5.8" fill="#222" stroke="#222" stroke-width="0.2">10<tspan dy="-2.4" font-size="4.6">2</tspan></text>
<text x="434.40" y="259.63" font-size="5.8" fill="#222" stroke="#222" stroke-width="0.2" transform="rotate(-90 434.40 259.63)">10<tspan dy="-2.4" font-size="4.6">2</tspan></text>
<line x1="494.65" y1="288.90" x2="494.65" y2="290.70" stroke="#111" stroke-width="0.7"/>
<line x1="437.80" y1="240.00" x2="439.60" y2="240.00" stroke="#111" stroke-width="0.7"/>
<text x="494.05" y="298.50" font-size="5.8" fill="#222" stroke="#222" stroke-width="0.2">10<tspan dy="-2.4" font-size="4.6">3</tspan></text>
<text x="434.40" y="241.99" font-size="5.8" fill="#222" stroke="#222" stroke-width="0.2" transform="rotate(-90 434.40 241.99)">10<tspan dy="-2.4" font-size="4.6">3</tspan></text>
<line x1="513.00" y1="288.90" x2="513.00" y2="290.70" stroke="#111" stroke-width="0.7"/>
<line x1="437.80" y1="223.70" x2="439.60" y2="223.70" stroke="#111" stroke-width="0.7"/>
<text x="512.40" y="298.50" font-size="5.8" fill="#222" stroke="#222" stroke-width="0.2">10<tspan dy="-2.4" font-size="4.6">4</tspan></text>
<text x="434.40" y="224.35" font-size="5.8" fill="#222" stroke="#222" stroke-width="0.2" transform="rotate(-90 434.40 224.35)">10<tspan dy="-2.4" font-size="4.6">4</tspan></text>
<line x1="249.60" y1="310.80" x2="361.20" y2="310.80" stroke="#111" stroke-width="1.0"/>
<line x1="390.80" y1="310.80" x2="503.00" y2="310.80" stroke="#111" stroke-width="1.0"/>
<path d="M506.6 310.8 l-4.8 -2 v4 z" fill="#111"/>
<text x="375.20" y="313.00" font-size="6.0" font-weight="bold" text-anchor="middle" fill="#111" stroke="#111" stroke-width="0.25">eGFP</text>
</g>
<g id="panelE">
<text x="1.00" y="340.40" font-size="10.2" font-weight="bold" fill="#111" stroke="#111" stroke-width="0.25">E</text>
<text x="29.00" y="350.30" font-size="9.7" font-weight="bold" fill="#111" stroke="#111" stroke-width="0.25">K562</text>
<line x1="48.70" y1="369.90" x2="48.70" y2="495.30" stroke="#111" stroke-width="1.4"/>
<line x1="48.00" y1="494.60" x2="200.50" y2="494.60" stroke="#111" stroke-width="1.4"/>
<text x="45.30" y="496.60" font-size="5.8" font-weight="bold" text-anchor="end" fill="#222" stroke="#222" stroke-width="0.25">0</text>
<text x="45.30" y="467.60" font-size="5.8" font-weight="bold" text-anchor="end" fill="#222" stroke="#222" stroke-width="0.25">20</text>
<text x="45.30" y="438.60" font-size="5.8" font-weight="bold" text-anchor="end" fill="#222" stroke="#222" stroke-width="0.25">40</text>
<text x="45.30" y="409.60" font-size="5.8" font-weight="bold" text-anchor="end" fill="#222" stroke="#222" stroke-width="0.25">60</text>
<text x="45.30" y="380.60" font-size="5.8" font-weight="bold" text-anchor="end" fill="#222" stroke="#222" stroke-width="0.25">80</text>
<text x="32.30" y="420.50" font-size="6.4" font-weight="bold" text-anchor="middle" fill="#222" transform="rotate(-90 32.30 420.50)" stroke="#222" stroke-width="0.25">% of cells</text>
<line x1="60.30" y1="361.90" x2="79.90" y2="361.90" stroke="#111" stroke-width="1.3"/>
<line x1="93.50" y1="361.90" x2="114.80" y2="361.90" stroke="#111" stroke-width="1.3"/>
<line x1="60.30" y1="359.20" x2="60.30" y2="364.60" stroke="#111" stroke-width="1.3"/>
<line x1="114.80" y1="359.20" x2="114.80" y2="364.60" stroke="#111" stroke-width="1.3"/>
<text x="86.70" y="364.60" font-size="7.8" text-anchor="middle" fill="#1a1a1a">G1</text>
<line x1="133.20" y1="361.90" x2="143.50" y2="361.90" stroke="#111" stroke-width="1.3"/>
<line x1="173.90" y1="361.90" x2="184.60" y2="361.90" stroke="#111" stroke-width="1.3"/>
<line x1="133.20" y1="359.20" x2="133.20" y2="364.60" stroke="#111" stroke-width="1.3"/>
<line x1="184.60" y1="359.20" x2="184.60" y2="364.60" stroke="#111" stroke-width="1.3"/>
<text x="158.70" y="364.60" font-size="7.8" text-anchor="middle" fill="#1a1a1a">S,G2/M</text>
<rect x="66.60" y="438.34" width="6.30" height="56.26" fill="#8e8e8e"/>
<line x1="69.75" y1="438.34" x2="69.75" y2="429.35" stroke="#1a1a1a" stroke-width="1.0"/>
<line x1="67.85" y1="429.35" x2="71.65" y2="429.35" stroke="#1a1a1a" stroke-width="1.2"/>
<text x="71.35" y="501.20" font-size="5.4" font-weight="bold" text-anchor="end" fill="#333" transform="rotate(-52 71.35 501.20)" stroke="#333" stroke-width="0.25">mock</text>
<rect x="80.40" y="378.02" width="6.30" height="116.58" fill="#8e8e8e"/>
<line x1="83.55" y1="378.02" x2="83.55" y2="373.53" stroke="#1a1a1a" stroke-width="1.0"/>
<line x1="81.65" y1="373.53" x2="85.45" y2="373.53" stroke="#1a1a1a" stroke-width="1.2"/>
<text x="85.15" y="501.20" font-size="5.4" font-weight="bold" text-anchor="end" fill="#333" transform="rotate(-52 85.15 501.20)" stroke="#333" stroke-width="0.25">RE</text>
<rect x="94.10" y="429.35" width="6.30" height="65.25" fill="#0a0a0a"/>
<line x1="97.25" y1="429.35" x2="97.25" y2="415.72" stroke="#1a1a1a" stroke-width="1.0"/>
<line x1="95.35" y1="415.72" x2="99.15" y2="415.72" stroke="#1a1a1a" stroke-width="1.2"/>
<text x="98.85" y="501.20" font-size="5.4" font-weight="bold" text-anchor="end" fill="#333" transform="rotate(-52 98.85 501.20)" stroke="#333" stroke-width="0.25">RE-m5</text>
<rect x="108.00" y="437.62" width="6.30" height="56.99" fill="#8e8e8e"/>
<line x1="111.15" y1="437.62" x2="111.15" y2="429.64" stroke="#1a1a1a" stroke-width="1.0"/>
<line x1="109.25" y1="429.64" x2="113.05" y2="429.64" stroke="#1a1a1a" stroke-width="1.2"/>
<text x="112.75" y="501.20" font-size="5.4" font-weight="bold" text-anchor="end" fill="#333" transform="rotate(-52 112.75 501.20)" stroke="#333" stroke-width="0.25">RE-dNHR2</text>
<rect x="136.00" y="406.44" width="6.30" height="88.16" fill="#8e8e8e"/>
<line x1="139.15" y1="406.44" x2="139.15" y2="397.74" stroke="#1a1a1a" stroke-width="1.0"/>
<line x1="137.25" y1="397.74" x2="141.05" y2="397.74" stroke="#1a1a1a" stroke-width="1.2"/>
<text x="140.75" y="501.20" font-size="5.4" font-weight="bold" text-anchor="end" fill="#333" transform="rotate(-52 140.75 501.20)" stroke="#333" stroke-width="0.25">mock</text>
<rect x="150.10" y="466.18" width="6.30" height="28.42" fill="#8e8e8e"/>
<line x1="153.25" y1="466.18" x2="153.25" y2="462.41" stroke="#1a1a1a" stroke-width="1.0"/>
<line x1="151.35" y1="462.41" x2="155.15" y2="462.41" stroke="#1a1a1a" stroke-width="1.2"/>
<text x="154.85" y="501.20" font-size="5.4" font-weight="bold" text-anchor="end" fill="#333" transform="rotate(-52 154.85 501.20)" stroke="#333" stroke-width="0.25">RE</text>
<rect x="164.10" y="413.69" width="6.30" height="80.91" fill="#0a0a0a"/>
<line x1="167.25" y1="413.69" x2="167.25" y2="399.48" stroke="#1a1a1a" stroke-width="1.0"/>
<line x1="165.35" y1="399.48" x2="169.15" y2="399.48" stroke="#1a1a1a" stroke-width="1.2"/>
<text x="168.85" y="501.20" font-size="5.4" font-weight="bold" text-anchor="end" fill="#333" transform="rotate(-52 168.85 501.20)" stroke="#333" stroke-width="0.25">RE-m5</text>
<rect x="177.80" y="406.44" width="6.30" height="88.16" fill="#8e8e8e"/>
<line x1="180.95" y1="406.44" x2="180.95" y2="397.74" stroke="#1a1a1a" stroke-width="1.0"/>
<line x1="179.05" y1="397.74" x2="182.85" y2="397.74" stroke="#1a1a1a" stroke-width="1.2"/>
<text x="182.55" y="501.20" font-size="5.4" font-weight="bold" text-anchor="end" fill="#333" transform="rotate(-52 182.55 501.20)" stroke="#333" stroke-width="0.25">RE-dNHR2</text>
</g>
<g id="panelG">
<text x="215.00" y="359.40" font-size="10.2" font-weight="bold" fill="#111" stroke="#111" stroke-width="0.25">G</text>
<text x="269.80" y="368.90" font-size="8.9" font-weight="bold" fill="#111" stroke="#111" stroke-width="0.25">U937 +VD3/TGFß</text>
<line x1="244.50" y1="387.50" x2="244.50" y2="493.70" stroke="#111" stroke-width="1.2"/>
<line x1="243.90" y1="493.10" x2="359.00" y2="493.10" stroke="#111" stroke-width="1.2"/>
<text x="241.80" y="495.10" font-size="5.5" font-weight="bold" text-anchor="end" fill="#222" stroke="#222" stroke-width="0.25">0</text>
<text x="241.80" y="482.74" font-size="5.5" font-weight="bold" text-anchor="end" fill="#222" stroke="#222" stroke-width="0.25">10</text>
<text x="241.80" y="470.38" font-size="5.5" font-weight="bold" text-anchor="end" fill="#222" stroke="#222" stroke-width="0.25">20</text>
<text x="241.80" y="458.02" font-size="5.5" font-weight="bold" text-anchor="end" fill="#222" stroke="#222" stroke-width="0.25">30</text>
<text x="241.80" y="445.66" font-size="5.5" font-weight="bold" text-anchor="end" fill="#222" stroke="#222" stroke-width="0.25">40</text>
<text x="241.80" y="433.30" font-size="5.5" font-weight="bold" text-anchor="end" fill="#222" stroke="#222" stroke-width="0.25">50</text>
<text x="241.80" y="420.94" font-size="5.5" font-weight="bold" text-anchor="end" fill="#222" stroke="#222" stroke-width="0.25">60</text>
<text x="241.80" y="408.58" font-size="5.5" font-weight="bold" text-anchor="end" fill="#222" stroke="#222" stroke-width="0.25">70</text>
<text x="241.80" y="396.22" font-size="5.5" font-weight="bold" text-anchor="end" fill="#222" stroke="#222" stroke-width="0.25">80</text>
<text x="229.60" y="438.00" font-size="6.4" font-weight="bold" text-anchor="middle" fill="#222" transform="rotate(-90 229.60 438.00)" stroke="#222" stroke-width="0.25">% of CD14+ cells</text>
<text x="243.80" y="503.00" font-size="5.6" text-anchor="end" fill="#2a2a2a">VD3</text>
<rect x="246.60" y="491.37" width="7.90" height="1.73" fill="#8e8e8e"/>
<rect x="257.80" y="392.12" width="7.90" height="100.98" fill="#8e8e8e"/>
<line x1="250.55" y1="491.37" x2="250.55" y2="490.38" stroke="#222" stroke-width="0.8"/>
<line x1="248.15" y1="490.38" x2="252.95" y2="490.38" stroke="#222" stroke-width="0.9"/>
<line x1="261.75" y1="392.12" x2="261.75" y2="390.51" stroke="#222" stroke-width="0.8"/>
<line x1="259.35" y1="390.51" x2="264.15" y2="390.51" stroke="#222" stroke-width="0.9"/>
<text x="250.55" y="502.40" font-size="5.6" text-anchor="middle" fill="#333">-</text>
<text x="261.75" y="502.60" font-size="5.6" text-anchor="middle" fill="#333">+</text>
<line x1="246.40" y1="506.00" x2="265.90" y2="506.00" stroke="#111" stroke-width="1.6"/>
<text x="256.15" y="513.60" font-size="5.7" text-anchor="middle" fill="#2a2a2a">wt</text>
<rect x="269.85" y="492.85" width="7.90" height="0.25" fill="#8e8e8e"/>
<rect x="281.05" y="425.99" width="7.90" height="67.11" fill="#8e8e8e"/>
<line x1="273.80" y1="492.85" x2="273.80" y2="492.85" stroke="#222" stroke-width="0.8"/>
<line x1="271.40" y1="492.85" x2="276.20" y2="492.85" stroke="#222" stroke-width="0.9"/>
<line x1="285.00" y1="425.99" x2="285.00" y2="423.14" stroke="#222" stroke-width="0.8"/>
<line x1="282.60" y1="423.14" x2="287.40" y2="423.14" stroke="#222" stroke-width="0.9"/>
<text x="273.80" y="502.40" font-size="5.6" text-anchor="middle" fill="#333">-</text>
<text x="285.00" y="502.60" font-size="5.6" text-anchor="middle" fill="#333">+</text>
<line x1="269.65" y1="506.00" x2="289.15" y2="506.00" stroke="#111" stroke-width="1.6"/>
<text x="279.40" y="513.60" font-size="5.7" text-anchor="middle" fill="#2a2a2a">RE</text>
<rect x="293.10" y="491.37" width="7.90" height="1.73" fill="#8e8e8e"/>
<rect x="304.30" y="398.55" width="7.90" height="94.55" fill="#0a0a0a"/>
<line x1="297.05" y1="491.37" x2="297.05" y2="490.38" stroke="#222" stroke-width="0.8"/>
<line x1="294.65" y1="490.38" x2="299.45" y2="490.38" stroke="#222" stroke-width="0.9"/>
<line x1="308.25" y1="398.55" x2="308.25" y2="396.44" stroke="#222" stroke-width="0.8"/>
<line x1="305.85" y1="396.44" x2="310.65" y2="396.44" stroke="#222" stroke-width="0.9"/>
<text x="297.05" y="502.40" font-size="5.6" text-anchor="middle" fill="#333">-</text>
<text x="308.25" y="502.60" font-size="5.6" text-anchor="middle" fill="#333">+</text>
<line x1="292.90" y1="506.00" x2="312.40" y2="506.00" stroke="#111" stroke-width="1.6"/>
<text x="302.65" y="513.60" font-size="5.7" text-anchor="middle" fill="#2a2a2a">RE-m5</text>
<rect x="316.35" y="491.37" width="7.90" height="1.73" fill="#8e8e8e"/>
<rect x="327.55" y="424.87" width="7.90" height="68.23" fill="#8e8e8e"/>
<line x1="320.30" y1="491.37" x2="320.30" y2="490.38" stroke="#222" stroke-width="0.8"/>
<line x1="317.90" y1="490.38" x2="322.70" y2="490.38" stroke="#222" stroke-width="0.9"/>
<line x1="331.50" y1="424.87" x2="331.50" y2="421.16" stroke="#222" stroke-width="0.8"/>
<line x1="329.10" y1="421.16" x2="333.90" y2="421.16" stroke="#222" stroke-width="0.9"/>
<text x="320.30" y="502.40" font-size="5.6" text-anchor="middle" fill="#333">-</text>
<text x="331.50" y="502.60" font-size="5.6" text-anchor="middle" fill="#333">+</text>
<line x1="316.15" y1="506.00" x2="335.65" y2="506.00" stroke="#111" stroke-width="1.6"/>
<text x="325.90" y="513.60" font-size="5.7" text-anchor="middle" fill="#2a2a2a">RE-cm5</text>
<rect x="339.60" y="491.86" width="7.90" height="1.24" fill="#8e8e8e"/>
<rect x="350.80" y="391.75" width="7.90" height="101.35" fill="#8e8e8e"/>
<line x1="343.55" y1="491.86" x2="343.55" y2="491.25" stroke="#222" stroke-width="0.8"/>
<line x1="341.15" y1="491.25" x2="345.95" y2="491.25" stroke="#222" stroke-width="0.9"/>
<line x1="354.75" y1="391.75" x2="354.75" y2="391.25" stroke="#222" stroke-width="0.8"/>
<line x1="352.35" y1="391.25" x2="357.15" y2="391.25" stroke="#222" stroke-width="0.9"/>
<text x="343.55" y="502.40" font-size="5.6" text-anchor="middle" fill="#333">-</text>
<text x="354.75" y="502.60" font-size="5.6" text-anchor="middle" fill="#333">+</text>
<line x1="339.40" y1="506.00" x2="358.90" y2="506.00" stroke="#111" stroke-width="1.6"/>
<text x="340.00" y="513.60" font-size="5.7" fill="#2a2a2a">RE-dNHR2</text>
<path d="M283 384.8 v-2.1 h18.6 M308 382.7 h23.9 v2.1" fill="none" stroke="#333" stroke-width="0.8"/>
<text x="304.60" y="386.60" font-size="8.0" font-weight="bold" text-anchor="middle" fill="#222" stroke="#222" stroke-width="0.25">*</text>
<path d="M283 393.2 v-2.2 h6 M300.5 391 h9.6 M307.6 391 v1.8 M324.6 391 h7.3 v2.2" fill="none" stroke="#333" stroke-width="0.8"/>
<text x="294.80" y="394.90" font-size="7.2" font-weight="bold" text-anchor="middle" fill="#222" stroke="#222" stroke-width="0.25">***</text>
<text x="319.20" y="394.90" font-size="7.2" font-weight="bold" text-anchor="middle" fill="#222" stroke="#222" stroke-width="0.25">**</text>
<text x="435.40" y="368.90" font-size="8.9" font-weight="bold" fill="#111" stroke="#111" stroke-width="0.25">U937 +ATRA</text>
<line x1="418.10" y1="398.60" x2="418.10" y2="493.70" stroke="#111" stroke-width="1.2"/>
<line x1="417.50" y1="493.10" x2="516.00" y2="493.10" stroke="#111" stroke-width="1.2"/>
<text x="416.60" y="495.10" font-size="5.5" font-weight="bold" text-anchor="end" fill="#222" stroke="#222" stroke-width="0.25">0</text>
<text x="416.60" y="476.30" font-size="5.5" font-weight="bold" text-anchor="end" fill="#222" stroke="#222" stroke-width="0.25">10</text>
<text x="416.60" y="457.50" font-size="5.5" font-weight="bold" text-anchor="end" fill="#222" stroke="#222" stroke-width="0.25">20</text>
<text x="416.60" y="438.70" font-size="5.5" font-weight="bold" text-anchor="end" fill="#222" stroke="#222" stroke-width="0.25">30</text>
<text x="416.60" y="419.90" font-size="5.5" font-weight="bold" text-anchor="end" fill="#222" stroke="#222" stroke-width="0.25">40</text>
<text x="416.60" y="401.10" font-size="5.5" font-weight="bold" text-anchor="end" fill="#222" stroke="#222" stroke-width="0.25">50</text>
<text x="401.80" y="445.50" font-size="6.4" font-weight="bold" text-anchor="middle" fill="#222" transform="rotate(-90 401.80 445.50)" stroke="#222" stroke-width="0.25">% of CD11b+ cells</text>
<text x="418.80" y="502.00" font-size="5.6" text-anchor="end" fill="#2a2a2a">ATRA</text>
<rect x="420.40" y="491.03" width="8.10" height="2.07" fill="#8e8e8e"/>
<rect x="432.50" y="407.94" width="8.10" height="85.16" fill="#8e8e8e"/>
<line x1="424.45" y1="491.03" x2="424.45" y2="490.09" stroke="#222" stroke-width="0.8"/>
<line x1="422.05" y1="490.09" x2="426.85" y2="490.09" stroke="#222" stroke-width="0.9"/>
<line x1="436.55" y1="407.94" x2="436.55" y2="405.30" stroke="#222" stroke-width="0.8"/>
<line x1="434.15" y1="405.30" x2="438.95" y2="405.30" stroke="#222" stroke-width="0.9"/>
<text x="424.45" y="501.80" font-size="5.6" text-anchor="middle" fill="#333">-</text>
<text x="436.55" y="502.00" font-size="5.6" text-anchor="middle" fill="#333">+</text>
<line x1="420.60" y1="505.50" x2="439.60" y2="505.50" stroke="#111" stroke-width="1.6"/>
<text x="429.90" y="513.20" font-size="5.5" text-anchor="middle" fill="#2a2a2a">wt</text>
<rect x="445.25" y="491.60" width="8.10" height="1.50" fill="#8e8e8e"/>
<rect x="457.35" y="411.51" width="8.10" height="81.59" fill="#8e8e8e"/>
<line x1="449.30" y1="491.60" x2="449.30" y2="490.84" stroke="#222" stroke-width="0.8"/>
<line x1="446.90" y1="490.84" x2="451.70" y2="490.84" stroke="#222" stroke-width="0.9"/>
<line x1="461.40" y1="411.51" x2="461.40" y2="410.38" stroke="#222" stroke-width="0.8"/>
<line x1="459.00" y1="410.38" x2="463.80" y2="410.38" stroke="#222" stroke-width="0.9"/>
<text x="449.30" y="501.80" font-size="5.6" text-anchor="middle" fill="#333">-</text>
<text x="461.40" y="502.00" font-size="5.6" text-anchor="middle" fill="#333">+</text>
<line x1="445.45" y1="505.50" x2="464.45" y2="505.50" stroke="#111" stroke-width="1.6"/>
<text x="454.75" y="513.20" font-size="5.5" text-anchor="middle" fill="#2a2a2a">mock</text>
<rect x="470.10" y="491.60" width="8.10" height="1.50" fill="#8e8e8e"/>
<rect x="482.20" y="445.54" width="8.10" height="47.56" fill="#8e8e8e"/>
<line x1="474.15" y1="491.60" x2="474.15" y2="490.84" stroke="#222" stroke-width="0.8"/>
<line x1="471.75" y1="490.84" x2="476.55" y2="490.84" stroke="#222" stroke-width="0.9"/>
<line x1="486.25" y1="445.54" x2="486.25" y2="444.03" stroke="#222" stroke-width="0.8"/>
<line x1="483.85" y1="444.03" x2="488.65" y2="444.03" stroke="#222" stroke-width="0.9"/>
<text x="474.15" y="501.80" font-size="5.6" text-anchor="middle" fill="#333">-</text>
<text x="486.25" y="502.00" font-size="5.6" text-anchor="middle" fill="#333">+</text>
<line x1="470.30" y1="505.50" x2="489.30" y2="505.50" stroke="#111" stroke-width="1.6"/>
<text x="479.60" y="513.20" font-size="5.5" text-anchor="middle" fill="#2a2a2a">REtr</text>
<rect x="494.95" y="491.78" width="8.10" height="1.32" fill="#8e8e8e"/>
<rect x="507.05" y="410.38" width="8.10" height="82.72" fill="#0a0a0a"/>
<line x1="499.00" y1="491.78" x2="499.00" y2="491.03" stroke="#222" stroke-width="0.8"/>
<line x1="496.60" y1="491.03" x2="501.40" y2="491.03" stroke="#222" stroke-width="0.9"/>
<line x1="511.10" y1="410.38" x2="511.10" y2="409.25" stroke="#222" stroke-width="0.8"/>
<line x1="508.70" y1="409.25" x2="513.50" y2="409.25" stroke="#222" stroke-width="0.9"/>
<text x="499.00" y="501.80" font-size="5.6" text-anchor="middle" fill="#333">-</text>
<text x="511.10" y="502.00" font-size="5.6" text-anchor="middle" fill="#333">+</text>
<line x1="495.15" y1="505.50" x2="514.15" y2="505.50" stroke="#111" stroke-width="1.6"/>
<text x="505.25" y="513.20" font-size="5.5" text-anchor="middle" fill="#2a2a2a">REtr-m5</text>
</g>
</svg>
</body></html>
